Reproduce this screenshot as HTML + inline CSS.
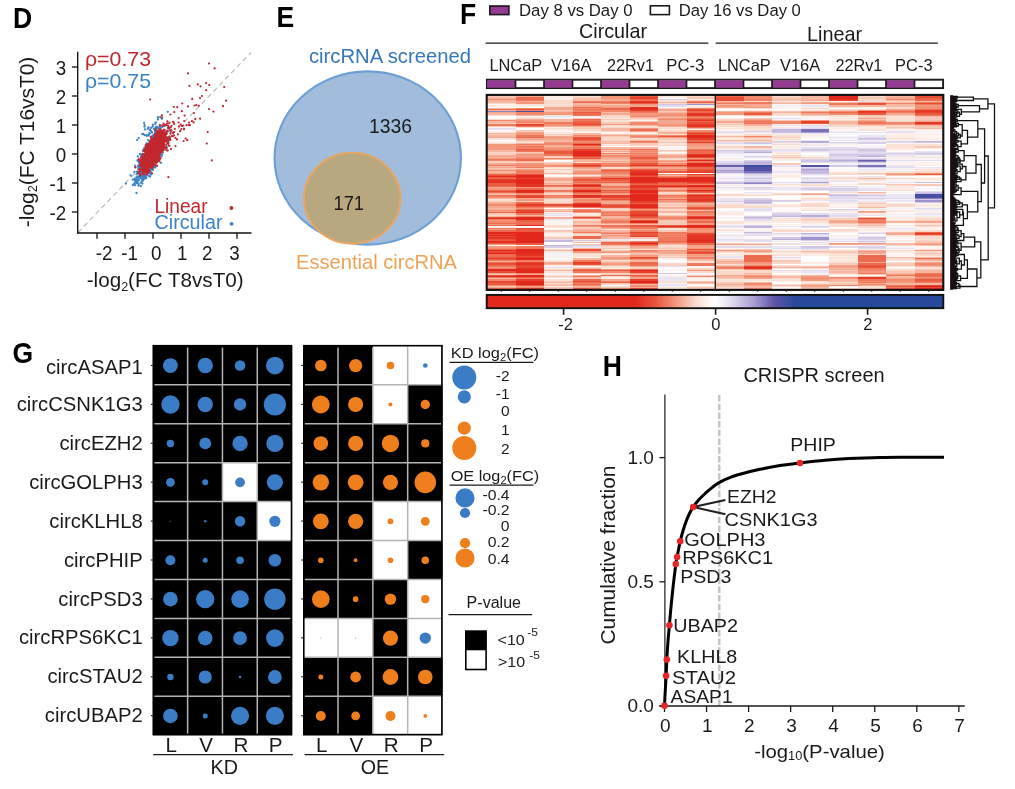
<!DOCTYPE html>
<html lang="en">
<head>
<meta charset="utf-8">
<title>Figure panels D-H</title>
<style>
html,body{margin:0;padding:0;background:#fff;}
body{width:1015px;height:789px;overflow:hidden;}
svg{display:block;font-family:"Liberation Sans",sans-serif;}
</style>
</head>
<body>
<svg width="1015" height="789" viewBox="0 0 1015 789">
<rect width="1015" height="789" fill="#ffffff"/>
<g id="panel-d">
<text x="12.9" y="27.9" font-size="28.7" fill="#000" font-weight="bold" textLength="19.17" lengthAdjust="spacingAndGlyphs">D</text>
<line x1="78" y1="232.5" x2="251" y2="52.5" stroke="#b5b5b5" stroke-width="1.1" stroke-dasharray="5 3.5"/>
<path d="M149.1 154.8h0M151.8 156.0h0M148.3 162.0h0M155.7 142.9h0M155.9 143.9h0M153.1 149.6h0M141.6 166.6h0M152.6 148.1h0M149.6 171.4h0M149.3 162.1h0M153.4 150.8h0M156.3 150.0h0M152.1 150.0h0M143.5 156.2h0M150.7 146.4h0M151.3 160.2h0M150.6 156.6h0M154.0 147.4h0M152.8 159.0h0M145.7 155.9h0M147.4 160.1h0M158.5 152.3h0M148.0 150.7h0M143.6 171.7h0M153.9 155.8h0M154.4 149.2h0M142.6 164.9h0M152.0 145.9h0M157.4 140.1h0M156.5 154.6h0M156.6 149.1h0M153.8 159.6h0M149.1 162.9h0M164.2 145.6h0M144.4 165.8h0M156.7 139.7h0M151.0 174.6h0M155.8 151.6h0M143.7 161.6h0M156.4 143.4h0M151.7 150.5h0M157.3 138.3h0M152.5 147.9h0M140.7 165.0h0M154.6 144.1h0M144.8 171.9h0M161.4 149.2h0M147.8 153.3h0M140.8 162.1h0M154.9 148.8h0M151.3 149.4h0M148.8 150.4h0M150.1 160.0h0M156.6 144.2h0M144.9 159.5h0M160.0 141.3h0M146.0 165.8h0M152.1 155.3h0M161.5 142.9h0M161.6 144.5h0M146.3 159.2h0M154.4 142.0h0M153.0 150.1h0M150.8 151.1h0M150.2 154.5h0M154.5 148.4h0M153.6 145.7h0M160.1 135.2h0M151.1 157.8h0M148.9 151.9h0M149.1 155.7h0M168.3 141.7h0M146.0 162.9h0M153.0 149.5h0M147.9 156.1h0M154.8 151.9h0M161.9 131.4h0M149.6 158.5h0M151.0 155.5h0M140.9 178.3h0M160.2 146.6h0M148.6 152.3h0M151.1 143.3h0M145.2 169.0h0M148.4 155.3h0M165.3 148.5h0M161.4 146.4h0M159.7 150.0h0M149.0 149.8h0M150.6 154.4h0M155.1 146.2h0M146.7 151.5h0M157.6 144.7h0M168.1 131.3h0M156.9 145.8h0M150.3 151.0h0M150.9 150.3h0M149.6 169.5h0M157.7 149.7h0M151.8 165.0h0M155.4 141.0h0M161.6 142.1h0M155.5 155.4h0M150.4 143.9h0M142.9 158.5h0M157.0 145.0h0M138.4 168.3h0M153.3 155.3h0M152.4 149.2h0M162.0 142.0h0M152.4 140.8h0M159.1 141.0h0M145.3 158.2h0M152.0 152.2h0M159.2 141.3h0M142.5 174.3h0M140.8 168.3h0M155.2 151.7h0M149.2 152.0h0M148.1 150.4h0M148.3 152.1h0M153.7 137.5h0M146.0 157.8h0M146.7 171.8h0M139.5 168.8h0M146.3 164.3h0M151.1 155.2h0M148.4 158.2h0M160.0 137.6h0M151.2 147.0h0M154.9 157.4h0M146.0 156.4h0M146.2 169.0h0M154.0 143.2h0M149.4 151.9h0M156.3 154.0h0M146.7 168.3h0M157.9 146.3h0M150.1 162.7h0M145.2 167.1h0M145.3 163.2h0M140.0 173.6h0M155.0 162.5h0M156.1 147.5h0M144.4 174.6h0M154.7 151.7h0M153.1 145.2h0M153.9 147.0h0M155.9 140.5h0M160.5 153.1h0M151.9 143.2h0M152.0 156.9h0M166.3 139.4h0M146.5 145.0h0M145.5 160.4h0M160.9 137.0h0M151.6 146.9h0M148.0 161.5h0M150.6 149.4h0M152.3 154.1h0M148.3 163.0h0M155.7 145.4h0M150.6 162.4h0M160.6 128.0h0M162.9 152.4h0M153.2 147.1h0M158.3 137.8h0M149.9 153.1h0M139.7 168.7h0M155.6 151.8h0M152.3 138.6h0M147.5 166.9h0M152.6 150.5h0M153.1 158.6h0M158.4 132.9h0M150.6 166.3h0M156.6 136.7h0M157.7 136.0h0M147.1 160.6h0M144.3 173.7h0M150.0 153.0h0M148.9 160.0h0M152.8 148.7h0M154.2 147.4h0M147.9 154.9h0M154.7 154.4h0M149.0 158.9h0M150.9 154.1h0M151.3 153.1h0M155.2 156.8h0M150.5 147.9h0M154.5 149.9h0M157.0 151.2h0M143.0 170.0h0M145.3 160.3h0M155.1 167.6h0M142.2 159.8h0M154.4 159.2h0M146.7 159.2h0M153.6 148.7h0M156.5 139.1h0M149.9 152.6h0M156.4 137.2h0M160.0 146.3h0M148.9 153.4h0M147.2 154.2h0M151.8 146.6h0M142.9 150.8h0M158.2 142.9h0M144.2 148.1h0M147.6 154.9h0M156.4 144.8h0M145.9 163.4h0M150.0 148.3h0M155.4 146.5h0M154.1 145.0h0M152.7 151.5h0M148.6 154.4h0M149.0 163.8h0M156.5 155.9h0M156.2 160.8h0M147.0 158.4h0M154.7 148.5h0M155.2 157.9h0M158.7 136.4h0M159.7 145.3h0M156.7 158.2h0M152.5 144.9h0M143.3 170.2h0M160.3 151.0h0M146.8 171.4h0M153.4 161.4h0M151.2 152.7h0M152.6 146.6h0M155.1 138.2h0M147.4 165.9h0M150.4 164.6h0M151.5 154.1h0M159.1 151.9h0M146.3 164.4h0M151.9 155.7h0M154.0 155.3h0M154.0 146.6h0M153.6 155.4h0M159.6 159.7h0M147.3 162.0h0M144.3 166.3h0M156.9 154.5h0M151.7 156.2h0M152.1 148.3h0M154.4 155.2h0M151.4 154.8h0M154.3 146.4h0M152.8 162.2h0M152.5 158.0h0M147.1 163.4h0M149.3 157.6h0M155.6 149.5h0M163.6 133.5h0M156.6 143.5h0M164.4 147.8h0M147.7 159.6h0M147.3 144.0h0M149.4 148.3h0M152.4 145.0h0M154.7 149.2h0M157.6 150.8h0M160.5 144.8h0M146.4 147.5h0M150.8 155.4h0M157.1 143.1h0M147.4 160.1h0M152.3 147.1h0M142.8 157.2h0M159.5 138.7h0M154.5 151.8h0M160.6 142.2h0M156.5 148.3h0M146.4 158.3h0M158.0 141.7h0M146.2 158.0h0M150.7 153.3h0M155.3 138.0h0M142.3 154.0h0M149.4 152.0h0M149.0 159.2h0M138.3 165.7h0M162.0 143.5h0M150.0 169.5h0M158.7 143.9h0M152.6 154.5h0M154.7 156.4h0M156.5 155.7h0M150.6 153.5h0M154.8 149.7h0M147.2 161.1h0M144.8 154.9h0M155.8 146.9h0M151.9 158.8h0M148.7 162.3h0M151.6 149.9h0M147.9 144.7h0M148.6 159.6h0M170.6 132.1h0M149.0 157.7h0M151.3 151.3h0M149.6 154.9h0M149.7 151.6h0M146.0 171.6h0M155.1 155.2h0M145.1 161.5h0M146.9 158.0h0M154.3 146.3h0M154.5 149.1h0M145.5 165.9h0M155.6 150.3h0M149.1 153.0h0M145.8 160.0h0M162.2 138.0h0M153.0 152.4h0M158.0 139.3h0M158.2 146.7h0M151.8 153.6h0M139.2 166.5h0M161.5 148.6h0M155.7 147.1h0M152.8 148.8h0M145.7 167.0h0M160.5 141.3h0M151.4 164.8h0M145.2 163.6h0M158.3 137.8h0M146.0 147.3h0M151.6 159.2h0M152.6 147.8h0M150.9 164.4h0M152.4 150.4h0M146.5 165.3h0M147.9 157.4h0M151.6 154.6h0M147.0 154.7h0M159.4 141.8h0M158.1 147.3h0M149.9 151.5h0M160.0 140.8h0M150.9 153.7h0M144.9 166.6h0M147.6 158.7h0M152.9 166.8h0M151.2 152.6h0M146.6 156.7h0M152.5 156.9h0M159.0 152.0h0M148.8 159.4h0M156.3 146.2h0M155.3 151.9h0M148.1 147.9h0M141.3 155.3h0M148.9 159.1h0M149.5 150.1h0M152.8 168.0h0M152.2 146.7h0M146.5 143.3h0M152.0 151.2h0M155.0 144.6h0M163.4 140.9h0M160.9 162.8h0M156.8 146.9h0M149.4 141.5h0M152.6 153.9h0M152.2 159.3h0M147.0 157.8h0M151.8 153.0h0M148.2 153.3h0M154.6 149.3h0M155.4 147.8h0M142.0 161.0h0M157.0 151.0h0M155.8 143.3h0M139.7 164.4h0M150.6 148.9h0M153.3 151.9h0M141.7 165.3h0M152.9 153.7h0M153.2 150.2h0M156.1 148.1h0M158.4 157.5h0M147.8 156.0h0M159.2 142.3h0M146.4 151.7h0M148.1 155.0h0M159.5 138.6h0M159.7 143.9h0M153.1 151.7h0M148.9 150.4h0M164.9 133.6h0M147.7 157.6h0M145.5 161.8h0M155.4 148.9h0M159.2 151.5h0M160.2 149.4h0M150.4 160.5h0M147.4 155.4h0M153.5 153.4h0M149.4 145.9h0M150.8 152.7h0M156.7 142.0h0M138.2 160.4h0M168.2 137.5h0M150.4 153.0h0M154.2 143.7h0M153.9 157.7h0M149.1 150.7h0M150.1 164.8h0M157.8 157.0h0M152.0 156.5h0M156.1 150.7h0M149.1 161.9h0M153.7 155.0h0M149.6 152.0h0M152.0 140.0h0M149.6 161.1h0M134.5 171.9h0M148.7 159.9h0M158.5 151.2h0M154.1 149.4h0M142.6 169.0h0M163.2 146.2h0M154.9 145.9h0M152.7 148.5h0M158.6 142.3h0M157.2 146.4h0M157.8 148.4h0M146.0 151.3h0M154.4 149.8h0M149.1 164.9h0M149.8 150.1h0M152.2 148.8h0M147.5 151.4h0M151.8 157.8h0M155.8 145.5h0M152.4 156.9h0M148.7 154.6h0M157.3 152.4h0M153.3 149.4h0M144.9 160.9h0M151.6 156.5h0M151.4 144.1h0M147.3 158.7h0M140.6 157.1h0M145.9 155.7h0M146.4 157.7h0M170.0 138.3h0M148.3 156.4h0M153.5 155.4h0M161.5 134.3h0M141.7 166.4h0M140.4 166.6h0M148.8 158.3h0M157.3 142.1h0M150.8 168.6h0M155.0 141.7h0M145.4 159.1h0M152.1 147.9h0M142.4 173.8h0M153.7 144.2h0M163.6 150.0h0M151.1 151.1h0M166.6 132.6h0M150.3 156.3h0M157.3 146.4h0M159.6 144.7h0M154.8 152.0h0M154.8 153.2h0M141.1 165.6h0M155.0 151.7h0M149.7 149.9h0M147.7 162.2h0M152.7 147.8h0M156.9 160.1h0M156.6 141.9h0M152.8 153.8h0M154.4 151.8h0M149.5 163.7h0M151.1 159.7h0M144.6 162.5h0M143.8 163.8h0M146.1 161.7h0M157.6 141.0h0M148.4 159.8h0M158.0 155.2h0M148.6 158.5h0M149.5 157.4h0M152.9 145.6h0M154.2 144.4h0M150.6 156.0h0M151.6 156.4h0M156.4 158.0h0M150.4 156.4h0M147.5 162.0h0M154.8 149.2h0M169.6 139.7h0M156.6 158.4h0M148.1 140.1h0M140.0 175.2h0M155.2 149.4h0M161.4 152.5h0M154.6 145.3h0M153.8 154.2h0M156.3 148.7h0M154.5 152.3h0M141.7 173.3h0M150.4 150.3h0M148.0 161.2h0M154.3 147.7h0M151.4 139.0h0M153.7 164.8h0M151.0 143.2h0M153.6 143.9h0M151.3 160.1h0M158.8 147.2h0M146.7 171.1h0M157.3 128.1h0M151.0 160.7h0M155.3 152.7h0M158.1 142.0h0M142.8 160.7h0M148.5 158.2h0M152.8 154.1h0M155.5 151.8h0M150.3 173.5h0M148.4 165.9h0M151.6 153.5h0M154.1 148.3h0M150.5 161.6h0M142.7 172.4h0M152.5 148.2h0M151.9 154.8h0M156.1 145.2h0M153.4 145.9h0M148.8 149.3h0M150.4 159.1h0M150.7 161.9h0M153.5 136.6h0M150.2 152.2h0M154.8 141.7h0M161.4 145.0h0M147.5 158.3h0M158.1 140.6h0M149.0 161.6h0M151.5 160.7h0M160.7 141.3h0M145.2 149.5h0M156.3 142.4h0M147.8 158.1h0M157.4 138.1h0M157.4 142.1h0M154.9 149.2h0M149.8 147.4h0M145.5 166.1h0M154.8 152.3h0M148.0 154.8h0M159.1 134.7h0M158.2 153.3h0M160.5 136.3h0M155.2 155.7h0M155.0 155.8h0M150.7 152.0h0M151.1 152.7h0M143.5 158.4h0M154.6 162.4h0M153.4 156.4h0M148.4 162.9h0M156.9 152.9h0M146.8 152.1h0M155.5 147.7h0M152.8 152.5h0M149.4 152.6h0M159.0 158.4h0M154.6 155.2h0M156.8 148.8h0M145.8 148.3h0M150.6 164.6h0M152.9 170.0h0M142.1 169.3h0M154.8 162.3h0M143.1 165.4h0M149.5 160.9h0M149.2 148.1h0M157.6 134.5h0M152.0 151.8h0M155.7 135.1h0M149.0 155.4h0M153.0 150.8h0M153.7 160.1h0M154.3 160.8h0M155.8 141.7h0M142.0 161.6h0M161.9 148.9h0M157.8 135.8h0M165.2 137.4h0M153.0 148.0h0M152.3 151.3h0M161.4 146.8h0M150.5 166.8h0M151.2 159.4h0M152.7 149.7h0M154.1 154.3h0M146.9 155.6h0M155.1 146.5h0M145.5 153.5h0M147.1 157.5h0M158.0 143.7h0M159.2 148.1h0M155.9 144.2h0M142.5 166.2h0M143.8 159.0h0M149.3 159.7h0M154.2 151.5h0M154.8 152.1h0M154.9 147.5h0M161.5 156.4h0M157.1 143.1h0M143.4 168.9h0M150.7 147.4h0M142.1 160.2h0M143.7 150.6h0M149.1 153.5h0M153.7 158.6h0M154.1 142.2h0M156.3 138.4h0M154.4 161.4h0M151.0 160.3h0M146.3 159.6h0M154.2 151.0h0M153.1 152.2h0M150.5 150.2h0M158.4 146.2h0M140.5 164.2h0M148.9 150.5h0M145.4 168.5h0M156.5 155.7h0M147.2 156.7h0M151.8 141.1h0M152.3 163.5h0M151.3 147.2h0M156.8 154.0h0M153.0 145.1h0M155.9 149.4h0M150.8 149.4h0M155.1 161.6h0M151.9 149.7h0M149.2 151.7h0M149.4 158.7h0M148.7 155.1h0M160.0 139.8h0M156.5 132.7h0M153.7 145.4h0M160.6 138.2h0M154.7 156.3h0M149.8 146.9h0M153.0 148.0h0M150.4 154.9h0M142.1 164.1h0M153.5 159.0h0M151.0 161.5h0M152.5 144.0h0M142.7 163.7h0M157.8 146.6h0M147.4 167.8h0M147.9 158.4h0M156.6 160.1h0M157.8 154.1h0M159.8 147.6h0M151.4 161.0h0M145.3 155.9h0M153.9 144.9h0M158.2 153.3h0M151.2 159.0h0M145.8 161.1h0M150.7 161.2h0M153.5 166.2h0M150.5 145.9h0M155.7 153.6h0M138.9 176.9h0M156.5 142.2h0M151.5 142.7h0M158.4 144.3h0M154.3 142.8h0M146.1 167.7h0M145.7 166.1h0M157.9 150.2h0M138.4 169.2h0M149.0 147.5h0M142.5 163.2h0M155.1 131.7h0M150.1 154.8h0M148.0 153.0h0M156.4 144.1h0M143.3 164.1h0M147.8 156.5h0M148.0 148.3h0M158.5 144.2h0M148.0 147.3h0M148.1 157.4h0M153.4 140.7h0M158.4 151.2h0M145.3 164.1h0M145.7 145.5h0M144.4 159.0h0M160.6 149.6h0M147.6 160.3h0M150.1 158.0h0M156.6 150.7h0M156.0 150.4h0M147.7 157.3h0M148.3 158.0h0M159.1 139.3h0M148.9 153.4h0M146.8 154.7h0M144.1 163.6h0M152.0 159.3h0M162.7 139.3h0M157.9 136.8h0M161.6 142.3h0M152.8 140.3h0M151.7 154.7h0M162.6 131.5h0M151.9 158.2h0M152.9 148.9h0M147.3 148.8h0M148.9 155.5h0M161.7 142.3h0M150.9 141.1h0M149.1 167.3h0M152.9 165.8h0M159.8 152.7h0M149.6 146.5h0M145.5 168.2h0M140.6 168.9h0M149.3 160.4h0M150.4 152.0h0M150.2 156.4h0M149.0 158.0h0M146.3 163.6h0M144.5 171.3h0M160.4 136.4h0M145.3 164.1h0M152.6 164.9h0M146.2 158.6h0M153.9 150.2h0M151.0 163.5h0M157.3 141.1h0M154.1 165.5h0M137.8 161.1h0M146.8 163.7h0M153.3 151.8h0M154.9 158.3h0M141.8 159.7h0M145.8 158.6h0M145.0 168.8h0M149.8 149.3h0M144.9 162.3h0M156.0 151.3h0M156.9 150.8h0M148.3 160.5h0M139.8 177.5h0M151.9 164.8h0M147.5 155.8h0M146.1 154.8h0M150.7 165.9h0M157.8 139.1h0M158.8 146.6h0M154.8 145.9h0M154.8 147.7h0M159.5 143.9h0M152.1 164.5h0M159.5 144.5h0M150.0 164.2h0M153.8 159.6h0M152.5 157.1h0M152.3 160.0h0M153.5 153.9h0M151.6 152.0h0M160.3 154.3h0M151.9 159.5h0M160.4 149.4h0M149.5 160.2h0M147.2 154.6h0M146.8 155.6h0M150.8 169.5h0M156.1 141.9h0M153.7 148.9h0M157.9 151.3h0M157.9 146.0h0M156.1 144.6h0M146.8 173.0h0M157.5 143.7h0M149.3 156.5h0M151.6 158.1h0M151.9 152.3h0M158.7 140.0h0M154.9 133.7h0M156.4 136.5h0M152.1 152.0h0M153.5 156.0h0M153.6 155.1h0M157.7 138.1h0M155.8 160.7h0M152.9 154.6h0M150.4 165.0h0M139.8 172.2h0M143.5 149.5h0M152.2 154.0h0M158.1 140.5h0M153.8 152.6h0M144.4 156.1h0M151.1 141.6h0M150.2 156.4h0M144.8 159.5h0M143.7 164.7h0M152.5 141.3h0M144.2 159.8h0M151.0 161.0h0M142.2 163.0h0M161.3 140.0h0M149.5 160.7h0M160.3 129.6h0M155.0 161.3h0M145.1 157.3h0M161.3 137.4h0M150.3 160.4h0M140.4 168.4h0M143.6 161.1h0M148.0 170.7h0M155.6 152.2h0M155.4 146.5h0M144.5 162.7h0M161.7 149.4h0M158.7 136.5h0M161.2 150.0h0M149.7 160.4h0M161.4 146.5h0M154.2 164.8h0M149.7 154.9h0M146.0 169.3h0M149.3 146.2h0M155.9 148.1h0M149.4 165.4h0M148.4 159.0h0M146.4 150.9h0M156.6 152.8h0M156.0 138.2h0M154.6 153.8h0M146.5 171.7h0M158.6 146.8h0M145.2 164.7h0M151.1 150.2h0M150.5 145.2h0M145.0 159.1h0M145.2 160.9h0M151.9 151.4h0M156.4 144.9h0M154.3 142.1h0M154.3 153.2h0M150.1 161.0h0M151.0 155.2h0M163.6 126.1h0M158.1 148.2h0M149.6 160.2h0M156.0 153.5h0M161.0 140.2h0M164.1 148.0h0M151.0 153.0h0M150.9 150.7h0M152.7 150.7h0M145.4 171.3h0M139.2 172.9h0M153.9 151.1h0M149.9 161.7h0M154.9 134.1h0M147.6 151.7h0M150.6 170.8h0M152.4 159.2h0M148.7 158.0h0M167.8 128.0h0M151.2 152.5h0M148.8 152.1h0M163.9 140.0h0M153.5 152.5h0M158.3 153.0h0M151.1 172.9h0M153.7 148.5h0M159.6 156.9h0M152.5 158.0h0M148.3 167.5h0M153.4 146.3h0M150.2 152.7h0M148.9 158.6h0M150.3 152.1h0M152.0 154.3h0M153.3 155.7h0M160.5 132.9h0M146.7 145.6h0M163.2 143.8h0M152.5 145.8h0M156.4 134.5h0M159.1 148.7h0M147.0 160.6h0M157.4 150.8h0M151.4 157.5h0M151.1 152.3h0M154.4 158.1h0M152.6 139.7h0M148.2 152.6h0M151.9 148.4h0M156.5 150.5h0M151.4 146.6h0M141.6 157.9h0M155.8 131.8h0M158.7 134.6h0M152.2 157.4h0M147.8 160.4h0M149.6 152.5h0M135.4 167.1h0M162.4 133.4h0M153.5 146.6h0M153.8 151.4h0M153.9 155.9h0M152.8 151.9h0M156.0 152.1h0M151.9 153.0h0M158.0 150.0h0M150.7 148.0h0M155.8 148.8h0M150.4 158.2h0M150.4 144.3h0M153.2 155.9h0M153.0 149.8h0M150.0 162.7h0M149.3 153.1h0M149.6 165.7h0M158.0 151.2h0M151.3 151.8h0M154.6 156.2h0M152.6 154.5h0M156.0 151.9h0M162.1 146.7h0M151.0 155.0h0M158.2 146.0h0M156.2 149.6h0M149.8 143.9h0M148.7 156.2h0M144.6 159.9h0M157.3 142.7h0M145.4 162.7h0M153.7 141.4h0M161.3 149.5h0M144.3 156.9h0M142.7 162.2h0M158.1 135.5h0M158.1 144.1h0M146.6 164.4h0M151.1 155.3h0M155.5 147.5h0M151.4 151.0h0M146.1 150.2h0M153.6 149.4h0M152.9 156.3h0M157.6 141.3h0M148.7 163.9h0M152.6 155.4h0M160.5 145.9h0M153.7 148.8h0M146.3 163.7h0M149.9 153.4h0M148.9 156.9h0M147.6 170.0h0M152.2 144.7h0M153.7 154.6h0M163.4 147.6h0M146.1 159.3h0M158.1 149.5h0M138.7 167.5h0M155.4 153.6h0M149.3 151.4h0M136.5 174.3h0M161.8 150.6h0M161.0 149.8h0M155.9 142.7h0M164.1 134.7h0M148.6 151.5h0M151.1 160.3h0M150.4 156.8h0M145.4 162.1h0M154.2 148.5h0M160.7 139.0h0M159.6 142.9h0M161.4 150.2h0M153.3 152.0h0M151.5 158.8h0M152.5 157.7h0M143.7 173.8h0M151.0 159.2h0M147.4 163.0h0M156.3 147.0h0M145.4 155.4h0M153.5 143.2h0M158.2 143.8h0M147.8 152.6h0M149.7 158.5h0M152.4 149.4h0M147.5 154.1h0M148.8 153.7h0M154.7 142.8h0M158.9 149.0h0M147.8 166.0h0M149.4 146.6h0M145.3 163.6h0M150.2 162.2h0M148.4 154.6h0M149.2 149.5h0M144.6 160.5h0M155.9 145.1h0M155.8 150.2h0M148.1 163.7h0M139.9 154.0h0M144.5 154.8h0M151.8 151.1h0M157.7 148.2h0M154.9 144.7h0M143.0 165.7h0M153.0 147.8h0M160.5 140.2h0M151.9 147.6h0M144.0 159.2h0M149.3 168.5h0M157.7 150.7h0M156.5 157.3h0M155.7 154.8h0M158.2 153.1h0M154.8 149.9h0M152.4 153.0h0M156.6 154.6h0M140.0 175.9h0M149.0 162.5h0M160.1 153.1h0M150.3 161.2h0M146.0 162.2h0M153.8 156.1h0M144.8 160.7h0M147.0 158.2h0M159.9 152.8h0M146.9 163.0h0M151.0 149.0h0M152.3 144.5h0M150.8 157.1h0M156.8 147.3h0M161.7 146.9h0M155.4 148.0h0M139.8 169.0h0M153.2 150.6h0M148.4 163.7h0M161.4 141.6h0M138.6 185.5h0M146.8 164.2h0M152.9 158.5h0M144.7 159.0h0M139.1 162.7h0M152.8 160.1h0M153.7 145.5h0M144.7 161.3h0M146.3 171.2h0M157.9 144.0h0M144.3 164.0h0M156.2 145.4h0M144.7 169.9h0M151.4 148.4h0M161.2 137.6h0M149.8 157.7h0M160.4 144.5h0M166.5 146.7h0M157.7 147.6h0M151.8 148.2h0M146.7 164.0h0M151.1 150.3h0M150.7 163.3h0M135.1 165.9h0M151.7 155.5h0M142.1 164.9h0M144.9 155.6h0M155.7 145.9h0M158.7 149.0h0M152.2 157.3h0M146.0 164.6h0M146.7 152.2h0M138.6 184.1h0M149.1 162.3h0M152.6 149.0h0M153.5 154.0h0M153.0 148.4h0M144.2 170.1h0M149.3 167.6h0M152.4 152.0h0M155.1 154.0h0M153.8 156.8h0M151.5 148.9h0M156.0 135.8h0M149.6 161.3h0M146.6 161.1h0M158.8 134.7h0M145.7 175.0h0M144.3 163.9h0M150.9 152.9h0M162.7 139.2h0M141.8 157.4h0M155.9 151.8h0M147.3 173.9h0M140.4 174.8h0M149.0 151.3h0M153.4 155.9h0M142.5 156.6h0M143.2 168.7h0M150.1 152.1h0M148.5 156.1h0M156.1 146.5h0M150.4 157.8h0M148.1 162.3h0M149.8 155.7h0M153.9 139.4h0M147.9 156.3h0M150.9 149.5h0M151.1 152.8h0M152.2 158.9h0M151.8 143.5h0M153.6 146.8h0M154.5 151.9h0M141.6 168.0h0M154.5 152.6h0M143.5 159.7h0M138.1 166.2h0M147.4 143.6h0M148.7 159.8h0M149.1 157.6h0M153.3 156.6h0M159.3 145.3h0M147.8 156.9h0M150.8 158.9h0M154.7 150.9h0M146.5 164.6h0M145.5 152.4h0M143.8 161.4h0M149.4 161.0h0M149.5 155.8h0M150.4 142.8h0M144.8 156.7h0M153.9 143.2h0M145.6 158.5h0M150.3 153.7h0M148.6 154.6h0M153.5 141.6h0M147.8 153.5h0M161.5 142.3h0M162.8 142.8h0M152.5 147.6h0M157.8 139.9h0M152.2 159.0h0M143.7 163.1h0M153.0 156.8h0M156.7 150.1h0M151.3 158.1h0M154.9 136.3h0M156.1 157.6h0M152.9 150.9h0M151.7 149.4h0M147.5 154.6h0M155.1 145.7h0M151.5 157.8h0M158.5 149.2h0M153.5 156.1h0M143.6 164.6h0M151.6 153.6h0M160.6 148.3h0M150.7 153.5h0M159.1 148.0h0M154.5 146.7h0M154.5 139.5h0M147.7 144.8h0M153.2 154.2h0M153.3 158.1h0M157.6 157.0h0M150.2 153.4h0M157.5 145.3h0M160.3 142.3h0M157.1 157.9h0M150.9 161.5h0M157.0 139.7h0M145.3 162.0h0M154.8 149.7h0M152.9 153.7h0M154.9 161.1h0M147.6 152.0h0M159.2 141.6h0M149.2 160.2h0M154.8 145.1h0M148.2 157.8h0M149.4 154.3h0M154.5 159.4h0M149.8 151.6h0M147.2 163.1h0M157.0 146.5h0M142.8 155.5h0M152.5 144.5h0M142.7 158.7h0M146.0 168.5h0M151.1 144.8h0M149.7 162.5h0M158.6 155.0h0M153.0 147.0h0M148.2 156.3h0M154.4 146.3h0M149.6 146.4h0M149.3 157.2h0M146.4 156.1h0M148.6 156.1h0M152.3 152.1h0M159.8 138.9h0M155.7 139.9h0M158.2 142.5h0M153.7 144.2h0M148.3 158.2h0M151.4 154.6h0M159.8 143.6h0M149.7 170.7h0M151.8 158.4h0M150.2 152.3h0M158.8 137.9h0M156.2 150.7h0M150.4 146.2h0M163.7 145.3h0M151.0 143.2h0M160.0 148.9h0M148.7 155.0h0M156.2 151.3h0M145.0 159.3h0M141.7 162.3h0M151.1 152.7h0M147.8 165.7h0M159.4 150.1h0M165.3 138.2h0M146.3 163.7h0M151.8 148.1h0M150.9 156.9h0M152.6 156.4h0M137.6 173.6h0M152.5 151.0h0M148.3 158.3h0M152.1 153.7h0M161.9 147.0h0M156.2 153.1h0M146.0 153.6h0M147.4 162.8h0M146.4 156.8h0M152.6 164.5h0M155.2 149.7h0M147.2 154.3h0M149.1 161.6h0M151.3 151.5h0M146.5 156.0h0M163.0 135.2h0M166.5 141.2h0M159.1 142.1h0M153.5 152.8h0M152.9 160.9h0M146.2 154.6h0M158.0 144.4h0M151.7 159.1h0M141.2 160.5h0M154.5 147.6h0M152.8 159.3h0M155.3 141.0h0M144.7 159.8h0M145.1 161.7h0M148.9 162.2h0M152.8 148.5h0M158.9 146.3h0M154.8 137.8h0M150.4 152.7h0M148.9 160.3h0M145.8 164.4h0M148.7 149.5h0M153.6 144.0h0M151.0 156.9h0M149.7 155.9h0M141.1 168.4h0M146.5 167.5h0M153.5 154.1h0M159.5 139.5h0M155.3 138.2h0M148.5 156.9h0M158.6 143.0h0M153.9 153.6h0M153.2 153.5h0M149.2 151.0h0M157.6 141.4h0M150.2 150.3h0M153.8 157.7h0M159.6 145.6h0M158.9 147.2h0M163.1 139.7h0M151.1 143.7h0M143.2 159.0h0M153.5 163.3h0M153.0 146.1h0M158.6 159.4h0M152.6 154.4h0M151.1 157.1h0M145.7 169.5h0M155.2 135.6h0M152.4 157.7h0M150.4 148.3h0M158.6 149.3h0M152.2 151.8h0M154.6 139.3h0M150.5 146.9h0M145.5 154.2h0M148.8 156.4h0M158.7 147.2h0M154.1 162.3h0M152.8 152.1h0M148.9 155.3h0M142.6 171.3h0M153.1 153.1h0M150.1 143.8h0M152.7 158.8h0M148.9 158.4h0M157.1 149.9h0M159.4 146.7h0M154.2 145.7h0M147.4 145.9h0M151.2 155.9h0M151.4 147.9h0M145.2 164.3h0M146.7 158.6h0M157.8 141.8h0M150.9 154.0h0M136.5 177.1h0M153.9 148.4h0M152.3 158.0h0M147.4 152.9h0M147.4 152.0h0M141.9 175.9h0M153.1 151.1h0M146.6 168.6h0M161.3 145.0h0M150.8 163.6h0M147.5 157.0h0M160.6 151.8h0M160.1 142.1h0M144.3 155.6h0M155.2 156.2h0M151.2 160.0h0M148.4 162.5h0M154.7 145.4h0M137.4 160.4h0M147.2 161.6h0M149.7 151.9h0M149.1 155.4h0M160.9 135.5h0M146.1 162.0h0M149.5 160.8h0M151.7 151.3h0M148.1 154.4h0M154.9 157.2h0M156.8 146.6h0M159.2 144.3h0M153.5 148.1h0M144.5 178.7h0M142.7 160.5h0M140.8 167.8h0M155.2 143.4h0M156.3 148.6h0M151.2 153.1h0M151.6 148.7h0M153.1 156.3h0M148.2 157.5h0M148.3 169.6h0M151.7 157.8h0M158.7 160.2h0M151.1 156.7h0M161.2 150.2h0M149.1 155.2h0M150.4 147.3h0M159.7 146.3h0M155.7 148.6h0M143.7 157.6h0M151.7 160.2h0M152.6 158.3h0M155.2 144.3h0M156.8 140.9h0M146.0 156.9h0M150.4 159.7h0M151.0 154.8h0M159.0 144.3h0M153.5 150.5h0M149.6 165.9h0M149.7 154.6h0M151.9 149.9h0M153.4 153.8h0M156.8 151.5h0M146.9 165.4h0M147.1 166.4h0M150.2 160.7h0M154.1 155.2h0M155.2 159.9h0M155.2 153.7h0M162.2 154.8h0M147.6 159.8h0M142.2 174.7h0M152.0 152.4h0M144.6 165.7h0M155.5 153.8h0M155.3 147.2h0M153.3 154.0h0M154.0 148.6h0M155.6 143.0h0M149.8 159.0h0M157.1 146.2h0M152.0 149.3h0M158.1 158.9h0M151.8 151.9h0M154.8 153.6h0M157.7 143.4h0M151.3 159.9h0M156.8 152.2h0M141.4 158.5h0M154.5 140.5h0M156.1 140.8h0M140.8 165.7h0M155.9 142.0h0M139.4 168.0h0M159.4 142.6h0M150.1 151.0h0M148.2 152.3h0M150.1 151.6h0M156.7 155.2h0M137.9 156.5h0M149.1 148.8h0M151.7 140.8h0M156.2 149.7h0M157.8 156.5h0M148.3 153.5h0M141.7 171.5h0M151.5 144.1h0M149.7 162.4h0M146.6 171.2h0M148.0 145.3h0M142.6 160.9h0M155.3 150.6h0M169.3 139.0h0M150.9 153.6h0M155.9 132.2h0M161.6 133.8h0M152.1 142.7h0M153.1 148.4h0M152.3 155.7h0M140.5 160.6h0M156.2 160.8h0M153.2 151.2h0M147.1 148.8h0M152.2 154.8h0M148.6 159.8h0M149.3 156.8h0M164.6 126.0h0M142.2 157.5h0M153.3 144.6h0M152.6 145.9h0M150.6 145.2h0M152.3 142.5h0M149.6 157.7h0M145.7 158.0h0M157.0 147.1h0M146.5 143.9h0M160.8 144.7h0M149.5 153.1h0M150.5 153.1h0M156.2 142.8h0M144.8 161.6h0M151.1 154.1h0M153.6 160.6h0M147.4 164.7h0M155.4 167.2h0M160.6 145.6h0M147.0 158.7h0M137.0 171.8h0M146.4 158.9h0M148.8 157.0h0M152.4 152.5h0M148.2 171.6h0M147.4 151.4h0M137.9 177.7h0M140.5 174.8h0M148.8 175.8h0M142.7 175.8h0M142.5 180.0h0M141.3 182.5h0M130.6 175.5h0M147.1 169.2h0M146.5 175.7h0M136.5 193.0h0M137.8 172.6h0M143.8 179.2h0M143.1 180.0h0M137.0 183.2h0M142.1 180.3h0M140.7 182.7h0M138.3 172.3h0M134.4 172.3h0M134.8 183.0h0M137.6 182.0h0M140.1 174.9h0M146.7 173.0h0M137.4 182.5h0M144.2 177.0h0M139.8 168.8h0M135.3 181.9h0M150.0 176.7h0M142.6 176.3h0M132.7 179.7h0M143.3 176.8h0M141.0 173.2h0M142.3 171.9h0M145.9 177.6h0M139.4 178.1h0M125.8 183.6h0M142.8 180.7h0M134.2 183.9h0M142.9 177.9h0M142.2 180.5h0M138.9 180.1h0M137.1 177.8h0M140.4 176.9h0M139.2 171.9h0M142.7 173.5h0M142.9 179.2h0M138.2 176.5h0M143.1 176.5h0M140.8 186.0h0M139.6 172.8h0M146.3 178.2h0M139.9 177.0h0M137.1 179.8h0M142.8 179.5h0M134.7 180.1h0M144.9 177.2h0M135.3 178.9h0M144.2 174.7h0M147.6 170.4h0M134.6 178.6h0M139.6 176.6h0M144.1 178.8h0M137.6 182.2h0M148.9 172.9h0M145.4 170.2h0M136.6 180.8h0M145.7 176.3h0M132.8 185.0h0M136.2 180.4h0M135.0 185.2h0M142.4 183.6h0M149.8 130.2h0M152.2 136.2h0M158.1 133.7h0M153.0 124.8h0M157.9 117.2h0M152.7 126.5h0M155.8 133.4h0M157.9 119.5h0M153.6 134.6h0M158.0 119.4h0M143.1 133.8h0M161.9 118.8h0M155.0 128.4h0M144.9 129.4h0M167.8 111.8h0M148.5 127.5h0M147.7 128.7h0M159.2 128.0h0M146.1 135.6h0M155.2 123.8h0M162.5 126.8h0M156.2 128.6h0M151.1 127.8h0M147.1 135.5h0M144.5 135.0h0M148.5 135.7h0M154.8 130.2h0M159.7 125.0h0M155.3 123.7h0M146.7 135.8h0M148.2 135.2h0M144.6 125.1h0M144.5 126.7h0M158.0 131.0h0M137.1 140.1h0M138.7 138.1h0M155.9 122.4h0M151.2 131.3h0M153.9 128.9h0M149.9 133.5h0M159.8 124.8h0M157.2 130.9h0M152.0 137.7h0M148.4 128.3h0M154.8 129.2h0M155.9 127.1h0M152.8 126.4h0M162.1 134.2h0M142.2 134.1h0M144.1 122.8h0M152.0 132.4h0M157.9 119.3h0M160.2 117.2h0M148.3 128.2h0M148.7 135.1h0M149.3 133.1h0M157.3 126.6h0M154.9 129.1h0M164.8 133.2h0M150.0 130.0h0" stroke="#3b83c8" stroke-width="2.3" stroke-linecap="round" fill="none"/>
<path d="M146.4 158.0h0M150.8 147.7h0M155.6 143.0h0M156.0 154.2h0M154.0 153.8h0M155.9 150.2h0M170.2 130.5h0M159.6 143.2h0M150.0 151.8h0M157.0 153.3h0M155.8 148.5h0M144.8 166.8h0M151.4 160.6h0M154.6 147.2h0M146.3 150.2h0M157.0 149.2h0M154.8 149.8h0M149.2 170.7h0M142.2 158.8h0M153.6 153.2h0M148.6 154.2h0M148.9 148.5h0M152.1 142.8h0M152.0 151.7h0M152.3 155.0h0M148.3 165.5h0M151.6 159.7h0M157.7 141.7h0M156.0 140.7h0M154.4 142.8h0M148.9 154.7h0M153.8 154.7h0M152.3 138.9h0M144.8 156.1h0M159.2 146.4h0M153.6 148.7h0M156.1 149.1h0M148.4 161.1h0M154.8 143.6h0M153.1 144.6h0M149.7 159.0h0M152.1 147.2h0M152.7 149.4h0M148.2 147.1h0M144.9 168.1h0M162.7 132.2h0M145.9 165.1h0M149.8 163.4h0M149.7 147.0h0M153.5 146.8h0M157.0 143.3h0M150.4 158.1h0M155.7 149.3h0M151.9 157.0h0M150.5 164.4h0M154.2 152.6h0M149.8 148.9h0M154.8 149.2h0M151.9 162.0h0M157.5 149.9h0M158.3 149.8h0M154.3 150.5h0M158.6 144.4h0M151.4 153.8h0M149.1 148.3h0M154.0 154.2h0M151.0 153.1h0M152.5 148.5h0M141.1 158.0h0M161.0 137.4h0M148.3 160.3h0M161.5 151.7h0M157.7 153.6h0M151.5 145.7h0M161.9 145.9h0M156.5 139.5h0M150.7 153.4h0M160.5 140.4h0M155.1 152.4h0M164.2 146.0h0M161.9 142.1h0M161.8 146.9h0M151.5 159.5h0M161.4 147.6h0M157.7 147.8h0M159.4 142.4h0M156.0 148.0h0M161.7 138.3h0M147.9 148.5h0M151.9 149.7h0M150.1 156.7h0M144.3 168.5h0M155.2 158.7h0M144.7 160.4h0M159.5 150.5h0M162.7 138.7h0M151.4 153.8h0M153.6 162.6h0M147.3 155.2h0M161.8 146.6h0M158.2 142.2h0M155.4 147.5h0M158.0 149.8h0M151.9 159.4h0M150.4 153.2h0M144.3 158.1h0M152.7 157.1h0M155.1 145.4h0M155.2 155.6h0M154.1 161.5h0M155.1 141.0h0M159.6 136.4h0M152.8 147.7h0M158.1 144.6h0M148.9 145.3h0M150.8 166.5h0M147.6 157.5h0M159.2 142.9h0M156.4 146.4h0M156.3 150.0h0M153.5 151.6h0M151.8 139.3h0M144.9 164.4h0M150.8 149.9h0M155.6 142.1h0M159.4 146.7h0M142.1 161.8h0M161.0 143.7h0M156.8 140.5h0M141.3 168.7h0M146.4 157.1h0M152.9 157.7h0M148.0 163.5h0M159.5 144.7h0M140.2 162.2h0M159.0 136.3h0M154.8 157.4h0M145.5 163.0h0M161.7 143.2h0M154.3 151.8h0M151.1 152.6h0M163.7 136.4h0M153.9 143.2h0M152.8 153.8h0M145.2 159.9h0M153.3 156.5h0M156.2 152.2h0M150.2 159.8h0M160.1 140.4h0M159.8 149.7h0M140.7 163.4h0M156.3 156.8h0M151.4 151.2h0M149.2 165.9h0M157.2 150.9h0M154.0 143.8h0M156.5 148.7h0M155.1 152.7h0M152.1 151.9h0M149.6 152.2h0M165.4 132.4h0M152.6 147.5h0M156.8 146.8h0M148.8 153.5h0M154.6 145.8h0M148.6 156.5h0M157.2 145.6h0M150.0 143.0h0M144.4 164.8h0M152.7 162.5h0M151.1 152.3h0M157.0 152.8h0M149.4 163.3h0M155.9 152.6h0M142.6 160.1h0M150.7 158.0h0M153.0 156.5h0M154.6 151.6h0M159.4 148.5h0M142.1 159.7h0M151.1 150.8h0M156.7 141.5h0M158.1 153.6h0M144.4 162.1h0M154.7 145.3h0M152.9 167.4h0M152.7 161.3h0M157.1 151.8h0M161.6 140.2h0M148.9 154.3h0M157.4 150.3h0M151.4 142.1h0M149.4 161.2h0M154.7 162.7h0M154.1 145.5h0M156.3 143.2h0M145.6 166.9h0M154.2 158.4h0M147.0 158.7h0M146.8 150.6h0M160.8 150.8h0M153.6 142.5h0M157.1 153.1h0M164.4 139.9h0M158.6 155.0h0M153.3 163.7h0M154.6 141.1h0M155.8 156.7h0M152.2 151.3h0M150.7 165.0h0M151.2 151.1h0M152.6 150.1h0M155.6 165.0h0M157.4 150.4h0M154.1 152.9h0M157.7 148.9h0M159.3 140.2h0M153.9 146.3h0M156.6 142.7h0M148.3 165.9h0M159.7 136.3h0M154.5 146.3h0M152.9 157.4h0M147.7 154.5h0M150.0 145.7h0M150.2 144.5h0M158.8 149.7h0M159.6 137.4h0M157.8 141.8h0M151.8 153.7h0M152.4 162.0h0M151.5 159.1h0M148.4 162.1h0M149.0 145.8h0M161.2 137.2h0M157.8 144.9h0M155.2 148.4h0M151.2 155.5h0M146.3 162.2h0M155.5 155.4h0M150.5 153.3h0M149.4 155.9h0M151.4 144.5h0M149.5 160.0h0M151.3 145.0h0M152.5 148.1h0M149.3 163.7h0M161.1 138.9h0M164.4 135.7h0M157.0 156.1h0M155.4 146.0h0M161.3 135.4h0M156.6 155.6h0M150.5 150.5h0M153.1 143.6h0M157.2 144.7h0M155.5 146.4h0M143.2 159.0h0M158.1 150.2h0M154.3 147.9h0M153.5 141.3h0M139.6 174.3h0M162.5 141.0h0M145.2 165.5h0M153.9 148.2h0M150.4 160.8h0M152.2 148.7h0M161.7 133.8h0M157.9 159.9h0M158.3 143.2h0M156.0 153.8h0M161.7 148.5h0M153.7 150.3h0M151.0 146.9h0M152.9 152.0h0M161.5 147.2h0M152.2 153.6h0M159.8 145.2h0M155.7 144.5h0M151.7 165.4h0M147.3 162.4h0M152.3 148.6h0M158.5 145.8h0M155.6 141.7h0M154.1 146.9h0M147.2 160.9h0M152.8 161.4h0M151.7 153.9h0M154.3 152.3h0M148.9 158.9h0M154.6 159.5h0M149.7 148.3h0M155.0 156.3h0M154.3 137.7h0M153.0 154.0h0M145.9 144.9h0M151.2 148.7h0M160.6 150.8h0M152.6 162.1h0M155.0 147.8h0M161.7 137.7h0M154.6 148.8h0M147.4 146.5h0M150.5 146.8h0M160.7 142.2h0M157.5 146.6h0M153.6 150.3h0M155.0 152.0h0M160.7 139.6h0M151.6 143.1h0M153.2 144.8h0M156.1 138.7h0M164.8 140.2h0M161.5 135.9h0M148.2 166.2h0M147.9 162.4h0M150.3 164.8h0M154.3 148.8h0M151.0 158.1h0M152.9 152.0h0M154.2 151.8h0M161.8 147.1h0M151.1 155.1h0M153.5 155.5h0M151.2 154.5h0M159.2 141.9h0M151.4 152.9h0M158.2 156.4h0M155.8 149.9h0M149.4 154.9h0M155.4 152.0h0M149.6 171.4h0M154.0 151.5h0M154.7 147.6h0M155.3 157.2h0M149.4 160.3h0M146.6 159.2h0M153.3 164.8h0M157.9 155.8h0M163.2 140.1h0M154.1 152.2h0M155.3 160.7h0M143.4 164.7h0M151.5 139.8h0M145.9 162.0h0M151.0 150.1h0M149.3 154.3h0M155.5 143.3h0M160.0 140.2h0M162.0 140.3h0M168.4 142.7h0M155.9 152.6h0M150.6 149.7h0M156.2 145.6h0M164.9 140.3h0M145.8 155.4h0M160.9 152.2h0M158.4 150.6h0M156.3 137.8h0M147.5 153.6h0M147.4 156.5h0M156.3 147.0h0M148.5 163.1h0M145.7 170.4h0M142.4 164.0h0M156.6 163.0h0M154.9 146.2h0M145.3 152.0h0M156.6 145.2h0M159.5 161.3h0M152.7 146.0h0M155.2 158.4h0M158.2 154.4h0M151.3 150.1h0M159.0 139.0h0M152.2 148.6h0M160.3 140.8h0M150.8 162.4h0M150.9 162.8h0M152.1 151.8h0M154.0 150.0h0M150.9 153.5h0M155.0 143.2h0M160.6 140.0h0M147.6 150.6h0M153.2 149.1h0M149.4 152.5h0M154.8 156.2h0M154.6 152.6h0M158.1 145.4h0M154.7 150.8h0M156.8 149.7h0M162.3 145.0h0M154.0 155.6h0M156.1 146.2h0M156.5 148.1h0M153.9 158.9h0M153.7 154.9h0M153.7 148.6h0M157.9 143.8h0M153.6 159.0h0M152.8 150.3h0M161.1 135.7h0M155.4 134.4h0M145.7 157.7h0M154.3 140.2h0M150.7 149.9h0M151.8 155.3h0M148.5 148.3h0M149.9 151.5h0M155.9 152.0h0M152.6 148.4h0M148.8 156.0h0M153.2 158.5h0M155.2 150.0h0M154.2 161.8h0M152.9 150.8h0M151.1 154.7h0M146.1 162.8h0M154.5 147.6h0M150.8 156.1h0M151.0 148.6h0M154.0 148.8h0M148.1 155.7h0M159.8 142.9h0M155.3 145.8h0M157.1 153.9h0M166.2 140.5h0M155.9 149.6h0M159.5 143.0h0M151.9 150.1h0M157.0 148.6h0M155.2 145.4h0M159.1 144.4h0M154.5 152.4h0M149.4 157.6h0M151.1 145.9h0M151.1 153.3h0M158.6 142.6h0M153.4 150.7h0M153.6 158.4h0M157.7 142.3h0M156.9 154.0h0M150.6 148.6h0M151.4 161.9h0M154.0 140.3h0M161.5 140.1h0M158.2 147.9h0M156.8 147.9h0M150.5 147.7h0M155.6 149.1h0M153.0 150.5h0M150.9 155.1h0M151.5 144.1h0M148.5 169.5h0M145.9 159.7h0M163.0 131.9h0M150.8 148.6h0M144.1 170.9h0M140.3 175.6h0M152.9 156.2h0M156.6 149.7h0M158.1 142.7h0M147.8 144.3h0M149.0 153.4h0M146.6 155.9h0M157.1 143.6h0M153.0 141.0h0M159.2 140.6h0M150.1 150.0h0M149.3 163.9h0M153.9 146.7h0M156.1 134.0h0M153.6 148.1h0M148.7 162.0h0M155.3 149.7h0M152.1 149.9h0M151.3 159.8h0M143.0 163.5h0M154.1 162.4h0M157.3 145.7h0M158.6 144.4h0M160.2 133.6h0M153.8 150.0h0M150.4 151.7h0M162.9 136.4h0M147.4 158.9h0M162.2 145.4h0M153.6 158.4h0M154.4 146.2h0M153.8 158.9h0M162.2 149.4h0M156.6 146.6h0M158.5 134.8h0M152.0 156.4h0M154.5 154.7h0M151.1 149.2h0M148.1 163.5h0M157.5 138.6h0M152.6 159.0h0M154.7 160.6h0M158.0 142.3h0M154.8 159.1h0M153.5 155.2h0M161.9 138.7h0M151.0 148.8h0M156.8 146.5h0M140.7 166.1h0M157.2 147.4h0M155.9 153.6h0M154.2 160.8h0M154.1 146.7h0M152.0 148.8h0M155.4 147.0h0M148.3 157.3h0M156.6 141.2h0M160.0 142.4h0M146.0 157.0h0M150.5 155.5h0M152.7 152.8h0M154.0 154.4h0M140.9 162.2h0M159.9 152.9h0M153.1 160.2h0M157.8 161.2h0M151.2 144.3h0M150.4 152.1h0M159.5 148.7h0M163.3 144.6h0M152.3 156.4h0M158.3 141.5h0M155.3 153.6h0M153.8 150.6h0M152.5 143.5h0M156.5 145.6h0M148.4 150.0h0M154.4 149.9h0M156.4 135.0h0M156.2 147.2h0M148.0 154.6h0M149.0 153.4h0M150.1 157.3h0M154.8 148.0h0M153.4 149.0h0M152.2 161.8h0M147.8 149.7h0M155.7 153.8h0M150.8 156.4h0M159.9 143.1h0M155.3 146.8h0M154.8 155.6h0M155.0 153.7h0M160.7 150.0h0M156.0 141.5h0M151.6 144.5h0M160.8 149.4h0M152.5 150.3h0M154.0 158.5h0M153.9 147.2h0M152.5 155.1h0M153.1 156.2h0M150.3 150.1h0M148.0 164.4h0M159.2 138.4h0M151.8 148.9h0M152.9 161.1h0M151.0 166.5h0M152.2 148.1h0M153.8 155.7h0M153.4 147.3h0M160.0 152.4h0M158.5 159.6h0M156.9 150.9h0M146.7 154.1h0M157.5 140.4h0M154.2 149.0h0M151.3 156.0h0M163.7 138.0h0M150.4 156.2h0M154.8 143.2h0M150.0 159.0h0M156.0 155.4h0M155.2 151.6h0M156.0 143.6h0M150.2 157.3h0M153.9 155.1h0M148.6 153.4h0M156.7 157.3h0M148.2 156.1h0M165.2 136.5h0M153.1 154.6h0M146.8 161.6h0M152.6 151.3h0M163.3 134.6h0M154.4 144.0h0M152.7 157.2h0M157.8 138.3h0M157.2 152.0h0M155.6 143.8h0M158.2 132.2h0M156.0 144.8h0M155.4 151.8h0M154.1 148.6h0M153.1 144.7h0M156.3 149.8h0M152.4 142.7h0M149.0 157.1h0M154.2 146.3h0M155.8 147.7h0M148.4 149.5h0M164.5 140.3h0M142.1 170.2h0M152.3 157.4h0M146.2 163.1h0M154.9 152.7h0M150.3 140.6h0M156.2 138.2h0M150.0 153.5h0M150.1 149.8h0M156.0 147.0h0M157.8 148.3h0M152.5 142.9h0M150.5 153.3h0M144.2 162.7h0M160.0 146.3h0M160.2 137.8h0M150.5 166.8h0M157.8 145.1h0M162.4 145.4h0M150.4 150.6h0M148.9 155.5h0M151.1 153.6h0M148.5 145.4h0M146.4 159.7h0M162.0 143.1h0M147.4 147.1h0M166.1 148.0h0M157.4 155.9h0M156.8 150.2h0M153.7 157.0h0M156.1 149.9h0M150.6 158.7h0M157.6 149.6h0M162.7 145.5h0M156.3 148.9h0M161.7 140.3h0M154.7 158.6h0M159.8 135.2h0M150.2 160.3h0M145.4 156.3h0M161.0 151.4h0M151.8 148.3h0M152.2 150.6h0M152.5 151.9h0M156.4 150.9h0M154.5 148.5h0M155.3 152.8h0M148.8 158.8h0M163.7 148.9h0M147.6 153.4h0M159.2 145.5h0M161.8 142.6h0M144.9 154.4h0M152.4 155.1h0M149.8 165.7h0M149.2 160.6h0M143.2 163.8h0M153.8 155.1h0M148.9 155.1h0M160.9 140.2h0M155.5 136.4h0M158.1 140.6h0M145.7 161.8h0M151.4 154.2h0M146.8 166.3h0M157.1 151.1h0M150.0 146.5h0M156.4 150.7h0M169.2 136.5h0M148.7 157.8h0M157.7 159.6h0M152.3 148.1h0M146.2 155.2h0M152.2 145.7h0M147.4 163.1h0M154.3 135.9h0M158.9 141.2h0M156.1 151.0h0M159.9 144.0h0M159.9 153.7h0M142.5 160.2h0M153.2 150.6h0M144.8 168.4h0M166.1 137.8h0M144.5 170.0h0M152.0 155.8h0M152.3 163.2h0M146.8 159.9h0M151.0 150.4h0M147.5 158.8h0M151.5 154.7h0M157.2 144.1h0M156.9 156.7h0M151.6 149.7h0M151.2 156.4h0M150.2 167.2h0M151.5 146.2h0M157.1 156.5h0M156.5 156.8h0M147.0 150.4h0M155.2 149.3h0M158.8 144.0h0M154.3 148.5h0M159.5 150.3h0M153.9 144.5h0M152.1 173.4h0M145.7 156.0h0M151.7 150.1h0M153.3 145.7h0M152.6 157.3h0M153.3 147.5h0M154.9 146.4h0M148.4 153.4h0M152.4 146.0h0M140.4 169.5h0M143.1 170.0h0M150.5 156.4h0M152.5 155.6h0M153.4 149.3h0M157.6 161.7h0M148.8 156.6h0M148.9 157.3h0M154.8 155.8h0M153.6 139.6h0M153.3 152.3h0M161.3 146.0h0M146.8 156.4h0M158.6 145.2h0M149.4 156.9h0M149.3 163.2h0M159.7 157.2h0M153.8 145.5h0M162.0 145.4h0M150.7 162.7h0M142.3 158.3h0M150.5 159.5h0M153.1 149.0h0M162.6 141.8h0M156.7 144.3h0M148.3 160.3h0M143.2 159.8h0M147.7 155.5h0M160.7 142.2h0M149.5 158.2h0M146.7 158.2h0M156.5 151.2h0M148.7 155.6h0M142.7 160.0h0M150.9 157.9h0M145.1 156.0h0M153.2 142.8h0M156.0 146.1h0M158.6 137.0h0M153.7 147.0h0M155.8 145.2h0M157.5 155.3h0M165.8 137.3h0M146.8 169.5h0M158.0 134.2h0M150.3 155.7h0M159.2 154.8h0M151.3 153.6h0M161.9 144.1h0M148.8 171.7h0M154.7 148.7h0M153.7 150.0h0M156.0 156.5h0M154.3 147.2h0M152.3 144.8h0M155.2 165.0h0M140.0 162.0h0M148.6 158.0h0M151.4 150.3h0M168.3 126.9h0M154.6 153.7h0M153.1 148.6h0M145.7 156.9h0M157.0 141.6h0M153.8 152.6h0M144.9 163.3h0M151.0 159.9h0M160.3 145.0h0M148.9 154.1h0M163.2 137.8h0M160.0 143.7h0M153.8 147.5h0M145.9 158.7h0M160.8 137.1h0M158.1 151.2h0M160.8 137.1h0M146.1 160.2h0M149.5 164.1h0M140.8 166.0h0M164.5 134.9h0M152.5 157.5h0M149.6 155.0h0M162.5 141.5h0M160.6 150.8h0M160.1 139.5h0M146.2 154.4h0M149.1 150.0h0M153.2 140.2h0M150.1 157.6h0M155.6 148.8h0M161.9 140.5h0M153.7 141.2h0M148.3 168.4h0M151.4 159.4h0M155.7 148.6h0M155.2 151.5h0M151.8 151.2h0M158.9 146.8h0M155.3 153.5h0M157.0 155.1h0M155.5 142.7h0M155.0 153.5h0M153.6 156.1h0M142.4 160.9h0M170.7 127.4h0M147.1 159.7h0M160.6 149.2h0M144.1 165.7h0M141.2 164.8h0M151.3 155.2h0M155.2 152.3h0M153.8 153.0h0M159.0 141.7h0M155.0 152.5h0M153.1 157.6h0M148.3 148.3h0M157.5 142.2h0M157.5 136.5h0M154.9 150.0h0M148.3 159.7h0M156.9 156.5h0M142.6 158.4h0M153.0 148.9h0M155.7 150.6h0M152.3 146.0h0M150.8 153.0h0M159.2 144.1h0M156.4 151.3h0M157.1 147.2h0M160.5 143.6h0M161.4 138.5h0M152.7 159.5h0M158.8 147.5h0M157.3 135.0h0M159.8 149.6h0M155.6 152.8h0M144.8 165.0h0M164.2 134.9h0M153.2 142.9h0M150.6 159.5h0M153.3 148.5h0M148.2 160.1h0M150.4 150.7h0M148.6 164.9h0M152.4 155.9h0M158.4 146.7h0M166.9 130.9h0M154.1 143.1h0M158.1 144.1h0M150.9 158.4h0M156.0 145.9h0M154.3 145.9h0M152.6 159.9h0M160.9 140.8h0M141.6 160.9h0M152.8 159.5h0M160.8 145.6h0M146.9 156.6h0M142.9 153.8h0M146.2 146.3h0M153.9 150.3h0M151.6 156.8h0M151.6 155.4h0M160.4 147.4h0M155.9 162.1h0M160.0 139.6h0M153.7 151.6h0M156.8 142.9h0M157.6 144.9h0M153.2 152.4h0M142.7 164.3h0M149.9 165.5h0M156.2 146.0h0M152.0 142.2h0M157.2 134.4h0M146.7 149.8h0M150.2 158.5h0M158.3 143.9h0M154.1 152.9h0M166.4 144.6h0M155.7 139.6h0M151.6 151.0h0M146.3 157.2h0M168.9 128.7h0M159.5 140.4h0M153.6 154.9h0M156.4 154.9h0M143.1 159.4h0M151.9 150.6h0M153.5 148.2h0M150.0 165.0h0M153.3 144.8h0M150.5 161.4h0M147.3 158.8h0M154.9 148.6h0M149.9 156.0h0M155.9 152.3h0M156.9 149.8h0M155.7 142.8h0M149.0 155.9h0M155.9 152.0h0M154.6 161.3h0M147.9 159.8h0M160.4 142.9h0M153.2 149.6h0M155.5 144.5h0M156.4 140.4h0M149.3 156.8h0M144.4 170.2h0M152.0 150.3h0M149.9 152.4h0M161.5 142.3h0M150.6 155.3h0M155.2 147.3h0M160.4 146.7h0M153.4 143.4h0M156.9 141.9h0M151.4 152.6h0M157.9 154.6h0M151.2 156.2h0M154.1 157.0h0M153.7 153.8h0M154.0 150.9h0M151.4 148.4h0M152.9 149.6h0M157.1 165.9h0M149.9 153.5h0M154.0 155.1h0M145.9 159.7h0M150.7 155.2h0M156.7 141.6h0M163.2 133.9h0M155.5 142.7h0M150.7 156.5h0M154.2 157.5h0M157.1 150.3h0M162.6 139.3h0M151.0 155.5h0M151.3 155.4h0M155.2 158.5h0M147.4 172.6h0M158.5 138.6h0M155.5 150.9h0M152.1 152.1h0M150.1 163.7h0M146.2 156.4h0M145.8 157.8h0M143.7 150.6h0M153.1 152.0h0M156.6 139.3h0M160.5 145.7h0M153.4 139.7h0M154.5 153.0h0M146.1 158.4h0M154.8 149.1h0M143.8 158.5h0M157.2 144.5h0M162.4 141.3h0M160.1 146.0h0M160.2 140.7h0M159.8 142.4h0M151.9 146.4h0M149.6 158.4h0M147.6 156.6h0M152.2 156.8h0M149.3 151.1h0M149.3 159.7h0M153.8 154.9h0M150.8 157.9h0M158.9 152.4h0M158.0 151.5h0M147.0 147.6h0M149.8 159.1h0M149.7 151.8h0M156.8 158.0h0M146.4 163.8h0M151.5 147.7h0M149.4 154.6h0M145.4 157.7h0M155.2 153.1h0M149.2 147.1h0M153.7 160.1h0M152.7 161.3h0M152.3 151.2h0M152.3 152.4h0M159.3 142.5h0M155.0 165.0h0M156.5 150.6h0M151.3 152.7h0M160.0 150.3h0M149.4 158.8h0M149.6 150.7h0M157.5 158.7h0M163.1 144.8h0M148.4 158.4h0M142.0 155.7h0M153.0 148.6h0M145.3 151.2h0M157.9 148.3h0M163.6 144.2h0M150.3 155.6h0M156.9 151.9h0M155.8 136.5h0M148.6 158.2h0M152.2 157.1h0M157.3 143.4h0M152.8 152.1h0M145.2 158.7h0M146.7 155.2h0M153.0 155.8h0M159.1 139.3h0M152.5 157.3h0M150.6 143.6h0M157.2 147.2h0M150.9 161.4h0M152.4 151.9h0M147.1 154.5h0M151.7 160.1h0M154.2 146.7h0M149.2 152.9h0M143.0 159.9h0M156.9 130.9h0M148.3 147.2h0M149.9 148.8h0M152.2 152.7h0M160.8 150.1h0M147.7 150.2h0M140.4 173.9h0M156.4 143.6h0M150.3 147.6h0M160.4 151.8h0M150.5 159.3h0M155.5 151.0h0M148.3 149.5h0M138.1 172.7h0M155.7 143.0h0M153.4 151.2h0M154.4 148.1h0M148.3 155.8h0M150.3 158.0h0M155.4 156.1h0M156.3 146.7h0M149.0 160.7h0M143.7 159.9h0M149.9 144.1h0M149.2 154.7h0M152.0 160.4h0M152.0 151.4h0M158.1 144.5h0M155.3 141.1h0M150.5 158.6h0M144.8 155.8h0M148.7 154.3h0M158.1 144.6h0M150.6 154.7h0M154.0 159.6h0M148.6 158.5h0M149.2 147.0h0M144.6 165.0h0M145.5 158.6h0M156.1 145.7h0M160.7 140.4h0M154.4 157.3h0M150.5 156.4h0M152.6 144.0h0M154.6 154.7h0M153.4 154.7h0M152.8 155.7h0M150.1 158.3h0M151.9 155.7h0M147.5 162.0h0M154.0 145.8h0M154.6 157.5h0M151.6 163.5h0M151.8 156.9h0M144.4 164.2h0M149.2 164.6h0M148.2 155.7h0M162.1 137.5h0M153.6 154.2h0M153.2 153.2h0M166.8 133.8h0M155.4 153.5h0M156.5 149.4h0M159.0 148.6h0M161.6 134.5h0M144.3 164.1h0M155.0 156.9h0M156.9 148.8h0M158.2 146.5h0M156.8 144.1h0M154.6 148.3h0M153.1 154.8h0M153.4 146.7h0M145.5 151.0h0M163.8 140.0h0M158.2 143.0h0M156.8 150.8h0M162.7 139.8h0M155.3 153.2h0M157.8 134.3h0M149.5 162.4h0M156.3 149.2h0M155.2 155.9h0M157.7 151.2h0M150.1 141.0h0M147.5 151.3h0M157.0 149.5h0M154.9 155.6h0M152.0 149.4h0M158.1 144.6h0M148.9 160.8h0M159.6 137.9h0M159.2 155.2h0M150.2 153.9h0M145.8 156.6h0M153.7 157.2h0M151.5 156.1h0M159.2 144.5h0M146.5 165.4h0M151.3 144.8h0M144.8 157.8h0M155.0 145.4h0M153.0 158.8h0M147.0 157.3h0M151.4 148.0h0M160.9 137.2h0M147.9 148.7h0M149.5 162.3h0M153.1 154.9h0M156.5 151.6h0M162.2 144.5h0M155.1 160.4h0M146.2 161.4h0M156.7 146.8h0M155.2 143.8h0M151.3 155.9h0M149.3 145.3h0M150.7 154.2h0M152.3 145.2h0M152.2 146.4h0M150.0 160.1h0M145.8 166.5h0M162.3 132.9h0M153.2 150.3h0M157.9 152.4h0M151.2 157.0h0M156.7 151.4h0M155.2 153.4h0M150.1 162.7h0M147.9 156.3h0M157.3 140.0h0M154.3 153.9h0M148.7 164.4h0M156.6 137.4h0M155.2 150.0h0M152.4 150.7h0M152.3 150.8h0M150.3 157.3h0M149.1 152.4h0M144.8 159.0h0M154.6 152.8h0M153.3 151.0h0M151.4 152.5h0M156.0 158.6h0M156.4 146.0h0M159.2 137.8h0M141.9 165.0h0M149.2 155.9h0M159.4 132.4h0M149.4 160.0h0M145.1 162.8h0M158.7 148.6h0M152.7 146.4h0M158.7 146.2h0M153.9 158.5h0M147.4 160.9h0M150.0 149.0h0M155.6 149.8h0M143.4 160.0h0M154.3 150.1h0M152.4 160.8h0M158.9 148.0h0M154.1 145.8h0M156.6 156.9h0M151.2 146.0h0M153.8 159.8h0M157.5 142.7h0M147.5 154.3h0M151.1 152.8h0M154.0 155.7h0M156.9 151.0h0M147.9 166.0h0M155.4 140.1h0M159.5 132.9h0M159.4 138.4h0M150.5 154.0h0M147.6 157.6h0M151.0 154.4h0M150.5 158.2h0M158.1 144.1h0M150.0 156.2h0M157.6 144.8h0M153.2 162.9h0M145.1 160.1h0M151.8 151.3h0M157.1 142.6h0M156.9 148.4h0M145.2 162.9h0M151.5 151.2h0M149.6 159.9h0M164.1 137.1h0M150.2 148.5h0M152.2 153.0h0M142.7 166.7h0M148.1 152.8h0M154.2 152.7h0M156.0 148.4h0M147.1 152.9h0M157.2 143.6h0M154.5 143.8h0M155.7 146.8h0M152.7 150.2h0M154.8 146.4h0M151.5 155.8h0M158.1 149.4h0M151.4 150.3h0M155.0 150.5h0M154.8 152.3h0M158.6 144.3h0M150.2 166.2h0M154.1 148.7h0M155.3 157.1h0M155.3 153.8h0M150.9 156.5h0M149.6 156.8h0M151.8 157.8h0M148.5 150.8h0M157.3 137.7h0M150.5 157.1h0M155.0 143.0h0M147.1 164.1h0M148.4 155.9h0M157.6 147.3h0M162.9 135.2h0M163.9 132.7h0M147.9 149.1h0M152.7 156.2h0M159.6 140.0h0M158.9 149.6h0M158.0 136.0h0M153.0 147.5h0M152.8 156.0h0M146.1 163.0h0M156.1 140.5h0M155.3 143.1h0M153.4 160.5h0M155.6 146.1h0M158.3 144.2h0M148.7 157.5h0M155.8 158.2h0M153.5 157.4h0M150.5 160.8h0M150.8 140.4h0M161.6 138.6h0M158.3 142.6h0M157.0 149.3h0M157.9 154.5h0M162.9 138.7h0M157.5 147.7h0M157.9 151.1h0M149.5 152.8h0M161.3 149.8h0M160.6 146.8h0M153.2 148.4h0M151.8 156.8h0M151.4 152.6h0M153.4 142.2h0M149.3 145.7h0M144.8 155.9h0M150.3 152.2h0M152.8 152.2h0M148.7 157.9h0M161.3 135.5h0M153.4 151.5h0M157.0 146.2h0M152.9 151.1h0M156.1 139.8h0M151.0 160.5h0M151.3 149.9h0M158.0 144.2h0M162.6 135.1h0M155.3 138.3h0M159.4 138.7h0M160.1 149.3h0M148.0 166.1h0M153.5 144.1h0M150.2 150.5h0M151.6 144.5h0M149.4 165.0h0M152.5 160.4h0M162.7 140.0h0M151.3 158.4h0M158.4 145.2h0M155.0 144.8h0M157.5 160.0h0M153.2 160.4h0M162.1 139.8h0M148.1 159.1h0M156.3 152.4h0M155.4 141.5h0M156.7 150.4h0M155.6 161.3h0M154.0 147.8h0M149.7 158.5h0M169.9 127.7h0M144.9 163.6h0M153.2 155.4h0M156.4 146.7h0M156.1 142.9h0M157.9 142.2h0M141.0 166.0h0M143.8 162.9h0M158.4 151.6h0M151.4 149.5h0M149.3 159.2h0M153.3 158.6h0M147.5 154.2h0M156.4 146.1h0M152.8 151.8h0M154.2 148.9h0M144.0 163.3h0M157.3 162.0h0M159.7 147.8h0M153.2 152.6h0M149.7 155.1h0M153.2 153.9h0M150.4 159.2h0M149.2 159.3h0M156.1 139.5h0M159.0 150.2h0M155.1 141.9h0M168.1 138.8h0M154.5 151.8h0M160.9 144.6h0M145.6 150.7h0M163.1 146.7h0M149.8 149.1h0M149.4 155.2h0M158.0 152.9h0M147.9 154.5h0M160.0 143.1h0M160.1 143.7h0M154.6 149.5h0M147.6 160.6h0M159.6 158.7h0M152.5 159.1h0M152.9 159.4h0M157.5 160.5h0M157.0 144.3h0M155.3 149.8h0M154.5 151.3h0M153.3 162.2h0M151.0 149.2h0M150.0 147.1h0M148.7 162.4h0M147.6 154.3h0M161.9 139.0h0M157.2 146.1h0M149.8 159.3h0M145.0 157.1h0M152.6 144.9h0M161.7 152.4h0M156.5 145.0h0M143.6 169.8h0M152.9 140.9h0M147.2 158.1h0M155.4 149.1h0M150.9 152.8h0M154.1 145.9h0M155.6 156.6h0M155.3 139.1h0M151.3 155.8h0M161.7 147.8h0M148.9 143.7h0M156.6 150.4h0M161.8 135.5h0M155.6 150.4h0M159.3 152.8h0M152.4 163.7h0M157.5 144.5h0M163.9 145.6h0M147.1 153.8h0M155.5 160.4h0M151.5 157.7h0M149.9 149.5h0M154.6 138.6h0M157.3 147.6h0M155.7 157.5h0M155.2 139.5h0M156.4 152.1h0M154.9 145.4h0M157.4 152.0h0M156.1 150.4h0M154.9 144.7h0M156.5 148.6h0M157.6 138.3h0M156.4 140.2h0M155.2 145.6h0M154.3 162.5h0M148.0 157.7h0M156.7 144.0h0M148.8 147.8h0M156.9 157.3h0M148.2 163.9h0M154.3 144.8h0M150.4 151.8h0M155.4 152.9h0M149.9 153.1h0M160.6 145.7h0M149.2 158.9h0M165.4 136.7h0M147.3 160.5h0M157.3 148.4h0M152.1 150.8h0M146.6 165.0h0M153.4 145.3h0M158.5 142.5h0M144.0 160.5h0M158.5 146.4h0M154.9 141.7h0M159.6 156.1h0M153.8 156.2h0M150.4 158.0h0M148.1 159.2h0M164.5 138.6h0M159.3 144.1h0M156.1 147.4h0M160.7 142.5h0M158.7 146.9h0M154.5 149.6h0M162.4 145.4h0M144.2 159.7h0M150.4 145.7h0M148.8 159.0h0M151.1 144.0h0M154.6 152.5h0M156.7 146.0h0M148.4 156.0h0M148.7 167.7h0M160.5 141.6h0M151.2 153.3h0M156.6 141.9h0M151.2 159.7h0M158.1 143.5h0M148.6 154.9h0M152.1 139.2h0M151.2 160.8h0M149.8 156.2h0M148.5 153.3h0M140.0 170.7h0M151.7 156.8h0M155.3 146.7h0M145.3 156.9h0M157.3 147.7h0M157.5 151.5h0M149.4 161.3h0M154.7 148.4h0M154.3 159.5h0M142.3 161.9h0M157.3 149.8h0M156.8 141.4h0M153.6 155.5h0M157.2 142.1h0M159.1 138.2h0M152.9 156.8h0M150.0 156.4h0M152.9 148.5h0M158.3 149.5h0M155.4 154.4h0M159.2 149.7h0M153.6 157.2h0M151.8 156.6h0M160.4 140.1h0M148.6 162.9h0M155.0 144.8h0M149.0 146.4h0M157.8 142.7h0M162.2 144.1h0M155.3 154.0h0M149.8 147.5h0M147.1 152.7h0M145.5 157.0h0M149.1 165.7h0M157.8 143.8h0M154.2 150.3h0M154.8 150.3h0M150.4 159.4h0M156.5 151.9h0M150.5 145.0h0M148.5 164.9h0M152.4 153.5h0M156.0 151.8h0M153.4 151.6h0M148.9 149.6h0M158.2 152.7h0M145.6 162.5h0M153.9 155.0h0M149.0 162.3h0M155.1 153.2h0M149.7 152.7h0M155.2 144.5h0M156.7 154.8h0M152.5 143.1h0M155.4 139.8h0M153.6 148.7h0M150.0 149.5h0M146.5 150.1h0M157.6 145.9h0M158.0 153.9h0M151.5 157.5h0M165.6 133.8h0M157.0 144.2h0M150.6 152.7h0M142.9 165.2h0M160.5 136.1h0M152.9 151.6h0M157.6 147.1h0M152.6 149.7h0M151.1 153.5h0M152.9 147.7h0M151.1 159.8h0M148.5 152.8h0M159.2 152.1h0M143.0 158.2h0M158.5 150.8h0M149.5 158.2h0M154.8 137.9h0M152.9 154.7h0M164.0 138.2h0M158.9 138.9h0M150.3 148.7h0M157.8 149.0h0M147.4 163.1h0M151.8 145.3h0M139.3 169.4h0M151.8 144.3h0M156.2 144.9h0M154.2 147.4h0M151.4 156.4h0M155.3 151.1h0M151.7 164.9h0M154.1 146.7h0M157.3 152.4h0M158.1 145.5h0M140.9 164.9h0M141.3 159.3h0M156.9 148.0h0M146.1 170.5h0M155.7 137.9h0M159.4 152.1h0M152.8 154.8h0M155.8 148.0h0M159.5 151.3h0M147.0 154.1h0M145.2 161.1h0M161.0 132.6h0M144.5 160.1h0M145.2 165.1h0M148.5 152.6h0M157.8 142.0h0M158.0 136.1h0M154.4 156.6h0M164.6 133.1h0M155.5 148.4h0M156.2 157.5h0M153.3 152.7h0M158.9 144.7h0M150.3 165.1h0M152.7 151.3h0M157.5 146.4h0M155.3 147.0h0M160.5 138.5h0M152.6 149.4h0M161.0 143.5h0M152.4 155.5h0M141.4 165.7h0M157.8 143.1h0M163.5 123.5h0M157.3 133.4h0M161.2 146.7h0M158.5 139.0h0M148.6 160.5h0M153.8 144.0h0M155.7 150.9h0M158.8 146.7h0M151.1 150.8h0M146.7 161.9h0M148.3 167.9h0M148.9 161.0h0M156.6 146.0h0M157.0 144.2h0M151.4 152.2h0M152.2 153.0h0M159.3 144.3h0M161.3 144.3h0M157.5 155.8h0M147.0 153.0h0M151.4 146.7h0M150.5 164.3h0M153.1 146.5h0M161.6 147.6h0M155.8 147.6h0M152.7 149.7h0M157.2 156.2h0M153.3 161.9h0M148.7 161.7h0M160.8 142.5h0M153.7 159.1h0M146.4 164.6h0M152.3 155.5h0M148.3 158.0h0M147.2 159.8h0M148.7 155.2h0M148.8 157.5h0M155.6 148.1h0M159.6 138.5h0M148.1 157.1h0M151.8 158.6h0M153.1 151.0h0M165.3 141.0h0M149.4 151.6h0M152.0 152.1h0M163.1 141.6h0M151.5 149.8h0M156.1 158.7h0M149.0 158.8h0M149.2 147.0h0M163.2 143.6h0M155.2 142.0h0M160.5 139.1h0M150.9 155.4h0M158.0 138.5h0M158.2 137.1h0M154.0 157.5h0M165.3 139.5h0M153.0 154.6h0M151.5 159.3h0M146.9 147.6h0M154.8 152.7h0M151.4 149.0h0M151.4 158.3h0M144.6 163.7h0M152.1 143.8h0M142.6 157.2h0M157.8 145.1h0M152.9 154.9h0M146.5 159.5h0M153.1 157.2h0M155.3 147.2h0M151.9 156.3h0M147.8 153.1h0M159.6 144.8h0M149.5 149.5h0M147.4 150.8h0M153.5 146.9h0M142.8 166.1h0M153.3 147.9h0M154.0 146.8h0M149.0 153.9h0M156.8 152.6h0M149.0 159.0h0M161.1 152.3h0M142.3 165.6h0M145.5 147.0h0M148.1 163.6h0M149.6 155.1h0M154.7 138.0h0M146.0 157.2h0M147.8 160.3h0M152.5 149.1h0M146.6 155.5h0M153.3 151.9h0M155.5 155.1h0M155.5 145.3h0M150.1 144.9h0M150.9 158.5h0M151.2 150.0h0M150.2 151.3h0M160.4 150.6h0M156.5 159.9h0M153.6 154.3h0M155.5 146.6h0M149.7 149.9h0M159.4 148.7h0M149.9 156.2h0M161.0 138.6h0M152.1 152.3h0M157.0 145.5h0M155.9 149.8h0M153.6 156.9h0M157.8 147.2h0M154.6 146.5h0M165.1 148.1h0M153.1 160.8h0M150.6 151.4h0M159.4 129.4h0M158.0 140.3h0M150.5 153.5h0M142.2 166.7h0M151.9 150.3h0M152.5 161.1h0M151.1 156.4h0M156.0 149.3h0M153.0 147.6h0M149.2 160.5h0M148.8 164.3h0M159.2 145.5h0M159.6 136.2h0M156.9 144.4h0M154.0 143.0h0M155.5 151.4h0M145.9 152.6h0M154.1 153.5h0M155.5 159.5h0M150.6 154.7h0M153.7 156.3h0M153.9 147.5h0M150.9 154.3h0M147.2 157.5h0M150.5 159.5h0M155.3 151.0h0M143.0 156.9h0M164.6 142.4h0M157.6 152.5h0M158.5 151.0h0M154.4 146.1h0M157.0 136.3h0M149.0 153.4h0M152.0 155.1h0M156.5 158.0h0M161.7 149.9h0M151.1 152.4h0M158.5 153.0h0M149.0 155.3h0M153.5 140.4h0M144.9 164.7h0M149.5 153.9h0M147.2 164.7h0M158.2 146.9h0M154.9 155.7h0M161.8 144.9h0M150.8 159.0h0M146.3 150.5h0M157.0 150.6h0M154.9 146.4h0M154.9 149.3h0M158.7 149.7h0M149.9 161.4h0M147.1 158.8h0M157.9 134.4h0M154.4 147.4h0M154.5 158.7h0M160.0 149.5h0M155.2 149.3h0M156.4 145.5h0M155.6 151.5h0M147.6 165.2h0M153.4 144.4h0M161.9 142.3h0M147.8 157.5h0M144.5 150.8h0M159.1 151.4h0M146.9 153.2h0M145.8 165.2h0M143.4 159.6h0M154.7 156.5h0M148.7 165.7h0M144.6 171.9h0M162.1 134.4h0M155.8 155.3h0M156.3 149.5h0M146.2 155.7h0M157.8 149.4h0M159.7 140.0h0M155.2 147.3h0M156.6 141.3h0M150.1 152.9h0M151.6 154.2h0M163.2 140.4h0M150.5 160.0h0M147.9 153.2h0M140.6 160.1h0M161.2 139.8h0M155.3 150.5h0M154.4 145.1h0M154.4 144.4h0M161.8 136.7h0M156.9 146.3h0M153.1 150.7h0M152.4 151.2h0M150.6 158.2h0M154.4 157.9h0M152.1 157.6h0M157.4 155.0h0M155.7 155.2h0M149.7 157.4h0M157.2 142.4h0M152.8 155.9h0M163.6 143.6h0M162.4 145.0h0M150.9 156.2h0M148.0 150.5h0M155.7 147.6h0M157.3 144.0h0M147.1 155.8h0M156.0 137.8h0M143.4 157.5h0M149.7 153.4h0M151.6 138.4h0M149.9 165.5h0M156.9 141.5h0M160.6 158.5h0M155.9 148.3h0M135.4 167.4h0M145.0 171.6h0M152.9 151.1h0M157.4 146.0h0M151.0 158.9h0M148.2 169.5h0M163.5 137.2h0M147.8 149.0h0M157.5 143.0h0M157.3 146.1h0M147.1 156.8h0M149.6 147.8h0M153.6 154.0h0M155.5 149.0h0M154.8 155.2h0M153.7 148.9h0M161.0 137.3h0M145.1 164.3h0M164.1 134.3h0M150.8 157.9h0M142.9 174.1h0M157.1 155.3h0M158.4 148.3h0M148.1 166.9h0M150.7 143.4h0M158.1 141.4h0M152.2 155.8h0M158.9 144.7h0M152.5 146.6h0M151.6 159.4h0M155.4 147.9h0M154.6 153.2h0M148.0 148.9h0M163.6 143.4h0M153.5 150.9h0M157.6 153.3h0M152.6 152.2h0M149.9 156.2h0M148.0 172.7h0M152.9 150.0h0M154.2 153.4h0M151.2 148.2h0M157.4 144.5h0M148.7 153.3h0M153.2 145.8h0M154.9 154.9h0M156.1 150.9h0M155.8 141.1h0M142.8 167.3h0M156.0 139.4h0M154.1 156.4h0M154.6 142.2h0M157.1 152.8h0M146.6 162.8h0M152.1 158.9h0M152.4 146.3h0M147.1 168.5h0M158.9 141.4h0M150.4 153.0h0M152.4 162.2h0M149.2 148.7h0M157.7 143.5h0M158.8 144.2h0M153.5 163.2h0M152.1 147.9h0M155.2 148.6h0M148.8 152.8h0M157.5 154.0h0M161.0 141.8h0M155.1 148.3h0M157.1 142.8h0M157.9 141.5h0M153.1 155.8h0M158.6 147.7h0M158.0 144.6h0M152.3 160.0h0M147.9 149.7h0M156.6 145.4h0M144.5 155.4h0M152.4 153.5h0M148.0 152.6h0M155.6 150.7h0M157.2 151.5h0M149.8 159.8h0M138.5 171.9h0M164.8 137.7h0M157.5 155.0h0M153.7 149.7h0M160.4 147.8h0M153.0 157.1h0M146.1 149.7h0M152.9 153.0h0M149.2 154.1h0M160.6 129.6h0M162.8 141.2h0M157.8 143.1h0M155.6 140.0h0M161.0 149.0h0M155.5 151.1h0M155.3 147.9h0M162.4 145.8h0M150.8 157.3h0M156.0 149.5h0M153.3 151.5h0M158.1 143.4h0M159.7 152.4h0M147.1 174.1h0M161.6 152.3h0M155.5 148.4h0M155.7 152.5h0M149.5 153.3h0M155.1 148.6h0M151.0 154.9h0M158.4 142.2h0M155.4 156.1h0M156.6 152.1h0M145.2 161.2h0M156.8 159.5h0M145.4 154.0h0M156.9 154.3h0M147.0 158.8h0M154.6 147.9h0M151.4 152.1h0M158.4 138.6h0M156.9 154.9h0M150.9 145.4h0M159.8 148.4h0M150.6 147.9h0M149.6 155.5h0M153.8 139.4h0M152.1 166.6h0M153.1 147.4h0M152.2 154.2h0M148.5 152.6h0M143.8 168.2h0M150.3 162.4h0M149.9 164.8h0M153.4 151.5h0M161.5 137.8h0M154.0 148.1h0M150.4 147.0h0M153.7 150.1h0M153.1 152.3h0M150.5 150.2h0M153.4 151.1h0M151.2 150.5h0M149.0 153.6h0M149.3 154.7h0M160.7 136.1h0M156.6 154.0h0M156.5 145.6h0M159.1 145.4h0M150.5 144.4h0M156.1 148.8h0M148.3 161.6h0M154.5 145.3h0M152.0 161.8h0M152.5 160.6h0M151.7 153.1h0M160.8 136.1h0M164.2 142.7h0M157.6 138.1h0M153.0 146.6h0M150.6 143.5h0M161.8 147.9h0M141.8 162.4h0M149.4 149.9h0M154.0 155.1h0M151.3 153.6h0M156.1 150.9h0M154.0 146.2h0M153.0 160.3h0M146.4 167.2h0M155.6 152.4h0M151.5 156.3h0M152.0 150.2h0M155.7 144.2h0M160.9 144.2h0M155.0 146.1h0M151.2 160.6h0M155.2 147.8h0M150.0 162.1h0M157.4 138.1h0M150.0 148.6h0M150.4 158.8h0M158.4 144.4h0M147.3 159.2h0M167.4 143.0h0M157.8 152.2h0M156.4 156.0h0M166.1 132.2h0M155.8 152.2h0M150.8 159.9h0M149.4 146.9h0M150.2 146.6h0M149.0 159.6h0M156.3 157.3h0M169.5 122.6h0M156.7 150.7h0M154.2 157.6h0M158.9 144.0h0M152.4 152.2h0M147.9 160.6h0M151.6 152.0h0M151.9 154.3h0M152.9 145.8h0M148.0 155.2h0M150.1 159.4h0M153.7 150.1h0M146.2 172.5h0M150.2 151.3h0M146.3 154.5h0M146.0 165.4h0M155.7 147.1h0M152.0 147.8h0M148.6 156.7h0M158.6 143.5h0M147.5 171.4h0M153.1 159.8h0M157.6 149.3h0M162.0 131.1h0M149.1 162.1h0M157.8 138.4h0M146.4 157.7h0M145.3 151.5h0M149.6 154.7h0M157.1 147.7h0M149.6 150.7h0M155.8 147.6h0M150.4 145.1h0M156.0 143.3h0M159.4 151.3h0M155.5 151.1h0M158.3 146.6h0M158.4 149.6h0M159.3 145.6h0M151.8 150.7h0M152.2 153.9h0M152.8 140.3h0M148.8 166.9h0M153.6 144.6h0M151.4 154.9h0M146.2 149.2h0M156.2 154.9h0M150.9 165.6h0M160.0 141.8h0M159.7 135.1h0M153.3 147.4h0M154.1 143.7h0M151.2 159.9h0M151.0 155.5h0M156.1 155.3h0M145.6 153.9h0M164.7 136.2h0M155.2 148.5h0M148.1 156.9h0M148.5 149.2h0M156.3 148.3h0M143.1 172.2h0M159.1 145.9h0M155.2 143.4h0M146.9 165.5h0M152.7 147.7h0M154.2 150.2h0M153.0 154.6h0M156.6 153.1h0M157.1 146.9h0M157.1 148.1h0M154.9 148.0h0M155.9 143.7h0M157.8 144.4h0M154.1 152.2h0M148.8 161.4h0M155.8 141.6h0M149.2 157.6h0M160.5 147.7h0M154.0 148.1h0M155.9 145.1h0M152.2 168.2h0M162.8 136.5h0M155.1 139.4h0M157.2 152.5h0M159.2 140.8h0M154.3 146.6h0M154.5 142.3h0M151.8 164.8h0M154.1 150.3h0M157.1 145.5h0M147.0 149.6h0M155.8 138.8h0M160.0 144.6h0M153.4 152.2h0M151.6 161.3h0M157.7 152.1h0M154.4 146.4h0M153.6 153.8h0M154.6 145.9h0M158.6 150.5h0M141.1 160.8h0M151.9 157.1h0M148.4 166.9h0M148.3 155.8h0M146.8 174.3h0M153.3 155.4h0M151.7 158.2h0M146.4 163.3h0M158.0 141.8h0M147.8 153.6h0M158.5 149.2h0M153.0 156.8h0M149.9 149.8h0M151.1 157.1h0M157.4 152.4h0M149.9 154.1h0M163.5 145.5h0M157.3 146.3h0M157.0 140.3h0M160.7 135.5h0M154.3 155.8h0M146.1 161.7h0M153.3 146.0h0M159.3 151.0h0M152.6 155.0h0M152.0 148.9h0M158.5 139.8h0M148.1 169.1h0M147.0 169.3h0M148.0 160.4h0M149.5 151.3h0M159.3 143.7h0M157.4 144.0h0M151.6 145.7h0M149.1 160.5h0M162.0 140.6h0M154.1 149.5h0M155.6 156.7h0M153.6 158.3h0M157.3 142.5h0M159.8 147.8h0M155.2 147.2h0M159.9 144.3h0M153.0 142.9h0M163.6 138.8h0M153.2 162.5h0M155.8 142.9h0M157.4 150.1h0M154.1 139.0h0M153.8 151.9h0M157.0 141.3h0M160.2 141.5h0M155.9 149.3h0M152.1 156.3h0M151.0 152.8h0M152.1 153.6h0M153.8 159.7h0M162.2 141.8h0M158.3 135.7h0M146.0 170.3h0M151.8 154.6h0M154.6 153.7h0M159.0 141.8h0M159.4 145.0h0M147.0 154.6h0M155.5 155.3h0M149.9 151.0h0M154.9 153.8h0M153.4 144.8h0M153.6 153.5h0M144.4 149.9h0M147.8 150.1h0M151.8 151.9h0M144.8 167.0h0M154.7 151.5h0M155.8 156.7h0M147.0 162.7h0M151.2 156.5h0M154.3 153.6h0M145.3 154.1h0M150.5 160.8h0M155.6 155.5h0M147.2 157.5h0M157.0 143.9h0M164.4 124.7h0M160.9 143.0h0M153.2 140.2h0M146.9 151.5h0M153.5 159.5h0M155.7 153.0h0M159.3 148.2h0M159.5 153.8h0M150.5 149.9h0M151.6 152.9h0M161.1 144.6h0M148.2 161.2h0M155.5 149.6h0M146.2 157.0h0M149.6 160.9h0M151.3 150.5h0M154.1 156.2h0M164.2 137.0h0M157.3 145.4h0M151.8 155.2h0M151.6 152.9h0M143.3 171.3h0M156.6 152.3h0M145.4 150.7h0M159.3 135.9h0M155.4 150.0h0M160.5 141.2h0M148.3 156.7h0M151.9 160.2h0M164.0 142.6h0M153.0 151.7h0M158.8 151.7h0M153.6 153.7h0M158.6 134.8h0M148.0 155.9h0M156.6 146.4h0M153.4 153.7h0M149.1 164.4h0M153.3 141.8h0M162.2 137.5h0M162.9 150.4h0M156.1 155.5h0M161.6 147.6h0M152.5 161.2h0M152.8 146.9h0M144.7 155.7h0M156.6 151.4h0M155.0 148.7h0M156.0 144.3h0M159.2 132.4h0M148.7 155.1h0M159.5 147.0h0M152.8 158.5h0M141.7 169.6h0M149.2 151.1h0M151.1 155.6h0M153.8 144.2h0M157.8 150.5h0M160.1 132.8h0M154.5 138.2h0M158.1 139.7h0M153.7 146.7h0M145.1 161.8h0M148.4 158.3h0M147.4 158.1h0M144.5 151.2h0M152.9 149.0h0M150.7 158.9h0M154.2 152.2h0M154.3 156.1h0M157.8 146.0h0M149.2 157.1h0M150.8 157.9h0M154.1 156.8h0M155.0 154.4h0M147.5 160.5h0M156.5 156.0h0M151.5 154.1h0M154.3 147.4h0M152.9 148.4h0M153.8 156.4h0M157.2 147.2h0M151.8 150.2h0M153.9 142.1h0M151.8 157.3h0M159.9 149.3h0M146.7 160.2h0M153.7 157.6h0M155.3 144.2h0M158.3 144.7h0M153.4 154.1h0M160.5 152.2h0M148.8 155.6h0M150.6 157.5h0M152.6 149.5h0M154.9 156.8h0M165.8 133.0h0M165.5 140.8h0M154.6 150.8h0M155.5 133.3h0M160.4 145.3h0M152.5 158.8h0M150.8 154.9h0M151.1 157.8h0M155.5 137.6h0M148.7 167.3h0M148.4 152.2h0M146.9 150.9h0M151.0 146.2h0M151.0 158.5h0M156.1 142.5h0M146.8 166.3h0M152.5 148.9h0M146.1 153.5h0M150.1 147.8h0M155.0 148.0h0M155.6 155.6h0M155.0 143.4h0M158.4 144.6h0M150.6 159.7h0M152.4 153.8h0M160.2 145.1h0M149.7 154.0h0M151.0 140.8h0M158.1 148.6h0M151.6 160.6h0M153.2 150.4h0M155.1 152.8h0M153.1 152.9h0M155.8 146.6h0M153.6 159.4h0M159.9 139.9h0M153.0 152.7h0M159.1 143.0h0M155.0 150.3h0M158.8 148.4h0M151.5 148.1h0M156.7 141.1h0M150.4 146.5h0M152.5 143.6h0M151.8 162.3h0M157.6 145.5h0M154.5 156.1h0M163.0 141.7h0M158.0 152.7h0M146.6 149.1h0M164.9 133.2h0M144.9 156.6h0M155.2 160.7h0M158.1 150.3h0M144.6 160.8h0M153.6 158.6h0M154.8 150.3h0M157.9 142.4h0M156.8 137.2h0M157.7 135.7h0M152.4 149.9h0M158.1 153.6h0M146.8 159.2h0M146.4 170.9h0M148.6 161.3h0M148.7 158.9h0M154.1 153.5h0M156.4 161.3h0M157.5 152.7h0M151.4 153.0h0M155.9 142.0h0M163.6 142.1h0M151.9 143.6h0M158.3 150.0h0M156.7 149.0h0M148.0 154.6h0M156.0 154.4h0M145.4 153.4h0M148.3 156.7h0M151.0 148.0h0M155.1 154.9h0M153.9 157.8h0M163.5 130.9h0M148.8 151.8h0M156.8 146.5h0M155.4 146.0h0M153.5 139.9h0M152.5 153.7h0M149.4 150.7h0M153.0 147.1h0M159.0 145.3h0M150.2 148.1h0M155.1 142.8h0M153.5 154.0h0M150.9 158.3h0M157.4 154.0h0M160.5 143.5h0M152.9 148.4h0M156.5 158.4h0M156.4 143.2h0M149.4 151.4h0M159.9 145.8h0M158.2 154.6h0M148.6 151.1h0M147.9 156.4h0M148.4 163.4h0M152.6 141.3h0M153.3 146.6h0M167.4 141.8h0M141.4 161.5h0M161.9 131.3h0M153.2 150.3h0M155.5 152.0h0M153.9 151.6h0M154.4 145.0h0M155.9 142.8h0M145.8 156.5h0M142.5 171.7h0M156.4 149.5h0M164.2 138.5h0M150.3 161.1h0M153.1 146.8h0M152.2 149.4h0M152.5 157.6h0M157.9 152.4h0M155.5 150.4h0M159.2 147.6h0M153.1 156.2h0M155.0 155.6h0M156.4 155.4h0M153.9 146.1h0M154.1 151.7h0M152.7 159.6h0M155.3 154.4h0M148.4 160.0h0M154.7 152.0h0M150.5 157.6h0M152.0 157.3h0M152.3 148.7h0M158.4 146.4h0M161.7 143.8h0M149.3 150.5h0M162.8 132.8h0M153.2 154.6h0M149.2 160.8h0M154.0 155.7h0M160.6 143.3h0M158.0 136.9h0M157.8 147.3h0M157.2 158.3h0M155.5 149.6h0M157.1 149.3h0M159.8 149.9h0M143.5 167.3h0M166.8 148.0h0M159.7 142.0h0M157.3 154.9h0M147.6 157.8h0M150.8 157.0h0M147.4 149.3h0M160.9 146.5h0M154.9 156.7h0M150.0 163.0h0M157.9 142.8h0M156.7 146.3h0M151.7 154.4h0M147.9 148.8h0M159.7 136.9h0M161.6 149.8h0M146.4 148.4h0M148.1 156.1h0M159.6 142.6h0M154.0 153.7h0M156.7 145.2h0M156.3 137.9h0M146.3 147.3h0M154.1 154.6h0M155.1 154.5h0M152.1 154.6h0M161.6 147.0h0M150.2 163.2h0M151.1 152.9h0M146.2 154.9h0M152.1 155.7h0M150.5 149.0h0M154.7 149.0h0M151.0 155.2h0M156.2 148.8h0M158.7 154.3h0M148.2 153.5h0M159.5 140.6h0M139.8 164.9h0M145.7 148.5h0M149.1 152.9h0M147.3 153.8h0M161.2 144.1h0M150.7 136.9h0M156.1 154.9h0M155.8 149.8h0M150.6 164.4h0M158.9 151.8h0M156.6 142.3h0M148.9 150.5h0M148.0 157.3h0M149.1 162.1h0M157.7 147.3h0M151.3 151.1h0M156.0 137.6h0M156.2 148.2h0M143.0 159.6h0M167.1 140.4h0M157.2 144.7h0M155.5 145.4h0M152.8 152.8h0M150.2 149.8h0M154.1 154.2h0M154.4 145.3h0M154.5 147.5h0M156.3 138.3h0M155.0 150.0h0M161.5 149.2h0M153.5 156.4h0M155.4 150.6h0M161.3 131.4h0M148.9 144.7h0M154.5 151.8h0M156.2 140.6h0M153.9 142.4h0M154.0 155.1h0M150.4 156.6h0M160.5 145.3h0M155.3 157.5h0M159.3 134.8h0M157.9 151.6h0M151.3 160.2h0M157.3 153.1h0M149.2 151.1h0M153.4 151.1h0M146.1 167.7h0M155.0 153.5h0M148.3 162.0h0M151.1 160.0h0M147.5 163.6h0M159.6 145.7h0M159.2 151.2h0M154.4 146.1h0M149.6 152.9h0M150.0 157.9h0M160.3 138.6h0M145.9 158.0h0M156.5 147.7h0M151.7 168.1h0M143.4 160.5h0M157.2 150.4h0M154.0 140.2h0M148.9 157.0h0M146.0 163.2h0M164.8 139.8h0M155.6 151.9h0M153.0 151.9h0M152.2 147.8h0M152.7 145.8h0M154.5 141.9h0M149.8 155.8h0M154.5 155.5h0M160.5 136.0h0M159.7 154.3h0M150.5 151.8h0M154.3 153.7h0M160.3 140.6h0M152.6 154.0h0M149.7 151.4h0M156.0 147.1h0M152.8 154.4h0M161.2 139.0h0M160.7 148.9h0M152.9 147.8h0M157.7 141.2h0M155.0 146.4h0M152.0 140.0h0M156.7 151.1h0M156.3 147.0h0M153.9 145.2h0M155.4 150.9h0M158.3 151.0h0M157.2 150.6h0M155.0 147.7h0M156.1 154.9h0M155.7 152.0h0M151.1 151.3h0M161.0 146.1h0M153.4 142.1h0M157.3 142.3h0M148.3 149.2h0M156.7 156.2h0M153.1 150.2h0M153.0 161.1h0M161.1 136.1h0M158.3 146.3h0M148.1 163.1h0M160.8 142.2h0M147.0 165.1h0M152.4 153.4h0M150.4 159.7h0M148.9 154.0h0M151.7 148.8h0M159.5 155.1h0M144.4 165.3h0M154.6 143.3h0M158.4 154.7h0M150.5 154.4h0M160.0 141.4h0M153.6 156.8h0M155.2 142.2h0M143.0 163.2h0M154.1 160.6h0M149.4 164.5h0M155.5 129.7h0M150.6 161.8h0M153.0 149.5h0M156.2 157.4h0M153.9 155.5h0M146.1 164.6h0M152.7 165.2h0M156.9 138.3h0M159.0 140.2h0M152.2 154.6h0M146.1 160.5h0M155.5 149.7h0M146.5 165.6h0M155.9 136.7h0M158.1 145.2h0M152.6 149.4h0M151.4 148.2h0M157.6 160.0h0M146.6 171.1h0M146.3 160.7h0M157.9 143.2h0M155.5 147.1h0M155.6 150.7h0M148.6 152.5h0M152.7 153.4h0M155.5 140.7h0M151.3 153.9h0M149.2 158.7h0M154.9 148.9h0M153.2 149.5h0M145.9 171.8h0M155.3 151.5h0M150.5 159.0h0M160.6 139.5h0M152.4 157.0h0M147.5 159.5h0M147.1 157.3h0M155.6 143.5h0M158.0 143.6h0M146.8 164.7h0M160.5 148.9h0M145.7 158.8h0M151.5 145.8h0M156.1 146.1h0M152.9 146.7h0M154.1 151.8h0M155.7 149.4h0M165.3 134.2h0M151.3 164.8h0M158.9 144.0h0M154.8 150.4h0M158.8 151.5h0M155.6 151.6h0M156.1 142.1h0M151.4 162.4h0M152.5 145.1h0M157.1 145.7h0M164.7 146.6h0M154.3 156.9h0M147.9 158.2h0M153.9 148.7h0M151.3 151.3h0M158.3 146.2h0M160.0 145.6h0M164.3 140.0h0M155.6 155.2h0M150.0 148.9h0M145.6 154.2h0M158.1 139.9h0M148.7 154.3h0M144.4 174.3h0M157.5 144.0h0M165.4 133.4h0M148.9 161.8h0M151.1 144.2h0M146.1 164.5h0M160.6 142.7h0M155.2 156.7h0M154.3 144.1h0M155.3 146.4h0M157.9 143.9h0M154.1 144.5h0M157.3 140.5h0M151.9 149.5h0M152.4 166.0h0M159.7 138.7h0M151.1 160.3h0M152.8 152.3h0M147.7 155.5h0M138.8 159.9h0M144.5 156.9h0M161.1 148.9h0M148.5 160.6h0M155.9 149.9h0M153.2 150.9h0M148.9 160.0h0M164.6 134.8h0M147.7 158.0h0M156.0 139.3h0M151.3 156.3h0M155.0 150.1h0M152.1 146.5h0M155.8 147.1h0M147.7 150.0h0M142.9 157.6h0M156.3 145.5h0M145.4 154.1h0M155.9 140.4h0M167.2 138.1h0M154.9 151.0h0M150.5 156.8h0M154.3 146.3h0M156.8 154.5h0M154.1 146.0h0M159.5 133.4h0M157.0 153.0h0M166.6 131.3h0M152.3 148.6h0M151.8 145.2h0M151.4 160.4h0M157.9 151.9h0M147.2 153.8h0M155.1 149.2h0M151.2 155.6h0M156.6 153.3h0M160.5 147.2h0M159.8 141.9h0M148.8 171.5h0M157.3 150.4h0M157.0 135.0h0M159.6 133.4h0M160.9 141.7h0M160.2 141.8h0M157.3 153.9h0M152.7 150.2h0M156.5 153.5h0M154.7 142.8h0M151.0 150.7h0M160.5 145.2h0M158.8 154.6h0M148.2 158.7h0M148.9 157.5h0M161.0 151.8h0M147.3 152.6h0M153.3 151.0h0M155.3 159.4h0M138.8 159.1h0M155.4 154.1h0M159.7 153.5h0M154.4 137.5h0M149.6 156.7h0M147.4 157.0h0M150.6 158.1h0M157.5 140.2h0M156.7 156.3h0M143.6 161.9h0M155.6 147.2h0M154.8 145.6h0M163.3 139.4h0M169.5 145.8h0M157.7 147.9h0M177.0 139.4h0M193.6 122.4h0M163.5 146.0h0M207.7 132.1h0M174.3 112.1h0M194.0 113.0h0M171.8 136.1h0M173.9 135.4h0M183.9 128.6h0M159.2 129.4h0M163.5 132.5h0M188.0 106.4h0M170.0 139.1h0M155.6 138.9h0M167.4 143.1h0M174.0 132.2h0M164.2 139.9h0M169.2 123.2h0M165.6 125.2h0M184.2 121.0h0M171.0 149.1h0M169.0 140.1h0M190.0 125.0h0M162.2 131.3h0M168.2 125.8h0M180.7 124.5h0M200.5 86.3h0M161.9 115.3h0M162.3 138.1h0M167.1 123.5h0M196.4 105.0h0M160.6 139.1h0M162.3 125.7h0M166.4 137.2h0M185.6 138.5h0M167.4 130.9h0M178.9 126.3h0M186.5 125.2h0M184.6 115.6h0M191.9 121.0h0M162.0 125.5h0M170.4 114.5h0M163.7 132.1h0M189.1 122.5h0M182.3 103.5h0M200.1 118.7h0M187.2 140.2h0M171.2 130.1h0M171.5 130.7h0M166.4 137.9h0M168.6 145.5h0M174.2 124.1h0M188.8 124.9h0M175.4 137.9h0M159.9 131.5h0M173.8 107.0h0M164.6 141.3h0M213.4 111.6h0M163.7 129.9h0M183.0 125.6h0M224.2 87.1h0M184.0 129.3h0M180.1 131.2h0M167.7 150.6h0M181.9 111.2h0M166.3 124.9h0M177.9 134.4h0M206.0 83.1h0M161.2 140.4h0M177.3 107.2h0M168.4 143.3h0M182.0 126.1h0M164.1 147.6h0M183.6 141.0h0M173.2 135.9h0M184.1 128.8h0M164.7 129.8h0M169.3 136.6h0M173.0 121.8h0M166.4 150.2h0M163.3 135.5h0M168.8 145.7h0M166.6 137.0h0M156.0 138.6h0M158.6 141.6h0M164.2 144.3h0M181.3 129.2h0M163.3 148.8h0M170.1 137.7h0M226.1 100.7h0M162.1 117.5h0M194.5 105.5h0M167.3 121.3h0M200.0 98.0h0M165.6 135.7h0M160.8 135.2h0M209.2 85.0h0M163.7 140.4h0M178.6 122.5h0M172.9 132.9h0M159.6 144.7h0M198.7 105.8h0M170.4 133.7h0M175.5 146.1h0M174.9 129.0h0M166.9 138.5h0M170.3 139.8h0M161.4 150.4h0M161.2 133.9h0M157.9 131.6h0M158.9 139.6h0M173.9 132.6h0M173.7 122.7h0M178.7 118.0h0M160.0 126.0h0M195.3 118.9h0M171.5 125.8h0M211.8 160.4h0M206.8 143.6h0M223.0 106.2h0M209.0 63.5h0M214.6 68.4h0M188.0 73.4h0M189.4 85.8h0M150.2 99.5h0M168.4 177.2h0M197.8 84.4h0M206.2 90.2h0M202.0 96.0h0M209.0 109.0h0M192.2 98.9h0" stroke="#c1272d" stroke-width="2.2" stroke-linecap="round" fill="none"/>
<line x1="77.7" y1="51.8" x2="77.7" y2="233.6" stroke="#111" stroke-width="1.35"/>
<line x1="77.1" y1="233" x2="251.5" y2="233" stroke="#111" stroke-width="1.35"/>
<line x1="71.9" y1="212" x2="77.7" y2="212" stroke="#111" stroke-width="1.3"/>
<text x="66.3" y="220.2" font-size="20.2" fill="#1a1a1a" text-anchor="end" textLength="16.7" lengthAdjust="spacingAndGlyphs">-2</text>
<line x1="71.9" y1="183" x2="77.7" y2="183" stroke="#111" stroke-width="1.3"/>
<text x="66.3" y="191.2" font-size="20.2" fill="#1a1a1a" text-anchor="end" textLength="16.7" lengthAdjust="spacingAndGlyphs">-1</text>
<line x1="71.9" y1="154" x2="77.7" y2="154" stroke="#111" stroke-width="1.3"/>
<text x="66.3" y="162.2" font-size="20.2" fill="#1a1a1a" text-anchor="end" textLength="10.45" lengthAdjust="spacingAndGlyphs">0</text>
<line x1="71.9" y1="125" x2="77.7" y2="125" stroke="#111" stroke-width="1.3"/>
<text x="66.3" y="133.2" font-size="20.2" fill="#1a1a1a" text-anchor="end" textLength="10.45" lengthAdjust="spacingAndGlyphs">1</text>
<line x1="71.9" y1="96" x2="77.7" y2="96" stroke="#111" stroke-width="1.3"/>
<text x="66.3" y="104.2" font-size="20.2" fill="#1a1a1a" text-anchor="end" textLength="10.45" lengthAdjust="spacingAndGlyphs">2</text>
<line x1="71.9" y1="67" x2="77.7" y2="67" stroke="#111" stroke-width="1.3"/>
<text x="66.3" y="75.2" font-size="20.2" fill="#1a1a1a" text-anchor="end" textLength="10.45" lengthAdjust="spacingAndGlyphs">3</text>
<line x1="97" y1="233" x2="97" y2="238.8" stroke="#111" stroke-width="1.3"/>
<text x="104" y="260.1" font-size="20.2" fill="#1a1a1a" text-anchor="middle" textLength="16.7" lengthAdjust="spacingAndGlyphs">-2</text>
<line x1="125" y1="233" x2="125" y2="238.8" stroke="#111" stroke-width="1.3"/>
<text x="129.5" y="260.1" font-size="20.2" fill="#1a1a1a" text-anchor="middle" textLength="16.7" lengthAdjust="spacingAndGlyphs">-1</text>
<line x1="153" y1="233" x2="153" y2="238.8" stroke="#111" stroke-width="1.3"/>
<text x="156.3" y="260.1" font-size="20.2" fill="#1a1a1a" text-anchor="middle" textLength="10.45" lengthAdjust="spacingAndGlyphs">0</text>
<line x1="181" y1="233" x2="181" y2="238.8" stroke="#111" stroke-width="1.3"/>
<text x="182.3" y="260.1" font-size="20.2" fill="#1a1a1a" text-anchor="middle" textLength="10.45" lengthAdjust="spacingAndGlyphs">1</text>
<line x1="209" y1="233" x2="209" y2="238.8" stroke="#111" stroke-width="1.3"/>
<text x="207.3" y="260.1" font-size="20.2" fill="#1a1a1a" text-anchor="middle" textLength="10.45" lengthAdjust="spacingAndGlyphs">2</text>
<line x1="237" y1="233" x2="237" y2="238.8" stroke="#111" stroke-width="1.3"/>
<text x="234.5" y="260.1" font-size="20.2" fill="#1a1a1a" text-anchor="middle" textLength="10.45" lengthAdjust="spacingAndGlyphs">3</text>
<text x="86.7" y="287" font-size="20.6" fill="#1a1a1a" textLength="157" lengthAdjust="spacingAndGlyphs">-log<tspan font-size="12.5" dy="3.5">2</tspan><tspan dy="-3.5">(FC T8vsT0)</tspan></text>
<text transform="translate(33.8 227.2) rotate(-90)" font-size="20.6" fill="#1a1a1a" textLength="170.5" lengthAdjust="spacingAndGlyphs">-log<tspan font-size="12.5" dy="3.5">2</tspan><tspan dy="-3.5">(FC T16vsT0)</tspan></text>
<text x="85" y="65.8" font-size="20.2" fill="#c1272d" textLength="66" lengthAdjust="spacingAndGlyphs">ρ=0.73</text>
<text x="85" y="87.6" font-size="20.2" fill="#3b83c8" textLength="66" lengthAdjust="spacingAndGlyphs">ρ=0.75</text>
<text x="154.5" y="212.6" font-size="20" fill="#c1272d" textLength="53" lengthAdjust="spacingAndGlyphs">Linear</text>
<text x="154.5" y="228.8" font-size="20" fill="#3b83c8" textLength="68" lengthAdjust="spacingAndGlyphs">Circular</text>
<circle cx="231.4" cy="208" r="1.9" fill="#c1272d"/>
<circle cx="231.6" cy="223.8" r="1.9" fill="#3b83c8"/>
</g>
<g id="panel-e">
<text x="276.6" y="26.7" font-size="28.7" fill="#000" font-weight="bold" textLength="17.71" lengthAdjust="spacingAndGlyphs">E</text>
<ellipse cx="367.75" cy="158" rx="93.2" ry="86.6" fill="#a2bddc" stroke="#6b9fd5" stroke-width="2.1"/>
<ellipse cx="352.25" cy="198.25" rx="48.2" ry="45.4" fill="#b8a880" stroke="#e8a660" stroke-width="2.0"/>
<text x="309" y="62.6" font-size="20.2" fill="#3578ba" textLength="162" lengthAdjust="spacingAndGlyphs">circRNA screened</text>
<text x="296" y="268.5" font-size="20.2" fill="#efa256" textLength="161" lengthAdjust="spacingAndGlyphs">Essential circRNA</text>
<text x="369" y="132.5" font-size="20" fill="#1a1a1a" textLength="43" lengthAdjust="spacingAndGlyphs">1336</text>
<text x="333.5" y="210" font-size="20" fill="#1a1a1a" textLength="30.5" lengthAdjust="spacingAndGlyphs">171</text>
</g>
<g id="panel-f">
<text x="459.9" y="23.9" font-size="28.7" fill="#000" font-weight="bold" textLength="16.21" lengthAdjust="spacingAndGlyphs">F</text>
<rect x="489.8" y="6" width="19.1" height="8.6" fill="#953a92" stroke="#1a1a1a" stroke-width="1.6"/>
<text x="519" y="15.5" font-size="16.7" fill="#1a1a1a" textLength="113.5" lengthAdjust="spacingAndGlyphs">Day 8 vs Day 0</text>
<rect x="650.4" y="5.8" width="19" height="8.8" fill="#fff" stroke="#1a1a1a" stroke-width="1.6"/>
<text x="678.7" y="15.5" font-size="16.7" fill="#1a1a1a" textLength="122.2" lengthAdjust="spacingAndGlyphs">Day 16 vs Day 0</text>
<text x="613" y="37.6" font-size="20.2" fill="#1a1a1a" text-anchor="middle" textLength="68" lengthAdjust="spacingAndGlyphs">Circular</text>
<text x="834.6" y="40.7" font-size="20.2" fill="#1a1a1a" text-anchor="middle" textLength="55.2" lengthAdjust="spacingAndGlyphs">Linear</text>
<line x1="485.6" y1="43.1" x2="708.4" y2="43.1" stroke="#1a1a1a" stroke-width="1.3"/>
<line x1="715.6" y1="43.1" x2="937.9" y2="43.1" stroke="#1a1a1a" stroke-width="1.3"/>
<text x="489.4" y="70.7" font-size="17" fill="#1a1a1a" textLength="52.8" lengthAdjust="spacingAndGlyphs">LNCaP</text>
<text x="551" y="70.7" font-size="17" fill="#1a1a1a" textLength="40.4" lengthAdjust="spacingAndGlyphs">V16A</text>
<text x="607" y="70.7" font-size="17" fill="#1a1a1a" textLength="47" lengthAdjust="spacingAndGlyphs">22Rv1</text>
<text x="666.3" y="70.7" font-size="17" fill="#1a1a1a" textLength="38" lengthAdjust="spacingAndGlyphs">PC-3</text>
<text x="717.9" y="70.7" font-size="17" fill="#1a1a1a" textLength="52.8" lengthAdjust="spacingAndGlyphs">LNCaP</text>
<text x="779.9" y="70.7" font-size="17" fill="#1a1a1a" textLength="40.3" lengthAdjust="spacingAndGlyphs">V16A</text>
<text x="835.4" y="70.7" font-size="17" fill="#1a1a1a" textLength="46.9" lengthAdjust="spacingAndGlyphs">22Rv1</text>
<text x="895.1" y="70.7" font-size="17" fill="#1a1a1a" textLength="37.5" lengthAdjust="spacingAndGlyphs">PC-3</text>
<rect x="486.9" y="79.7" width="456.2" height="8.4" fill="#fff" stroke="#1a1a1a" stroke-width="1.9"/>
<rect x="487" y="80.4" width="28.5" height="7.2" fill="#953a92"/>
<rect x="544" y="80.4" width="28.5" height="7.2" fill="#953a92"/>
<rect x="601" y="80.4" width="28.5" height="7.2" fill="#953a92"/>
<rect x="658" y="80.4" width="28.5" height="7.2" fill="#953a92"/>
<rect x="715" y="80.4" width="28.5" height="7.2" fill="#953a92"/>
<rect x="772" y="80.4" width="28.5" height="7.2" fill="#953a92"/>
<rect x="829" y="80.4" width="28.5" height="7.2" fill="#953a92"/>
<rect x="886" y="80.4" width="28.5" height="7.2" fill="#953a92"/>
<line x1="515.5" y1="79.6" x2="515.5" y2="88.2" stroke="#1a1a1a" stroke-width="1.7"/>
<line x1="544" y1="79.6" x2="544" y2="88.2" stroke="#1a1a1a" stroke-width="1.7"/>
<line x1="572.5" y1="79.6" x2="572.5" y2="88.2" stroke="#1a1a1a" stroke-width="1.7"/>
<line x1="601" y1="79.6" x2="601" y2="88.2" stroke="#1a1a1a" stroke-width="1.7"/>
<line x1="629.5" y1="79.6" x2="629.5" y2="88.2" stroke="#1a1a1a" stroke-width="1.7"/>
<line x1="658" y1="79.6" x2="658" y2="88.2" stroke="#1a1a1a" stroke-width="1.7"/>
<line x1="686.5" y1="79.6" x2="686.5" y2="88.2" stroke="#1a1a1a" stroke-width="1.7"/>
<line x1="715" y1="79.6" x2="715" y2="88.2" stroke="#1a1a1a" stroke-width="1.7"/>
<line x1="743.5" y1="79.6" x2="743.5" y2="88.2" stroke="#1a1a1a" stroke-width="1.7"/>
<line x1="772" y1="79.6" x2="772" y2="88.2" stroke="#1a1a1a" stroke-width="1.7"/>
<line x1="800.5" y1="79.6" x2="800.5" y2="88.2" stroke="#1a1a1a" stroke-width="1.7"/>
<line x1="829" y1="79.6" x2="829" y2="88.2" stroke="#1a1a1a" stroke-width="1.7"/>
<line x1="857.5" y1="79.6" x2="857.5" y2="88.2" stroke="#1a1a1a" stroke-width="1.7"/>
<line x1="886" y1="79.6" x2="886" y2="88.2" stroke="#1a1a1a" stroke-width="1.7"/>
<line x1="914.5" y1="79.6" x2="914.5" y2="88.2" stroke="#1a1a1a" stroke-width="1.7"/>
<rect x="487" y="95.2" width="456" height="194.4" fill="#fff"/>
<g shape-rendering="crispEdges">
<path d="M743.5 164.55h28.5v1.19h-28.5zM743.5 165.68h28.5v1.19h-28.5z" fill="#364c9e"/>
<path d="M515.5 111.12h28.5v1.19h-28.5zM743.5 170.23h28.5v1.19h-28.5zM914.5 194.11h28.5v1.19h-28.5zM914.5 195.24h28.5v1.19h-28.5zM914.5 196.38h28.5v1.19h-28.5z" fill="#464fa3"/>
<path d="M800.5 164.55h28.5v1.19h-28.5zM800.5 165.68h28.5v1.19h-28.5zM743.5 166.82h28.5v1.19h-28.5zM743.5 167.96h28.5v1.19h-28.5zM743.5 169.09h28.5v1.19h-28.5z" fill="#5551a7"/>
<path d="M857.5 160.00h28.5v1.19h-28.5zM715.0 164.55h28.5v1.19h-28.5zM715.0 165.68h28.5v1.19h-28.5z" fill="#6760b0"/>
<path d="M800.5 129.31h28.5v1.19h-28.5zM800.5 130.44h28.5v1.19h-28.5zM857.5 164.55h28.5v1.19h-28.5zM857.5 165.68h28.5v1.19h-28.5zM743.5 171.37h28.5v1.19h-28.5z" fill="#7971b9"/>
<path d="M487.0 111.12h28.5v1.19h-28.5zM857.5 161.14h28.5v1.19h-28.5zM743.5 182.74h28.5v1.19h-28.5zM914.5 197.52h28.5v1.19h-28.5z" fill="#8c82c3"/>
<path d="M686.5 104.29h28.5v1.19h-28.5zM914.5 199.79h28.5v1.19h-28.5zM914.5 200.93h28.5v1.19h-28.5zM800.5 237.31h28.5v1.19h-28.5zM800.5 238.44h28.5v1.19h-28.5z" fill="#9e93cc"/>
<path d="M800.5 131.58h28.5v1.19h-28.5zM800.5 169.09h28.5v1.19h-28.5zM715.0 170.23h28.5v1.19h-28.5zM743.5 181.60h28.5v1.19h-28.5zM800.5 181.60h28.5v1.19h-28.5z" fill="#aca0d2"/>
<path d="M800.5 140.67h28.5v1.19h-28.5zM800.5 141.81h28.5v1.19h-28.5zM743.5 152.04h28.5v1.19h-28.5zM857.5 155.45h28.5v1.19h-28.5zM829.0 160.00h28.5v1.19h-28.5zM743.5 162.27h28.5v1.19h-28.5zM715.0 171.37h28.5v1.19h-28.5zM743.5 172.51h28.5v1.19h-28.5zM743.5 202.06h28.5v1.19h-28.5zM800.5 214.57h28.5v1.19h-28.5zM800.5 215.71h28.5v1.19h-28.5zM743.5 225.94h28.5v1.19h-28.5zM800.5 232.76h28.5v1.19h-28.5zM772.0 238.44h28.5v1.19h-28.5z" fill="#b8acd8"/>
<path d="M772.0 129.31h28.5v1.19h-28.5zM772.0 130.44h28.5v1.19h-28.5zM914.5 140.67h28.5v1.19h-28.5zM857.5 158.86h28.5v1.19h-28.5zM743.5 163.41h28.5v1.19h-28.5zM800.5 170.23h28.5v1.19h-28.5zM800.5 171.37h28.5v1.19h-28.5zM914.5 181.60h28.5v1.19h-28.5zM715.0 182.74h28.5v1.19h-28.5zM914.5 192.97h28.5v1.19h-28.5zM829.0 195.24h28.5v1.19h-28.5zM743.5 199.79h28.5v1.19h-28.5zM772.0 215.71h28.5v1.19h-28.5zM743.5 216.84h28.5v1.19h-28.5zM743.5 227.07h28.5v1.19h-28.5zM743.5 231.62h28.5v1.19h-28.5zM544.0 239.58h28.5v1.19h-28.5zM544.0 240.72h28.5v1.19h-28.5zM544.0 245.26h28.5v1.19h-28.5z" fill="#c4b9dd"/>
<path d="M658.0 98.61h28.5v1.19h-28.5zM658.0 104.29h28.5v1.19h-28.5zM772.0 131.58h28.5v1.19h-28.5zM857.5 138.40h28.5v1.19h-28.5zM914.5 141.81h28.5v1.19h-28.5zM743.5 142.95h28.5v1.19h-28.5zM800.5 148.63h28.5v1.19h-28.5zM857.5 148.63h28.5v1.19h-28.5zM715.0 149.77h28.5v1.19h-28.5zM743.5 149.77h28.5v1.19h-28.5zM800.5 149.77h28.5v1.19h-28.5zM857.5 149.77h28.5v1.19h-28.5zM743.5 150.91h28.5v1.19h-28.5zM914.5 153.18h28.5v1.19h-28.5zM829.0 154.32h28.5v1.19h-28.5zM857.5 154.32h28.5v1.19h-28.5zM829.0 158.86h28.5v1.19h-28.5zM800.5 160.00h28.5v1.19h-28.5zM743.5 161.14h28.5v1.19h-28.5zM800.5 161.14h28.5v1.19h-28.5zM829.0 161.14h28.5v1.19h-28.5zM715.0 163.41h28.5v1.19h-28.5zM829.0 164.55h28.5v1.19h-28.5zM829.0 165.68h28.5v1.19h-28.5zM715.0 166.82h28.5v1.19h-28.5zM715.0 167.96h28.5v1.19h-28.5zM800.5 167.96h28.5v1.19h-28.5zM715.0 169.09h28.5v1.19h-28.5zM800.5 172.51h28.5v1.19h-28.5zM743.5 178.19h28.5v1.19h-28.5zM715.0 181.60h28.5v1.19h-28.5zM914.5 191.83h28.5v1.19h-28.5zM857.5 195.24h28.5v1.19h-28.5zM914.5 198.65h28.5v1.19h-28.5zM743.5 200.93h28.5v1.19h-28.5zM914.5 202.06h28.5v1.19h-28.5zM743.5 203.20h28.5v1.19h-28.5zM772.0 214.57h28.5v1.19h-28.5zM743.5 217.98h28.5v1.19h-28.5zM772.0 237.31h28.5v1.19h-28.5zM857.5 237.31h28.5v1.19h-28.5zM572.5 239.58h28.5v1.19h-28.5zM857.5 240.72h28.5v1.19h-28.5zM800.5 246.40h28.5v1.19h-28.5zM658.0 272.55h28.5v1.19h-28.5z" fill="#d0c6e3"/>
<path d="M743.5 130.44h28.5v1.19h-28.5zM772.0 140.67h28.5v1.19h-28.5zM886.0 140.67h28.5v1.19h-28.5zM743.5 141.81h28.5v1.19h-28.5zM829.0 141.81h28.5v1.19h-28.5zM857.5 141.81h28.5v1.19h-28.5zM857.5 142.95h28.5v1.19h-28.5zM829.0 148.63h28.5v1.19h-28.5zM857.5 150.91h28.5v1.19h-28.5zM886.0 153.18h28.5v1.19h-28.5zM914.5 154.32h28.5v1.19h-28.5zM743.5 155.45h28.5v1.19h-28.5zM829.0 155.45h28.5v1.19h-28.5zM800.5 158.86h28.5v1.19h-28.5zM743.5 160.00h28.5v1.19h-28.5zM857.5 162.27h28.5v1.19h-28.5zM857.5 166.82h28.5v1.19h-28.5zM800.5 178.19h28.5v1.19h-28.5zM743.5 180.46h28.5v1.19h-28.5zM743.5 187.28h28.5v1.19h-28.5zM800.5 188.42h28.5v1.19h-28.5zM829.0 188.42h28.5v1.19h-28.5zM829.0 189.56h28.5v1.19h-28.5zM829.0 194.11h28.5v1.19h-28.5zM857.5 197.52h28.5v1.19h-28.5zM743.5 198.65h28.5v1.19h-28.5zM772.0 199.79h28.5v1.19h-28.5zM715.0 200.93h28.5v1.19h-28.5zM772.0 200.93h28.5v1.19h-28.5zM829.0 208.88h28.5v1.19h-28.5zM772.0 213.43h28.5v1.19h-28.5zM743.5 215.71h28.5v1.19h-28.5zM743.5 224.80h28.5v1.19h-28.5zM800.5 225.94h28.5v1.19h-28.5zM857.5 232.76h28.5v1.19h-28.5zM857.5 238.44h28.5v1.19h-28.5zM800.5 239.58h28.5v1.19h-28.5zM572.5 245.26h28.5v1.19h-28.5zM544.0 246.40h28.5v1.19h-28.5zM857.5 246.40h28.5v1.19h-28.5zM800.5 247.54h28.5v1.19h-28.5z" fill="#d9d0e8"/>
<path d="M857.5 100.88h28.5v1.19h-28.5zM658.0 105.43h28.5v1.19h-28.5zM800.5 124.76h28.5v1.19h-28.5zM487.0 128.17h28.5v1.19h-28.5zM800.5 128.17h28.5v1.19h-28.5zM886.0 130.44h28.5v1.19h-28.5zM715.0 131.58h28.5v1.19h-28.5zM829.0 131.58h28.5v1.19h-28.5zM857.5 131.58h28.5v1.19h-28.5zM857.5 137.26h28.5v1.19h-28.5zM715.0 141.81h28.5v1.19h-28.5zM772.0 141.81h28.5v1.19h-28.5zM886.0 141.81h28.5v1.19h-28.5zM715.0 142.95h28.5v1.19h-28.5zM800.5 147.49h28.5v1.19h-28.5zM829.0 147.49h28.5v1.19h-28.5zM857.5 147.49h28.5v1.19h-28.5zM772.0 148.63h28.5v1.19h-28.5zM829.0 149.77h28.5v1.19h-28.5zM715.0 150.91h28.5v1.19h-28.5zM715.0 152.04h28.5v1.19h-28.5zM857.5 152.04h28.5v1.19h-28.5zM914.5 152.04h28.5v1.19h-28.5zM829.0 153.18h28.5v1.19h-28.5zM857.5 153.18h28.5v1.19h-28.5zM886.0 154.32h28.5v1.19h-28.5zM829.0 156.59h28.5v1.19h-28.5zM829.0 157.73h28.5v1.19h-28.5zM857.5 157.73h28.5v1.19h-28.5zM886.0 160.00h28.5v1.19h-28.5zM914.5 160.00h28.5v1.19h-28.5zM715.0 161.14h28.5v1.19h-28.5zM715.0 162.27h28.5v1.19h-28.5zM800.5 162.27h28.5v1.19h-28.5zM829.0 162.27h28.5v1.19h-28.5zM800.5 166.82h28.5v1.19h-28.5zM886.0 166.82h28.5v1.19h-28.5zM715.0 172.51h28.5v1.19h-28.5zM743.5 173.64h28.5v1.19h-28.5zM800.5 173.64h28.5v1.19h-28.5zM743.5 174.78h28.5v1.19h-28.5zM743.5 177.05h28.5v1.19h-28.5zM743.5 179.33h28.5v1.19h-28.5zM715.0 180.46h28.5v1.19h-28.5zM800.5 180.46h28.5v1.19h-28.5zM829.0 180.46h28.5v1.19h-28.5zM772.0 181.60h28.5v1.19h-28.5zM800.5 182.74h28.5v1.19h-28.5zM829.0 186.15h28.5v1.19h-28.5zM715.0 187.28h28.5v1.19h-28.5zM800.5 187.28h28.5v1.19h-28.5zM743.5 188.42h28.5v1.19h-28.5zM857.5 189.56h28.5v1.19h-28.5zM914.5 190.69h28.5v1.19h-28.5zM829.0 196.38h28.5v1.19h-28.5zM743.5 197.52h28.5v1.19h-28.5zM829.0 197.52h28.5v1.19h-28.5zM886.0 197.52h28.5v1.19h-28.5zM829.0 199.79h28.5v1.19h-28.5zM914.5 207.75h28.5v1.19h-28.5zM743.5 208.88h28.5v1.19h-28.5zM743.5 210.02h28.5v1.19h-28.5zM800.5 213.43h28.5v1.19h-28.5zM829.0 214.57h28.5v1.19h-28.5zM829.0 215.71h28.5v1.19h-28.5zM800.5 216.84h28.5v1.19h-28.5zM743.5 219.12h28.5v1.19h-28.5zM743.5 220.25h28.5v1.19h-28.5zM715.0 225.94h28.5v1.19h-28.5zM800.5 227.07h28.5v1.19h-28.5zM743.5 232.76h28.5v1.19h-28.5zM772.0 232.76h28.5v1.19h-28.5zM800.5 233.89h28.5v1.19h-28.5zM743.5 235.03h28.5v1.19h-28.5zM800.5 236.17h28.5v1.19h-28.5zM544.0 238.44h28.5v1.19h-28.5zM715.0 238.44h28.5v1.19h-28.5zM743.5 239.58h28.5v1.19h-28.5zM743.5 240.72h28.5v1.19h-28.5zM829.0 240.72h28.5v1.19h-28.5zM800.5 241.85h28.5v1.19h-28.5zM715.0 246.40h28.5v1.19h-28.5zM743.5 246.40h28.5v1.19h-28.5zM829.0 246.40h28.5v1.19h-28.5zM772.0 247.54h28.5v1.19h-28.5zM857.5 247.54h28.5v1.19h-28.5zM772.0 256.63h28.5v1.19h-28.5zM544.0 266.86h28.5v1.19h-28.5zM772.0 270.27h28.5v1.19h-28.5zM800.5 270.27h28.5v1.19h-28.5z" fill="#e2dbed"/>
<path d="M800.5 105.43h28.5v1.19h-28.5zM544.0 115.66h28.5v1.19h-28.5zM772.0 117.94h28.5v1.19h-28.5zM772.0 124.76h28.5v1.19h-28.5zM800.5 125.89h28.5v1.19h-28.5zM800.5 127.03h28.5v1.19h-28.5zM772.0 128.17h28.5v1.19h-28.5zM487.0 129.31h28.5v1.19h-28.5zM715.0 130.44h28.5v1.19h-28.5zM743.5 131.58h28.5v1.19h-28.5zM886.0 131.58h28.5v1.19h-28.5zM772.0 132.72h28.5v1.19h-28.5zM800.5 132.72h28.5v1.19h-28.5zM857.5 134.99h28.5v1.19h-28.5zM857.5 136.13h28.5v1.19h-28.5zM829.0 137.26h28.5v1.19h-28.5zM800.5 139.54h28.5v1.19h-28.5zM829.0 139.54h28.5v1.19h-28.5zM857.5 140.67h28.5v1.19h-28.5zM829.0 142.95h28.5v1.19h-28.5zM800.5 145.22h28.5v1.19h-28.5zM743.5 148.63h28.5v1.19h-28.5zM772.0 149.77h28.5v1.19h-28.5zM772.0 150.91h28.5v1.19h-28.5zM800.5 150.91h28.5v1.19h-28.5zM829.0 150.91h28.5v1.19h-28.5zM914.5 150.91h28.5v1.19h-28.5zM829.0 152.04h28.5v1.19h-28.5zM886.0 152.04h28.5v1.19h-28.5zM715.0 153.18h28.5v1.19h-28.5zM886.0 155.45h28.5v1.19h-28.5zM743.5 156.59h28.5v1.19h-28.5zM857.5 163.41h28.5v1.19h-28.5zM772.0 164.55h28.5v1.19h-28.5zM886.0 164.55h28.5v1.19h-28.5zM772.0 165.68h28.5v1.19h-28.5zM886.0 165.68h28.5v1.19h-28.5zM914.5 166.82h28.5v1.19h-28.5zM857.5 169.09h28.5v1.19h-28.5zM772.0 171.37h28.5v1.19h-28.5zM743.5 175.92h28.5v1.19h-28.5zM857.5 175.92h28.5v1.19h-28.5zM800.5 177.05h28.5v1.19h-28.5zM715.0 178.19h28.5v1.19h-28.5zM800.5 179.33h28.5v1.19h-28.5zM886.0 181.60h28.5v1.19h-28.5zM743.5 183.87h28.5v1.19h-28.5zM772.0 187.28h28.5v1.19h-28.5zM829.0 187.28h28.5v1.19h-28.5zM772.0 188.42h28.5v1.19h-28.5zM857.5 188.42h28.5v1.19h-28.5zM800.5 189.56h28.5v1.19h-28.5zM829.0 190.69h28.5v1.19h-28.5zM743.5 191.83h28.5v1.19h-28.5zM857.5 194.11h28.5v1.19h-28.5zM886.0 194.11h28.5v1.19h-28.5zM886.0 195.24h28.5v1.19h-28.5zM857.5 196.38h28.5v1.19h-28.5zM886.0 196.38h28.5v1.19h-28.5zM715.0 197.52h28.5v1.19h-28.5zM715.0 198.65h28.5v1.19h-28.5zM829.0 198.65h28.5v1.19h-28.5zM857.5 198.65h28.5v1.19h-28.5zM715.0 199.79h28.5v1.19h-28.5zM800.5 199.79h28.5v1.19h-28.5zM886.0 199.79h28.5v1.19h-28.5zM829.0 200.93h28.5v1.19h-28.5zM857.5 200.93h28.5v1.19h-28.5zM886.0 200.93h28.5v1.19h-28.5zM829.0 202.06h28.5v1.19h-28.5zM715.0 203.20h28.5v1.19h-28.5zM743.5 207.75h28.5v1.19h-28.5zM857.5 208.88h28.5v1.19h-28.5zM914.5 208.88h28.5v1.19h-28.5zM829.0 210.02h28.5v1.19h-28.5zM772.0 212.29h28.5v1.19h-28.5zM544.0 213.43h28.5v1.19h-28.5zM829.0 213.43h28.5v1.19h-28.5zM914.5 213.43h28.5v1.19h-28.5zM544.0 214.57h28.5v1.19h-28.5zM857.5 214.57h28.5v1.19h-28.5zM544.0 219.12h28.5v1.19h-28.5zM715.0 224.80h28.5v1.19h-28.5zM772.0 225.94h28.5v1.19h-28.5zM715.0 227.07h28.5v1.19h-28.5zM886.0 228.21h28.5v1.19h-28.5zM857.5 231.62h28.5v1.19h-28.5zM743.5 233.89h28.5v1.19h-28.5zM772.0 233.89h28.5v1.19h-28.5zM715.0 235.03h28.5v1.19h-28.5zM800.5 235.03h28.5v1.19h-28.5zM857.5 236.17h28.5v1.19h-28.5zM601.0 238.44h28.5v1.19h-28.5zM743.5 238.44h28.5v1.19h-28.5zM829.0 238.44h28.5v1.19h-28.5zM601.0 239.58h28.5v1.19h-28.5zM715.0 239.58h28.5v1.19h-28.5zM857.5 239.58h28.5v1.19h-28.5zM857.5 241.85h28.5v1.19h-28.5zM772.0 242.99h28.5v1.19h-28.5zM572.5 246.40h28.5v1.19h-28.5zM772.0 246.40h28.5v1.19h-28.5zM886.0 247.54h28.5v1.19h-28.5zM800.5 248.67h28.5v1.19h-28.5zM715.0 255.49h28.5v1.19h-28.5zM715.0 256.63h28.5v1.19h-28.5zM658.0 265.73h28.5v1.19h-28.5zM800.5 271.41h28.5v1.19h-28.5zM658.0 277.09h28.5v1.19h-28.5zM658.0 278.23h28.5v1.19h-28.5zM658.0 279.37h28.5v1.19h-28.5zM658.0 283.92h28.5v1.19h-28.5zM658.0 285.05h28.5v1.19h-28.5z" fill="#ebe5f3"/>
<path d="M658.0 95.20h28.5v1.19h-28.5zM544.0 97.47h28.5v1.19h-28.5zM772.0 105.43h28.5v1.19h-28.5zM544.0 116.80h28.5v1.19h-28.5zM572.5 116.80h28.5v1.19h-28.5zM772.0 116.80h28.5v1.19h-28.5zM800.5 117.94h28.5v1.19h-28.5zM772.0 119.07h28.5v1.19h-28.5zM829.0 130.44h28.5v1.19h-28.5zM914.5 130.44h28.5v1.19h-28.5zM914.5 131.58h28.5v1.19h-28.5zM800.5 133.85h28.5v1.19h-28.5zM829.0 133.85h28.5v1.19h-28.5zM857.5 133.85h28.5v1.19h-28.5zM829.0 136.13h28.5v1.19h-28.5zM829.0 138.40h28.5v1.19h-28.5zM857.5 139.54h28.5v1.19h-28.5zM886.0 139.54h28.5v1.19h-28.5zM914.5 139.54h28.5v1.19h-28.5zM800.5 142.95h28.5v1.19h-28.5zM743.5 144.08h28.5v1.19h-28.5zM772.0 145.22h28.5v1.19h-28.5zM857.5 146.36h28.5v1.19h-28.5zM658.0 147.49h28.5v1.19h-28.5zM800.5 152.04h28.5v1.19h-28.5zM743.5 153.18h28.5v1.19h-28.5zM715.0 154.32h28.5v1.19h-28.5zM743.5 154.32h28.5v1.19h-28.5zM715.0 155.45h28.5v1.19h-28.5zM914.5 155.45h28.5v1.19h-28.5zM857.5 156.59h28.5v1.19h-28.5zM743.5 157.73h28.5v1.19h-28.5zM886.0 158.86h28.5v1.19h-28.5zM914.5 158.86h28.5v1.19h-28.5zM715.0 160.00h28.5v1.19h-28.5zM772.0 160.00h28.5v1.19h-28.5zM886.0 161.14h28.5v1.19h-28.5zM829.0 163.41h28.5v1.19h-28.5zM857.5 167.96h28.5v1.19h-28.5zM886.0 167.96h28.5v1.19h-28.5zM914.5 167.96h28.5v1.19h-28.5zM772.0 170.23h28.5v1.19h-28.5zM857.5 170.23h28.5v1.19h-28.5zM800.5 174.78h28.5v1.19h-28.5zM715.0 175.92h28.5v1.19h-28.5zM829.0 175.92h28.5v1.19h-28.5zM715.0 177.05h28.5v1.19h-28.5zM886.0 177.05h28.5v1.19h-28.5zM715.0 179.33h28.5v1.19h-28.5zM857.5 180.46h28.5v1.19h-28.5zM886.0 180.46h28.5v1.19h-28.5zM772.0 182.74h28.5v1.19h-28.5zM715.0 183.87h28.5v1.19h-28.5zM857.5 186.15h28.5v1.19h-28.5zM914.5 186.15h28.5v1.19h-28.5zM857.5 187.28h28.5v1.19h-28.5zM715.0 188.42h28.5v1.19h-28.5zM914.5 188.42h28.5v1.19h-28.5zM772.0 189.56h28.5v1.19h-28.5zM743.5 192.97h28.5v1.19h-28.5zM886.0 198.65h28.5v1.19h-28.5zM857.5 199.79h28.5v1.19h-28.5zM715.0 202.06h28.5v1.19h-28.5zM914.5 206.61h28.5v1.19h-28.5zM572.5 207.75h28.5v1.19h-28.5zM886.0 207.75h28.5v1.19h-28.5zM715.0 210.02h28.5v1.19h-28.5zM914.5 210.02h28.5v1.19h-28.5zM743.5 211.16h28.5v1.19h-28.5zM886.0 213.43h28.5v1.19h-28.5zM743.5 214.57h28.5v1.19h-28.5zM914.5 214.57h28.5v1.19h-28.5zM886.0 215.71h28.5v1.19h-28.5zM715.0 216.84h28.5v1.19h-28.5zM772.0 216.84h28.5v1.19h-28.5zM544.0 220.25h28.5v1.19h-28.5zM743.5 223.66h28.5v1.19h-28.5zM800.5 224.80h28.5v1.19h-28.5zM515.5 227.07h28.5v1.19h-28.5zM886.0 227.07h28.5v1.19h-28.5zM886.0 229.35h28.5v1.19h-28.5zM743.5 230.48h28.5v1.19h-28.5zM715.0 231.62h28.5v1.19h-28.5zM715.0 233.89h28.5v1.19h-28.5zM772.0 236.17h28.5v1.19h-28.5zM715.0 237.31h28.5v1.19h-28.5zM829.0 237.31h28.5v1.19h-28.5zM629.5 238.44h28.5v1.19h-28.5zM629.5 239.58h28.5v1.19h-28.5zM772.0 239.58h28.5v1.19h-28.5zM829.0 239.58h28.5v1.19h-28.5zM715.0 240.72h28.5v1.19h-28.5zM800.5 242.99h28.5v1.19h-28.5zM857.5 245.26h28.5v1.19h-28.5zM886.0 246.40h28.5v1.19h-28.5zM743.5 247.54h28.5v1.19h-28.5zM772.0 248.67h28.5v1.19h-28.5zM544.0 253.22h28.5v1.19h-28.5zM544.0 254.36h28.5v1.19h-28.5zM544.0 255.49h28.5v1.19h-28.5zM772.0 257.77h28.5v1.19h-28.5zM544.0 258.91h28.5v1.19h-28.5zM544.0 265.73h28.5v1.19h-28.5zM658.0 266.86h28.5v1.19h-28.5zM800.5 269.14h28.5v1.19h-28.5zM544.0 272.55h28.5v1.19h-28.5zM686.5 272.55h28.5v1.19h-28.5zM800.5 272.55h28.5v1.19h-28.5zM544.0 273.68h28.5v1.19h-28.5zM686.5 273.68h28.5v1.19h-28.5zM658.0 286.19h28.5v1.19h-28.5z" fill="#f5f2f9"/>
<path d="M544.0 95.20h28.5v1.19h-28.5zM829.0 100.88h28.5v1.19h-28.5zM487.0 104.29h28.5v1.19h-28.5zM772.0 104.29h28.5v1.19h-28.5zM487.0 106.57h28.5v1.19h-28.5zM772.0 106.57h28.5v1.19h-28.5zM800.5 106.57h28.5v1.19h-28.5zM772.0 107.71h28.5v1.19h-28.5zM743.5 108.84h28.5v1.19h-28.5zM772.0 109.98h28.5v1.19h-28.5zM515.5 115.66h28.5v1.19h-28.5zM800.5 115.66h28.5v1.19h-28.5zM743.5 116.80h28.5v1.19h-28.5zM800.5 116.80h28.5v1.19h-28.5zM544.0 117.94h28.5v1.19h-28.5zM800.5 119.07h28.5v1.19h-28.5zM629.5 120.21h28.5v1.19h-28.5zM772.0 125.89h28.5v1.19h-28.5zM487.0 127.03h28.5v1.19h-28.5zM829.0 127.03h28.5v1.19h-28.5zM686.5 129.31h28.5v1.19h-28.5zM715.0 129.31h28.5v1.19h-28.5zM829.0 129.31h28.5v1.19h-28.5zM886.0 129.31h28.5v1.19h-28.5zM487.0 130.44h28.5v1.19h-28.5zM572.5 131.58h28.5v1.19h-28.5zM601.0 131.58h28.5v1.19h-28.5zM601.0 132.72h28.5v1.19h-28.5zM629.5 132.72h28.5v1.19h-28.5zM743.5 132.72h28.5v1.19h-28.5zM914.5 132.72h28.5v1.19h-28.5zM715.0 133.85h28.5v1.19h-28.5zM886.0 133.85h28.5v1.19h-28.5zM914.5 134.99h28.5v1.19h-28.5zM800.5 136.13h28.5v1.19h-28.5zM914.5 136.13h28.5v1.19h-28.5zM800.5 137.26h28.5v1.19h-28.5zM914.5 137.26h28.5v1.19h-28.5zM487.0 140.67h28.5v1.19h-28.5zM886.0 142.95h28.5v1.19h-28.5zM914.5 142.95h28.5v1.19h-28.5zM715.0 144.08h28.5v1.19h-28.5zM829.0 144.08h28.5v1.19h-28.5zM829.0 145.22h28.5v1.19h-28.5zM857.5 145.22h28.5v1.19h-28.5zM629.5 146.36h28.5v1.19h-28.5zM658.0 146.36h28.5v1.19h-28.5zM772.0 147.49h28.5v1.19h-28.5zM658.0 148.63h28.5v1.19h-28.5zM715.0 148.63h28.5v1.19h-28.5zM914.5 148.63h28.5v1.19h-28.5zM886.0 149.77h28.5v1.19h-28.5zM658.0 152.04h28.5v1.19h-28.5zM800.5 155.45h28.5v1.19h-28.5zM914.5 157.73h28.5v1.19h-28.5zM715.0 158.86h28.5v1.19h-28.5zM544.0 161.14h28.5v1.19h-28.5zM886.0 162.27h28.5v1.19h-28.5zM886.0 163.41h28.5v1.19h-28.5zM914.5 163.41h28.5v1.19h-28.5zM772.0 166.82h28.5v1.19h-28.5zM772.0 167.96h28.5v1.19h-28.5zM772.0 169.09h28.5v1.19h-28.5zM829.0 169.09h28.5v1.19h-28.5zM772.0 172.51h28.5v1.19h-28.5zM772.0 173.64h28.5v1.19h-28.5zM715.0 174.78h28.5v1.19h-28.5zM544.0 175.92h28.5v1.19h-28.5zM914.5 177.05h28.5v1.19h-28.5zM886.0 179.33h28.5v1.19h-28.5zM857.5 181.60h28.5v1.19h-28.5zM829.0 182.74h28.5v1.19h-28.5zM886.0 182.74h28.5v1.19h-28.5zM743.5 185.01h28.5v1.19h-28.5zM829.0 185.01h28.5v1.19h-28.5zM715.0 186.15h28.5v1.19h-28.5zM743.5 186.15h28.5v1.19h-28.5zM772.0 186.15h28.5v1.19h-28.5zM800.5 186.15h28.5v1.19h-28.5zM715.0 189.56h28.5v1.19h-28.5zM743.5 189.56h28.5v1.19h-28.5zM772.0 191.83h28.5v1.19h-28.5zM886.0 191.83h28.5v1.19h-28.5zM715.0 192.97h28.5v1.19h-28.5zM829.0 192.97h28.5v1.19h-28.5zM772.0 195.24h28.5v1.19h-28.5zM715.0 196.38h28.5v1.19h-28.5zM800.5 196.38h28.5v1.19h-28.5zM772.0 198.65h28.5v1.19h-28.5zM800.5 200.93h28.5v1.19h-28.5zM800.5 202.06h28.5v1.19h-28.5zM772.0 203.20h28.5v1.19h-28.5zM914.5 203.20h28.5v1.19h-28.5zM743.5 204.34h28.5v1.19h-28.5zM829.0 204.34h28.5v1.19h-28.5zM829.0 205.47h28.5v1.19h-28.5zM772.0 206.61h28.5v1.19h-28.5zM800.5 206.61h28.5v1.19h-28.5zM886.0 206.61h28.5v1.19h-28.5zM715.0 207.75h28.5v1.19h-28.5zM772.0 208.88h28.5v1.19h-28.5zM886.0 208.88h28.5v1.19h-28.5zM715.0 211.16h28.5v1.19h-28.5zM772.0 211.16h28.5v1.19h-28.5zM743.5 212.29h28.5v1.19h-28.5zM829.0 212.29h28.5v1.19h-28.5zM914.5 212.29h28.5v1.19h-28.5zM715.0 214.57h28.5v1.19h-28.5zM886.0 214.57h28.5v1.19h-28.5zM544.0 215.71h28.5v1.19h-28.5zM715.0 217.98h28.5v1.19h-28.5zM715.0 220.25h28.5v1.19h-28.5zM544.0 221.39h28.5v1.19h-28.5zM544.0 222.53h28.5v1.19h-28.5zM743.5 222.53h28.5v1.19h-28.5zM886.0 222.53h28.5v1.19h-28.5zM544.0 223.66h28.5v1.19h-28.5zM715.0 223.66h28.5v1.19h-28.5zM800.5 223.66h28.5v1.19h-28.5zM487.0 225.94h28.5v1.19h-28.5zM886.0 225.94h28.5v1.19h-28.5zM914.5 227.07h28.5v1.19h-28.5zM743.5 228.21h28.5v1.19h-28.5zM772.0 228.21h28.5v1.19h-28.5zM829.0 228.21h28.5v1.19h-28.5zM857.5 228.21h28.5v1.19h-28.5zM544.0 229.35h28.5v1.19h-28.5zM743.5 229.35h28.5v1.19h-28.5zM914.5 229.35h28.5v1.19h-28.5zM715.0 230.48h28.5v1.19h-28.5zM857.5 230.48h28.5v1.19h-28.5zM772.0 231.62h28.5v1.19h-28.5zM829.0 231.62h28.5v1.19h-28.5zM544.0 233.89h28.5v1.19h-28.5zM772.0 235.03h28.5v1.19h-28.5zM857.5 235.03h28.5v1.19h-28.5zM829.0 236.17h28.5v1.19h-28.5zM743.5 237.31h28.5v1.19h-28.5zM886.0 237.31h28.5v1.19h-28.5zM800.5 240.72h28.5v1.19h-28.5zM715.0 241.85h28.5v1.19h-28.5zM544.0 244.13h28.5v1.19h-28.5zM487.0 245.26h28.5v1.19h-28.5zM515.5 245.26h28.5v1.19h-28.5zM829.0 245.26h28.5v1.19h-28.5zM914.5 246.40h28.5v1.19h-28.5zM544.0 247.54h28.5v1.19h-28.5zM715.0 247.54h28.5v1.19h-28.5zM914.5 247.54h28.5v1.19h-28.5zM886.0 248.67h28.5v1.19h-28.5zM772.0 253.22h28.5v1.19h-28.5zM886.0 253.22h28.5v1.19h-28.5zM886.0 254.36h28.5v1.19h-28.5zM772.0 255.49h28.5v1.19h-28.5zM886.0 255.49h28.5v1.19h-28.5zM572.5 256.63h28.5v1.19h-28.5zM658.0 257.77h28.5v1.19h-28.5zM658.0 258.91h28.5v1.19h-28.5zM658.0 262.32h28.5v1.19h-28.5zM800.5 264.59h28.5v1.19h-28.5zM572.5 265.73h28.5v1.19h-28.5zM686.5 265.73h28.5v1.19h-28.5zM686.5 266.86h28.5v1.19h-28.5zM658.0 269.14h28.5v1.19h-28.5zM658.0 270.27h28.5v1.19h-28.5zM572.5 273.68h28.5v1.19h-28.5zM772.0 273.68h28.5v1.19h-28.5zM800.5 273.68h28.5v1.19h-28.5zM658.0 274.82h28.5v1.19h-28.5zM829.0 274.82h28.5v1.19h-28.5zM857.5 274.82h28.5v1.19h-28.5zM686.5 278.23h28.5v1.19h-28.5zM686.5 279.37h28.5v1.19h-28.5zM743.5 280.51h28.5v1.19h-28.5zM658.0 282.78h28.5v1.19h-28.5zM686.5 283.92h28.5v1.19h-28.5zM601.0 285.05h28.5v1.19h-28.5zM686.5 285.05h28.5v1.19h-28.5zM772.0 287.33h28.5v1.19h-28.5zM772.0 288.46h28.5v1.19h-28.5z" fill="#fef5f2"/>
<path d="M544.0 96.34h28.5v1.19h-28.5zM658.0 96.34h28.5v1.19h-28.5zM544.0 98.61h28.5v1.19h-28.5zM686.5 98.61h28.5v1.19h-28.5zM658.0 99.75h28.5v1.19h-28.5zM800.5 104.29h28.5v1.19h-28.5zM487.0 105.43h28.5v1.19h-28.5zM515.5 105.43h28.5v1.19h-28.5zM686.5 105.43h28.5v1.19h-28.5zM857.5 106.57h28.5v1.19h-28.5zM715.0 107.71h28.5v1.19h-28.5zM800.5 108.84h28.5v1.19h-28.5zM743.5 109.98h28.5v1.19h-28.5zM715.0 114.53h28.5v1.19h-28.5zM572.5 115.66h28.5v1.19h-28.5zM743.5 115.66h28.5v1.19h-28.5zM829.0 116.80h28.5v1.19h-28.5zM601.0 117.94h28.5v1.19h-28.5zM715.0 117.94h28.5v1.19h-28.5zM829.0 117.94h28.5v1.19h-28.5zM829.0 119.07h28.5v1.19h-28.5zM772.0 123.62h28.5v1.19h-28.5zM800.5 123.62h28.5v1.19h-28.5zM544.0 127.03h28.5v1.19h-28.5zM715.0 127.03h28.5v1.19h-28.5zM772.0 127.03h28.5v1.19h-28.5zM857.5 127.03h28.5v1.19h-28.5zM829.0 128.17h28.5v1.19h-28.5zM857.5 128.17h28.5v1.19h-28.5zM544.0 129.31h28.5v1.19h-28.5zM658.0 129.31h28.5v1.19h-28.5zM914.5 129.31h28.5v1.19h-28.5zM572.5 130.44h28.5v1.19h-28.5zM544.0 132.72h28.5v1.19h-28.5zM715.0 132.72h28.5v1.19h-28.5zM886.0 132.72h28.5v1.19h-28.5zM772.0 133.85h28.5v1.19h-28.5zM914.5 133.85h28.5v1.19h-28.5zM800.5 134.99h28.5v1.19h-28.5zM886.0 134.99h28.5v1.19h-28.5zM886.0 136.13h28.5v1.19h-28.5zM886.0 137.26h28.5v1.19h-28.5zM715.0 138.40h28.5v1.19h-28.5zM914.5 138.40h28.5v1.19h-28.5zM772.0 139.54h28.5v1.19h-28.5zM487.0 141.81h28.5v1.19h-28.5zM772.0 142.95h28.5v1.19h-28.5zM601.0 144.08h28.5v1.19h-28.5zM800.5 144.08h28.5v1.19h-28.5zM715.0 145.22h28.5v1.19h-28.5zM772.0 146.36h28.5v1.19h-28.5zM914.5 147.49h28.5v1.19h-28.5zM886.0 148.63h28.5v1.19h-28.5zM772.0 152.04h28.5v1.19h-28.5zM658.0 153.18h28.5v1.19h-28.5zM772.0 153.18h28.5v1.19h-28.5zM772.0 154.32h28.5v1.19h-28.5zM886.0 156.59h28.5v1.19h-28.5zM715.0 157.73h28.5v1.19h-28.5zM886.0 157.73h28.5v1.19h-28.5zM772.0 158.86h28.5v1.19h-28.5zM914.5 162.27h28.5v1.19h-28.5zM914.5 164.55h28.5v1.19h-28.5zM544.0 167.96h28.5v1.19h-28.5zM886.0 169.09h28.5v1.19h-28.5zM544.0 170.23h28.5v1.19h-28.5zM914.5 170.23h28.5v1.19h-28.5zM829.0 171.37h28.5v1.19h-28.5zM857.5 171.37h28.5v1.19h-28.5zM772.0 174.78h28.5v1.19h-28.5zM772.0 175.92h28.5v1.19h-28.5zM772.0 177.05h28.5v1.19h-28.5zM829.0 179.33h28.5v1.19h-28.5zM914.5 179.33h28.5v1.19h-28.5zM829.0 183.87h28.5v1.19h-28.5zM715.0 185.01h28.5v1.19h-28.5zM772.0 185.01h28.5v1.19h-28.5zM886.0 186.15h28.5v1.19h-28.5zM886.0 187.28h28.5v1.19h-28.5zM886.0 188.42h28.5v1.19h-28.5zM743.5 194.11h28.5v1.19h-28.5zM800.5 195.24h28.5v1.19h-28.5zM829.0 203.20h28.5v1.19h-28.5zM772.0 204.34h28.5v1.19h-28.5zM914.5 204.34h28.5v1.19h-28.5zM914.5 205.47h28.5v1.19h-28.5zM829.0 206.61h28.5v1.19h-28.5zM800.5 207.75h28.5v1.19h-28.5zM857.5 207.75h28.5v1.19h-28.5zM800.5 208.88h28.5v1.19h-28.5zM886.0 210.02h28.5v1.19h-28.5zM829.0 211.16h28.5v1.19h-28.5zM914.5 211.16h28.5v1.19h-28.5zM544.0 212.29h28.5v1.19h-28.5zM715.0 212.29h28.5v1.19h-28.5zM572.5 213.43h28.5v1.19h-28.5zM715.0 213.43h28.5v1.19h-28.5zM857.5 213.43h28.5v1.19h-28.5zM914.5 215.71h28.5v1.19h-28.5zM829.0 216.84h28.5v1.19h-28.5zM886.0 216.84h28.5v1.19h-28.5zM914.5 216.84h28.5v1.19h-28.5zM886.0 217.98h28.5v1.19h-28.5zM772.0 219.12h28.5v1.19h-28.5zM886.0 219.12h28.5v1.19h-28.5zM743.5 221.39h28.5v1.19h-28.5zM772.0 221.39h28.5v1.19h-28.5zM800.5 222.53h28.5v1.19h-28.5zM772.0 223.66h28.5v1.19h-28.5zM886.0 224.80h28.5v1.19h-28.5zM487.0 227.07h28.5v1.19h-28.5zM914.5 228.21h28.5v1.19h-28.5zM800.5 229.35h28.5v1.19h-28.5zM857.5 229.35h28.5v1.19h-28.5zM886.0 230.48h28.5v1.19h-28.5zM544.0 232.76h28.5v1.19h-28.5zM544.0 235.03h28.5v1.19h-28.5zM829.0 235.03h28.5v1.19h-28.5zM544.0 236.17h28.5v1.19h-28.5zM715.0 236.17h28.5v1.19h-28.5zM886.0 236.17h28.5v1.19h-28.5zM886.0 239.58h28.5v1.19h-28.5zM572.5 240.72h28.5v1.19h-28.5zM772.0 240.72h28.5v1.19h-28.5zM886.0 240.72h28.5v1.19h-28.5zM715.0 245.26h28.5v1.19h-28.5zM743.5 245.26h28.5v1.19h-28.5zM601.0 248.67h28.5v1.19h-28.5zM829.0 248.67h28.5v1.19h-28.5zM857.5 248.67h28.5v1.19h-28.5zM772.0 249.81h28.5v1.19h-28.5zM544.0 250.95h28.5v1.19h-28.5zM886.0 250.95h28.5v1.19h-28.5zM544.0 252.08h28.5v1.19h-28.5zM886.0 252.08h28.5v1.19h-28.5zM715.0 253.22h28.5v1.19h-28.5zM601.0 254.36h28.5v1.19h-28.5zM715.0 254.36h28.5v1.19h-28.5zM800.5 254.36h28.5v1.19h-28.5zM829.0 255.49h28.5v1.19h-28.5zM914.5 255.49h28.5v1.19h-28.5zM544.0 256.63h28.5v1.19h-28.5zM715.0 257.77h28.5v1.19h-28.5zM772.0 258.91h28.5v1.19h-28.5zM829.0 258.91h28.5v1.19h-28.5zM544.0 260.04h28.5v1.19h-28.5zM829.0 260.04h28.5v1.19h-28.5zM886.0 260.04h28.5v1.19h-28.5zM800.5 262.32h28.5v1.19h-28.5zM544.0 264.59h28.5v1.19h-28.5zM544.0 268.00h28.5v1.19h-28.5zM601.0 268.00h28.5v1.19h-28.5zM886.0 268.00h28.5v1.19h-28.5zM772.0 271.41h28.5v1.19h-28.5zM829.0 273.68h28.5v1.19h-28.5zM658.0 275.96h28.5v1.19h-28.5zM829.0 275.96h28.5v1.19h-28.5zM601.0 277.09h28.5v1.19h-28.5zM601.0 278.23h28.5v1.19h-28.5zM772.0 280.51h28.5v1.19h-28.5zM544.0 286.19h28.5v1.19h-28.5zM829.0 286.19h28.5v1.19h-28.5zM658.0 288.46h28.5v1.19h-28.5z" fill="#fcece4"/>
<path d="M686.5 95.20h28.5v1.19h-28.5zM572.5 96.34h28.5v1.19h-28.5zM772.0 100.88h28.5v1.19h-28.5zM800.5 100.88h28.5v1.19h-28.5zM515.5 104.29h28.5v1.19h-28.5zM544.0 104.29h28.5v1.19h-28.5zM686.5 106.57h28.5v1.19h-28.5zM829.0 106.57h28.5v1.19h-28.5zM743.5 107.71h28.5v1.19h-28.5zM829.0 108.84h28.5v1.19h-28.5zM857.5 108.84h28.5v1.19h-28.5zM800.5 109.98h28.5v1.19h-28.5zM544.0 114.53h28.5v1.19h-28.5zM772.0 114.53h28.5v1.19h-28.5zM829.0 114.53h28.5v1.19h-28.5zM829.0 115.66h28.5v1.19h-28.5zM886.0 115.66h28.5v1.19h-28.5zM515.5 116.80h28.5v1.19h-28.5zM886.0 116.80h28.5v1.19h-28.5zM886.0 117.94h28.5v1.19h-28.5zM886.0 119.07h28.5v1.19h-28.5zM601.0 120.21h28.5v1.19h-28.5zM886.0 120.21h28.5v1.19h-28.5zM601.0 121.35h28.5v1.19h-28.5zM715.0 124.76h28.5v1.19h-28.5zM601.0 125.89h28.5v1.19h-28.5zM629.5 125.89h28.5v1.19h-28.5zM857.5 125.89h28.5v1.19h-28.5zM658.0 127.03h28.5v1.19h-28.5zM715.0 128.17h28.5v1.19h-28.5zM743.5 128.17h28.5v1.19h-28.5zM743.5 129.31h28.5v1.19h-28.5zM857.5 129.31h28.5v1.19h-28.5zM487.0 131.58h28.5v1.19h-28.5zM544.0 131.58h28.5v1.19h-28.5zM629.5 131.58h28.5v1.19h-28.5zM715.0 134.99h28.5v1.19h-28.5zM772.0 134.99h28.5v1.19h-28.5zM487.0 138.40h28.5v1.19h-28.5zM772.0 138.40h28.5v1.19h-28.5zM886.0 138.40h28.5v1.19h-28.5zM658.0 139.54h28.5v1.19h-28.5zM515.5 141.81h28.5v1.19h-28.5zM658.0 142.95h28.5v1.19h-28.5zM658.0 144.08h28.5v1.19h-28.5zM886.0 144.08h28.5v1.19h-28.5zM914.5 144.08h28.5v1.19h-28.5zM601.0 145.22h28.5v1.19h-28.5zM886.0 145.22h28.5v1.19h-28.5zM914.5 145.22h28.5v1.19h-28.5zM886.0 146.36h28.5v1.19h-28.5zM715.0 147.49h28.5v1.19h-28.5zM886.0 147.49h28.5v1.19h-28.5zM914.5 156.59h28.5v1.19h-28.5zM772.0 157.73h28.5v1.19h-28.5zM800.5 157.73h28.5v1.19h-28.5zM601.0 166.82h28.5v1.19h-28.5zM544.0 171.37h28.5v1.19h-28.5zM886.0 171.37h28.5v1.19h-28.5zM544.0 173.64h28.5v1.19h-28.5zM572.5 174.78h28.5v1.19h-28.5zM829.0 177.05h28.5v1.19h-28.5zM857.5 177.05h28.5v1.19h-28.5zM914.5 178.19h28.5v1.19h-28.5zM857.5 179.33h28.5v1.19h-28.5zM772.0 183.87h28.5v1.19h-28.5zM800.5 183.87h28.5v1.19h-28.5zM829.0 191.83h28.5v1.19h-28.5zM772.0 192.97h28.5v1.19h-28.5zM487.0 198.65h28.5v1.19h-28.5zM544.0 198.65h28.5v1.19h-28.5zM800.5 198.65h28.5v1.19h-28.5zM544.0 199.79h28.5v1.19h-28.5zM857.5 202.06h28.5v1.19h-28.5zM886.0 203.20h28.5v1.19h-28.5zM715.0 204.34h28.5v1.19h-28.5zM857.5 204.34h28.5v1.19h-28.5zM743.5 205.47h28.5v1.19h-28.5zM772.0 205.47h28.5v1.19h-28.5zM800.5 210.02h28.5v1.19h-28.5zM886.0 211.16h28.5v1.19h-28.5zM658.0 213.43h28.5v1.19h-28.5zM572.5 214.57h28.5v1.19h-28.5zM772.0 217.98h28.5v1.19h-28.5zM772.0 220.25h28.5v1.19h-28.5zM886.0 220.25h28.5v1.19h-28.5zM715.0 221.39h28.5v1.19h-28.5zM800.5 221.39h28.5v1.19h-28.5zM715.0 222.53h28.5v1.19h-28.5zM914.5 222.53h28.5v1.19h-28.5zM829.0 223.66h28.5v1.19h-28.5zM914.5 223.66h28.5v1.19h-28.5zM544.0 224.80h28.5v1.19h-28.5zM829.0 224.80h28.5v1.19h-28.5zM857.5 225.94h28.5v1.19h-28.5zM544.0 227.07h28.5v1.19h-28.5zM658.0 228.21h28.5v1.19h-28.5zM601.0 229.35h28.5v1.19h-28.5zM658.0 229.35h28.5v1.19h-28.5zM715.0 229.35h28.5v1.19h-28.5zM772.0 229.35h28.5v1.19h-28.5zM829.0 230.48h28.5v1.19h-28.5zM544.0 231.62h28.5v1.19h-28.5zM572.5 235.03h28.5v1.19h-28.5zM886.0 235.03h28.5v1.19h-28.5zM572.5 238.44h28.5v1.19h-28.5zM914.5 238.44h28.5v1.19h-28.5zM772.0 244.13h28.5v1.19h-28.5zM800.5 244.13h28.5v1.19h-28.5zM658.0 245.26h28.5v1.19h-28.5zM914.5 248.67h28.5v1.19h-28.5zM800.5 249.81h28.5v1.19h-28.5zM829.0 249.81h28.5v1.19h-28.5zM715.0 252.08h28.5v1.19h-28.5zM772.0 252.08h28.5v1.19h-28.5zM601.0 253.22h28.5v1.19h-28.5zM743.5 253.22h28.5v1.19h-28.5zM800.5 253.22h28.5v1.19h-28.5zM572.5 254.36h28.5v1.19h-28.5zM743.5 254.36h28.5v1.19h-28.5zM772.0 254.36h28.5v1.19h-28.5zM829.0 254.36h28.5v1.19h-28.5zM572.5 255.49h28.5v1.19h-28.5zM829.0 256.63h28.5v1.19h-28.5zM829.0 257.77h28.5v1.19h-28.5zM601.0 260.04h28.5v1.19h-28.5zM544.0 261.18h28.5v1.19h-28.5zM686.5 261.18h28.5v1.19h-28.5zM829.0 261.18h28.5v1.19h-28.5zM686.5 262.32h28.5v1.19h-28.5zM829.0 262.32h28.5v1.19h-28.5zM886.0 262.32h28.5v1.19h-28.5zM715.0 263.45h28.5v1.19h-28.5zM772.0 264.59h28.5v1.19h-28.5zM601.0 265.73h28.5v1.19h-28.5zM886.0 265.73h28.5v1.19h-28.5zM601.0 266.86h28.5v1.19h-28.5zM914.5 266.86h28.5v1.19h-28.5zM772.0 268.00h28.5v1.19h-28.5zM914.5 268.00h28.5v1.19h-28.5zM886.0 269.14h28.5v1.19h-28.5zM715.0 270.27h28.5v1.19h-28.5zM544.0 271.41h28.5v1.19h-28.5zM544.0 274.82h28.5v1.19h-28.5zM544.0 277.09h28.5v1.19h-28.5zM686.5 277.09h28.5v1.19h-28.5zM544.0 279.37h28.5v1.19h-28.5zM715.0 279.37h28.5v1.19h-28.5zM743.5 279.37h28.5v1.19h-28.5zM772.0 279.37h28.5v1.19h-28.5zM658.0 280.51h28.5v1.19h-28.5zM715.0 280.51h28.5v1.19h-28.5zM800.5 280.51h28.5v1.19h-28.5zM800.5 281.64h28.5v1.19h-28.5zM800.5 282.78h28.5v1.19h-28.5zM772.0 283.92h28.5v1.19h-28.5zM601.0 286.19h28.5v1.19h-28.5zM686.5 286.19h28.5v1.19h-28.5zM772.0 286.19h28.5v1.19h-28.5zM857.5 286.19h28.5v1.19h-28.5zM658.0 287.33h28.5v1.19h-28.5zM857.5 287.33h28.5v1.19h-28.5z" fill="#fbe2d7"/>
<path d="M572.5 95.20h28.5v1.19h-28.5zM857.5 95.20h28.5v1.19h-28.5zM686.5 96.34h28.5v1.19h-28.5zM772.0 96.34h28.5v1.19h-28.5zM857.5 96.34h28.5v1.19h-28.5zM857.5 98.61h28.5v1.19h-28.5zM544.0 99.75h28.5v1.19h-28.5zM857.5 99.75h28.5v1.19h-28.5zM544.0 100.88h28.5v1.19h-28.5zM658.0 100.88h28.5v1.19h-28.5zM743.5 100.88h28.5v1.19h-28.5zM886.0 100.88h28.5v1.19h-28.5zM544.0 102.02h28.5v1.19h-28.5zM487.0 103.16h28.5v1.19h-28.5zM544.0 103.16h28.5v1.19h-28.5zM658.0 103.16h28.5v1.19h-28.5zM544.0 105.43h28.5v1.19h-28.5zM886.0 106.57h28.5v1.19h-28.5zM658.0 107.71h28.5v1.19h-28.5zM800.5 107.71h28.5v1.19h-28.5zM886.0 107.71h28.5v1.19h-28.5zM772.0 113.39h28.5v1.19h-28.5zM487.0 114.53h28.5v1.19h-28.5zM601.0 114.53h28.5v1.19h-28.5zM601.0 115.66h28.5v1.19h-28.5zM857.5 115.66h28.5v1.19h-28.5zM601.0 116.80h28.5v1.19h-28.5zM515.5 117.94h28.5v1.19h-28.5zM487.0 119.07h28.5v1.19h-28.5zM629.5 119.07h28.5v1.19h-28.5zM715.0 119.07h28.5v1.19h-28.5zM829.0 120.21h28.5v1.19h-28.5zM886.0 121.35h28.5v1.19h-28.5zM715.0 122.48h28.5v1.19h-28.5zM601.0 124.76h28.5v1.19h-28.5zM829.0 124.76h28.5v1.19h-28.5zM886.0 124.76h28.5v1.19h-28.5zM715.0 125.89h28.5v1.19h-28.5zM743.5 125.89h28.5v1.19h-28.5zM829.0 125.89h28.5v1.19h-28.5zM886.0 125.89h28.5v1.19h-28.5zM515.5 127.03h28.5v1.19h-28.5zM601.0 127.03h28.5v1.19h-28.5zM629.5 127.03h28.5v1.19h-28.5zM743.5 127.03h28.5v1.19h-28.5zM544.0 128.17h28.5v1.19h-28.5zM658.0 128.17h28.5v1.19h-28.5zM886.0 128.17h28.5v1.19h-28.5zM572.5 129.31h28.5v1.19h-28.5zM601.0 130.44h28.5v1.19h-28.5zM658.0 130.44h28.5v1.19h-28.5zM658.0 133.85h28.5v1.19h-28.5zM743.5 133.85h28.5v1.19h-28.5zM544.0 134.99h28.5v1.19h-28.5zM743.5 134.99h28.5v1.19h-28.5zM772.0 136.13h28.5v1.19h-28.5zM601.0 137.26h28.5v1.19h-28.5zM715.0 137.26h28.5v1.19h-28.5zM772.0 137.26h28.5v1.19h-28.5zM601.0 138.40h28.5v1.19h-28.5zM629.5 138.40h28.5v1.19h-28.5zM743.5 138.40h28.5v1.19h-28.5zM601.0 139.54h28.5v1.19h-28.5zM515.5 140.67h28.5v1.19h-28.5zM658.0 140.67h28.5v1.19h-28.5zM715.0 140.67h28.5v1.19h-28.5zM743.5 140.67h28.5v1.19h-28.5zM487.0 142.95h28.5v1.19h-28.5zM772.0 144.08h28.5v1.19h-28.5zM629.5 145.22h28.5v1.19h-28.5zM658.0 145.22h28.5v1.19h-28.5zM715.0 146.36h28.5v1.19h-28.5zM743.5 147.49h28.5v1.19h-28.5zM658.0 150.91h28.5v1.19h-28.5zM487.0 152.04h28.5v1.19h-28.5zM601.0 152.04h28.5v1.19h-28.5zM487.0 154.32h28.5v1.19h-28.5zM772.0 155.45h28.5v1.19h-28.5zM544.0 156.59h28.5v1.19h-28.5zM800.5 156.59h28.5v1.19h-28.5zM658.0 157.73h28.5v1.19h-28.5zM658.0 158.86h28.5v1.19h-28.5zM487.0 162.27h28.5v1.19h-28.5zM544.0 162.27h28.5v1.19h-28.5zM572.5 162.27h28.5v1.19h-28.5zM544.0 166.82h28.5v1.19h-28.5zM601.0 167.96h28.5v1.19h-28.5zM914.5 169.09h28.5v1.19h-28.5zM914.5 171.37h28.5v1.19h-28.5zM829.0 172.51h28.5v1.19h-28.5zM829.0 173.64h28.5v1.19h-28.5zM857.5 173.64h28.5v1.19h-28.5zM914.5 174.78h28.5v1.19h-28.5zM829.0 178.19h28.5v1.19h-28.5zM886.0 178.19h28.5v1.19h-28.5zM857.5 182.74h28.5v1.19h-28.5zM857.5 183.87h28.5v1.19h-28.5zM800.5 185.01h28.5v1.19h-28.5zM886.0 185.01h28.5v1.19h-28.5zM886.0 189.56h28.5v1.19h-28.5zM658.0 191.83h28.5v1.19h-28.5zM544.0 192.97h28.5v1.19h-28.5zM658.0 192.97h28.5v1.19h-28.5zM857.5 192.97h28.5v1.19h-28.5zM544.0 194.11h28.5v1.19h-28.5zM715.0 194.11h28.5v1.19h-28.5zM715.0 195.24h28.5v1.19h-28.5zM743.5 195.24h28.5v1.19h-28.5zM800.5 197.52h28.5v1.19h-28.5zM487.0 199.79h28.5v1.19h-28.5zM487.0 200.93h28.5v1.19h-28.5zM544.0 200.93h28.5v1.19h-28.5zM544.0 202.06h28.5v1.19h-28.5zM658.0 203.20h28.5v1.19h-28.5zM800.5 203.20h28.5v1.19h-28.5zM800.5 204.34h28.5v1.19h-28.5zM886.0 204.34h28.5v1.19h-28.5zM658.0 205.47h28.5v1.19h-28.5zM715.0 205.47h28.5v1.19h-28.5zM800.5 205.47h28.5v1.19h-28.5zM857.5 205.47h28.5v1.19h-28.5zM886.0 205.47h28.5v1.19h-28.5zM715.0 206.61h28.5v1.19h-28.5zM743.5 206.61h28.5v1.19h-28.5zM601.0 208.88h28.5v1.19h-28.5zM658.0 208.88h28.5v1.19h-28.5zM658.0 210.02h28.5v1.19h-28.5zM487.0 214.57h28.5v1.19h-28.5zM800.5 217.98h28.5v1.19h-28.5zM914.5 217.98h28.5v1.19h-28.5zM572.5 219.12h28.5v1.19h-28.5zM829.0 219.12h28.5v1.19h-28.5zM914.5 219.12h28.5v1.19h-28.5zM572.5 220.25h28.5v1.19h-28.5zM800.5 220.25h28.5v1.19h-28.5zM544.0 225.94h28.5v1.19h-28.5zM829.0 225.94h28.5v1.19h-28.5zM914.5 225.94h28.5v1.19h-28.5zM857.5 227.07h28.5v1.19h-28.5zM829.0 229.35h28.5v1.19h-28.5zM772.0 230.48h28.5v1.19h-28.5zM800.5 230.48h28.5v1.19h-28.5zM914.5 230.48h28.5v1.19h-28.5zM572.5 233.89h28.5v1.19h-28.5zM914.5 236.17h28.5v1.19h-28.5zM914.5 237.31h28.5v1.19h-28.5zM914.5 239.58h28.5v1.19h-28.5zM743.5 242.99h28.5v1.19h-28.5zM886.0 245.26h28.5v1.19h-28.5zM601.0 246.40h28.5v1.19h-28.5zM658.0 246.40h28.5v1.19h-28.5zM544.0 248.67h28.5v1.19h-28.5zM629.5 248.67h28.5v1.19h-28.5zM658.0 248.67h28.5v1.19h-28.5zM715.0 248.67h28.5v1.19h-28.5zM886.0 249.81h28.5v1.19h-28.5zM772.0 250.95h28.5v1.19h-28.5zM914.5 250.95h28.5v1.19h-28.5zM800.5 252.08h28.5v1.19h-28.5zM914.5 252.08h28.5v1.19h-28.5zM572.5 253.22h28.5v1.19h-28.5zM829.0 253.22h28.5v1.19h-28.5zM857.5 254.36h28.5v1.19h-28.5zM914.5 254.36h28.5v1.19h-28.5zM658.0 255.49h28.5v1.19h-28.5zM886.0 257.77h28.5v1.19h-28.5zM886.0 258.91h28.5v1.19h-28.5zM914.5 261.18h28.5v1.19h-28.5zM772.0 262.32h28.5v1.19h-28.5zM658.0 263.45h28.5v1.19h-28.5zM572.5 266.86h28.5v1.19h-28.5zM629.5 266.86h28.5v1.19h-28.5zM686.5 268.00h28.5v1.19h-28.5zM800.5 268.00h28.5v1.19h-28.5zM544.0 269.14h28.5v1.19h-28.5zM743.5 270.27h28.5v1.19h-28.5zM886.0 270.27h28.5v1.19h-28.5zM686.5 271.41h28.5v1.19h-28.5zM715.0 271.41h28.5v1.19h-28.5zM743.5 271.41h28.5v1.19h-28.5zM572.5 272.55h28.5v1.19h-28.5zM601.0 272.55h28.5v1.19h-28.5zM715.0 272.55h28.5v1.19h-28.5zM715.0 273.68h28.5v1.19h-28.5zM772.0 274.82h28.5v1.19h-28.5zM601.0 275.96h28.5v1.19h-28.5zM772.0 278.23h28.5v1.19h-28.5zM658.0 281.64h28.5v1.19h-28.5zM829.0 281.64h28.5v1.19h-28.5zM544.0 282.78h28.5v1.19h-28.5zM601.0 283.92h28.5v1.19h-28.5zM715.0 287.33h28.5v1.19h-28.5zM715.0 288.46h28.5v1.19h-28.5zM800.5 288.46h28.5v1.19h-28.5zM829.0 288.46h28.5v1.19h-28.5zM857.5 288.46h28.5v1.19h-28.5z" fill="#fad8ca"/>
<path d="M515.5 95.20h28.5v1.19h-28.5zM601.0 95.20h28.5v1.19h-28.5zM487.0 96.34h28.5v1.19h-28.5zM572.5 97.47h28.5v1.19h-28.5zM686.5 97.47h28.5v1.19h-28.5zM772.0 97.47h28.5v1.19h-28.5zM857.5 97.47h28.5v1.19h-28.5zM686.5 99.75h28.5v1.19h-28.5zM772.0 99.75h28.5v1.19h-28.5zM772.0 102.02h28.5v1.19h-28.5zM601.0 104.29h28.5v1.19h-28.5zM544.0 109.98h28.5v1.19h-28.5zM829.0 109.98h28.5v1.19h-28.5zM658.0 111.12h28.5v1.19h-28.5zM772.0 111.12h28.5v1.19h-28.5zM800.5 114.53h28.5v1.19h-28.5zM857.5 114.53h28.5v1.19h-28.5zM886.0 114.53h28.5v1.19h-28.5zM857.5 116.80h28.5v1.19h-28.5zM914.5 116.80h28.5v1.19h-28.5zM572.5 117.94h28.5v1.19h-28.5zM629.5 117.94h28.5v1.19h-28.5zM743.5 117.94h28.5v1.19h-28.5zM914.5 117.94h28.5v1.19h-28.5zM601.0 119.07h28.5v1.19h-28.5zM857.5 119.07h28.5v1.19h-28.5zM914.5 119.07h28.5v1.19h-28.5zM715.0 120.21h28.5v1.19h-28.5zM772.0 120.21h28.5v1.19h-28.5zM629.5 121.35h28.5v1.19h-28.5zM487.0 122.48h28.5v1.19h-28.5zM601.0 122.48h28.5v1.19h-28.5zM715.0 123.62h28.5v1.19h-28.5zM829.0 123.62h28.5v1.19h-28.5zM857.5 124.76h28.5v1.19h-28.5zM487.0 125.89h28.5v1.19h-28.5zM914.5 125.89h28.5v1.19h-28.5zM572.5 127.03h28.5v1.19h-28.5zM886.0 127.03h28.5v1.19h-28.5zM914.5 127.03h28.5v1.19h-28.5zM572.5 128.17h28.5v1.19h-28.5zM515.5 130.44h28.5v1.19h-28.5zM487.0 133.85h28.5v1.19h-28.5zM544.0 133.85h28.5v1.19h-28.5zM601.0 133.85h28.5v1.19h-28.5zM629.5 133.85h28.5v1.19h-28.5zM601.0 136.13h28.5v1.19h-28.5zM658.0 138.40h28.5v1.19h-28.5zM601.0 141.81h28.5v1.19h-28.5zM658.0 141.81h28.5v1.19h-28.5zM629.5 142.95h28.5v1.19h-28.5zM629.5 144.08h28.5v1.19h-28.5zM914.5 146.36h28.5v1.19h-28.5zM601.0 149.77h28.5v1.19h-28.5zM658.0 149.77h28.5v1.19h-28.5zM515.5 152.04h28.5v1.19h-28.5zM487.0 153.18h28.5v1.19h-28.5zM658.0 154.32h28.5v1.19h-28.5zM544.0 155.45h28.5v1.19h-28.5zM772.0 156.59h28.5v1.19h-28.5zM601.0 160.00h28.5v1.19h-28.5zM487.0 161.14h28.5v1.19h-28.5zM515.5 162.27h28.5v1.19h-28.5zM772.0 163.41h28.5v1.19h-28.5zM487.0 167.96h28.5v1.19h-28.5zM515.5 167.96h28.5v1.19h-28.5zM544.0 169.09h28.5v1.19h-28.5zM572.5 169.09h28.5v1.19h-28.5zM857.5 172.51h28.5v1.19h-28.5zM886.0 174.78h28.5v1.19h-28.5zM572.5 175.92h28.5v1.19h-28.5zM544.0 177.05h28.5v1.19h-28.5zM544.0 180.46h28.5v1.19h-28.5zM544.0 181.60h28.5v1.19h-28.5zM886.0 183.87h28.5v1.19h-28.5zM914.5 183.87h28.5v1.19h-28.5zM914.5 185.01h28.5v1.19h-28.5zM544.0 187.28h28.5v1.19h-28.5zM544.0 188.42h28.5v1.19h-28.5zM487.0 194.11h28.5v1.19h-28.5zM772.0 194.11h28.5v1.19h-28.5zM515.5 200.93h28.5v1.19h-28.5zM857.5 203.20h28.5v1.19h-28.5zM658.0 204.34h28.5v1.19h-28.5zM601.0 207.75h28.5v1.19h-28.5zM544.0 210.02h28.5v1.19h-28.5zM601.0 210.02h28.5v1.19h-28.5zM487.0 213.43h28.5v1.19h-28.5zM658.0 214.57h28.5v1.19h-28.5zM829.0 217.98h28.5v1.19h-28.5zM800.5 219.12h28.5v1.19h-28.5zM658.0 220.25h28.5v1.19h-28.5zM914.5 220.25h28.5v1.19h-28.5zM658.0 221.39h28.5v1.19h-28.5zM572.5 222.53h28.5v1.19h-28.5zM658.0 222.53h28.5v1.19h-28.5zM829.0 222.53h28.5v1.19h-28.5zM572.5 223.66h28.5v1.19h-28.5zM601.0 223.66h28.5v1.19h-28.5zM658.0 223.66h28.5v1.19h-28.5zM857.5 223.66h28.5v1.19h-28.5zM914.5 224.80h28.5v1.19h-28.5zM572.5 227.07h28.5v1.19h-28.5zM572.5 228.21h28.5v1.19h-28.5zM544.0 230.48h28.5v1.19h-28.5zM658.0 230.48h28.5v1.19h-28.5zM572.5 232.76h28.5v1.19h-28.5zM544.0 237.31h28.5v1.19h-28.5zM629.5 237.31h28.5v1.19h-28.5zM914.5 240.72h28.5v1.19h-28.5zM914.5 241.85h28.5v1.19h-28.5zM715.0 242.99h28.5v1.19h-28.5zM572.5 244.13h28.5v1.19h-28.5zM914.5 245.26h28.5v1.19h-28.5zM601.0 247.54h28.5v1.19h-28.5zM658.0 247.54h28.5v1.19h-28.5zM743.5 248.67h28.5v1.19h-28.5zM601.0 249.81h28.5v1.19h-28.5zM715.0 250.95h28.5v1.19h-28.5zM829.0 250.95h28.5v1.19h-28.5zM743.5 252.08h28.5v1.19h-28.5zM829.0 252.08h28.5v1.19h-28.5zM629.5 253.22h28.5v1.19h-28.5zM914.5 253.22h28.5v1.19h-28.5zM658.0 254.36h28.5v1.19h-28.5zM658.0 256.63h28.5v1.19h-28.5zM715.0 258.91h28.5v1.19h-28.5zM715.0 260.04h28.5v1.19h-28.5zM772.0 260.04h28.5v1.19h-28.5zM601.0 261.18h28.5v1.19h-28.5zM772.0 261.18h28.5v1.19h-28.5zM829.0 263.45h28.5v1.19h-28.5zM886.0 263.45h28.5v1.19h-28.5zM658.0 264.59h28.5v1.19h-28.5zM715.0 264.59h28.5v1.19h-28.5zM886.0 264.59h28.5v1.19h-28.5zM772.0 265.73h28.5v1.19h-28.5zM800.5 265.73h28.5v1.19h-28.5zM629.5 268.00h28.5v1.19h-28.5zM686.5 269.14h28.5v1.19h-28.5zM715.0 269.14h28.5v1.19h-28.5zM914.5 269.14h28.5v1.19h-28.5zM829.0 270.27h28.5v1.19h-28.5zM886.0 271.41h28.5v1.19h-28.5zM829.0 272.55h28.5v1.19h-28.5zM487.0 273.68h28.5v1.19h-28.5zM601.0 273.68h28.5v1.19h-28.5zM743.5 273.68h28.5v1.19h-28.5zM857.5 273.68h28.5v1.19h-28.5zM686.5 274.82h28.5v1.19h-28.5zM544.0 275.96h28.5v1.19h-28.5zM857.5 275.96h28.5v1.19h-28.5zM572.5 278.23h28.5v1.19h-28.5zM715.0 278.23h28.5v1.19h-28.5zM544.0 280.51h28.5v1.19h-28.5zM686.5 280.51h28.5v1.19h-28.5zM715.0 281.64h28.5v1.19h-28.5zM601.0 282.78h28.5v1.19h-28.5zM686.5 282.78h28.5v1.19h-28.5zM715.0 282.78h28.5v1.19h-28.5zM829.0 282.78h28.5v1.19h-28.5zM544.0 283.92h28.5v1.19h-28.5zM829.0 283.92h28.5v1.19h-28.5zM715.0 285.05h28.5v1.19h-28.5zM487.0 286.19h28.5v1.19h-28.5zM715.0 286.19h28.5v1.19h-28.5zM544.0 287.33h28.5v1.19h-28.5zM601.0 287.33h28.5v1.19h-28.5zM686.5 287.33h28.5v1.19h-28.5zM544.0 288.46h28.5v1.19h-28.5z" fill="#f8c8b6"/>
<path d="M487.0 95.20h28.5v1.19h-28.5zM772.0 95.20h28.5v1.19h-28.5zM886.0 95.20h28.5v1.19h-28.5zM800.5 96.34h28.5v1.19h-28.5zM886.0 96.34h28.5v1.19h-28.5zM487.0 97.47h28.5v1.19h-28.5zM800.5 97.47h28.5v1.19h-28.5zM572.5 98.61h28.5v1.19h-28.5zM772.0 98.61h28.5v1.19h-28.5zM800.5 98.61h28.5v1.19h-28.5zM487.0 99.75h28.5v1.19h-28.5zM572.5 99.75h28.5v1.19h-28.5zM886.0 99.75h28.5v1.19h-28.5zM487.0 100.88h28.5v1.19h-28.5zM715.0 100.88h28.5v1.19h-28.5zM914.5 100.88h28.5v1.19h-28.5zM487.0 102.02h28.5v1.19h-28.5zM658.0 102.02h28.5v1.19h-28.5zM829.0 102.02h28.5v1.19h-28.5zM886.0 102.02h28.5v1.19h-28.5zM572.5 103.16h28.5v1.19h-28.5zM686.5 103.16h28.5v1.19h-28.5zM772.0 103.16h28.5v1.19h-28.5zM572.5 104.29h28.5v1.19h-28.5zM715.0 104.29h28.5v1.19h-28.5zM886.0 104.29h28.5v1.19h-28.5zM829.0 105.43h28.5v1.19h-28.5zM857.5 105.43h28.5v1.19h-28.5zM886.0 105.43h28.5v1.19h-28.5zM487.0 107.71h28.5v1.19h-28.5zM487.0 109.98h28.5v1.19h-28.5zM544.0 111.12h28.5v1.19h-28.5zM715.0 111.12h28.5v1.19h-28.5zM601.0 112.25h28.5v1.19h-28.5zM658.0 112.25h28.5v1.19h-28.5zM772.0 112.25h28.5v1.19h-28.5zM487.0 113.39h28.5v1.19h-28.5zM515.5 114.53h28.5v1.19h-28.5zM743.5 114.53h28.5v1.19h-28.5zM914.5 115.66h28.5v1.19h-28.5zM629.5 116.80h28.5v1.19h-28.5zM658.0 116.80h28.5v1.19h-28.5zM544.0 119.07h28.5v1.19h-28.5zM544.0 120.21h28.5v1.19h-28.5zM914.5 120.21h28.5v1.19h-28.5zM487.0 121.35h28.5v1.19h-28.5zM544.0 121.35h28.5v1.19h-28.5zM829.0 121.35h28.5v1.19h-28.5zM829.0 122.48h28.5v1.19h-28.5zM629.5 124.76h28.5v1.19h-28.5zM743.5 124.76h28.5v1.19h-28.5zM914.5 124.76h28.5v1.19h-28.5zM544.0 125.89h28.5v1.19h-28.5zM601.0 128.17h28.5v1.19h-28.5zM686.5 128.17h28.5v1.19h-28.5zM914.5 128.17h28.5v1.19h-28.5zM601.0 129.31h28.5v1.19h-28.5zM487.0 132.72h28.5v1.19h-28.5zM572.5 132.72h28.5v1.19h-28.5zM658.0 132.72h28.5v1.19h-28.5zM572.5 133.85h28.5v1.19h-28.5zM487.0 134.99h28.5v1.19h-28.5zM487.0 136.13h28.5v1.19h-28.5zM715.0 136.13h28.5v1.19h-28.5zM743.5 137.26h28.5v1.19h-28.5zM515.5 139.54h28.5v1.19h-28.5zM544.0 139.54h28.5v1.19h-28.5zM629.5 139.54h28.5v1.19h-28.5zM715.0 139.54h28.5v1.19h-28.5zM743.5 139.54h28.5v1.19h-28.5zM544.0 140.67h28.5v1.19h-28.5zM601.0 140.67h28.5v1.19h-28.5zM515.5 142.95h28.5v1.19h-28.5zM601.0 142.95h28.5v1.19h-28.5zM544.0 146.36h28.5v1.19h-28.5zM743.5 146.36h28.5v1.19h-28.5zM601.0 147.49h28.5v1.19h-28.5zM629.5 147.49h28.5v1.19h-28.5zM487.0 149.77h28.5v1.19h-28.5zM487.0 150.91h28.5v1.19h-28.5zM515.5 153.18h28.5v1.19h-28.5zM601.0 154.32h28.5v1.19h-28.5zM487.0 156.59h28.5v1.19h-28.5zM544.0 158.86h28.5v1.19h-28.5zM601.0 158.86h28.5v1.19h-28.5zM572.5 160.00h28.5v1.19h-28.5zM515.5 161.14h28.5v1.19h-28.5zM601.0 162.27h28.5v1.19h-28.5zM658.0 162.27h28.5v1.19h-28.5zM544.0 163.41h28.5v1.19h-28.5zM487.0 165.68h28.5v1.19h-28.5zM487.0 169.09h28.5v1.19h-28.5zM487.0 171.37h28.5v1.19h-28.5zM544.0 172.51h28.5v1.19h-28.5zM572.5 173.64h28.5v1.19h-28.5zM658.0 174.78h28.5v1.19h-28.5zM857.5 178.19h28.5v1.19h-28.5zM544.0 183.87h28.5v1.19h-28.5zM601.0 183.87h28.5v1.19h-28.5zM544.0 191.83h28.5v1.19h-28.5zM857.5 191.83h28.5v1.19h-28.5zM686.5 192.97h28.5v1.19h-28.5zM800.5 192.97h28.5v1.19h-28.5zM658.0 194.11h28.5v1.19h-28.5zM487.0 197.52h28.5v1.19h-28.5zM544.0 197.52h28.5v1.19h-28.5zM544.0 203.20h28.5v1.19h-28.5zM686.5 203.20h28.5v1.19h-28.5zM544.0 206.61h28.5v1.19h-28.5zM857.5 206.61h28.5v1.19h-28.5zM487.0 207.75h28.5v1.19h-28.5zM658.0 207.75h28.5v1.19h-28.5zM544.0 208.88h28.5v1.19h-28.5zM686.5 210.02h28.5v1.19h-28.5zM658.0 211.16h28.5v1.19h-28.5zM658.0 212.29h28.5v1.19h-28.5zM857.5 212.29h28.5v1.19h-28.5zM515.5 214.57h28.5v1.19h-28.5zM487.0 215.71h28.5v1.19h-28.5zM601.0 215.71h28.5v1.19h-28.5zM601.0 216.84h28.5v1.19h-28.5zM857.5 216.84h28.5v1.19h-28.5zM544.0 217.98h28.5v1.19h-28.5zM572.5 221.39h28.5v1.19h-28.5zM886.0 221.39h28.5v1.19h-28.5zM629.5 223.66h28.5v1.19h-28.5zM857.5 224.80h28.5v1.19h-28.5zM572.5 229.35h28.5v1.19h-28.5zM601.0 230.48h28.5v1.19h-28.5zM886.0 231.62h28.5v1.19h-28.5zM601.0 233.89h28.5v1.19h-28.5zM601.0 237.31h28.5v1.19h-28.5zM601.0 240.72h28.5v1.19h-28.5zM572.5 241.85h28.5v1.19h-28.5zM886.0 242.99h28.5v1.19h-28.5zM658.0 244.13h28.5v1.19h-28.5zM857.5 244.13h28.5v1.19h-28.5zM886.0 244.13h28.5v1.19h-28.5zM601.0 245.26h28.5v1.19h-28.5zM572.5 247.54h28.5v1.19h-28.5zM629.5 247.54h28.5v1.19h-28.5zM544.0 249.81h28.5v1.19h-28.5zM857.5 249.81h28.5v1.19h-28.5zM800.5 250.95h28.5v1.19h-28.5zM629.5 254.36h28.5v1.19h-28.5zM601.0 255.49h28.5v1.19h-28.5zM886.0 256.63h28.5v1.19h-28.5zM914.5 256.63h28.5v1.19h-28.5zM572.5 257.77h28.5v1.19h-28.5zM572.5 258.91h28.5v1.19h-28.5zM686.5 258.91h28.5v1.19h-28.5zM629.5 260.04h28.5v1.19h-28.5zM686.5 260.04h28.5v1.19h-28.5zM914.5 260.04h28.5v1.19h-28.5zM487.0 261.18h28.5v1.19h-28.5zM629.5 261.18h28.5v1.19h-28.5zM601.0 262.32h28.5v1.19h-28.5zM715.0 262.32h28.5v1.19h-28.5zM544.0 263.45h28.5v1.19h-28.5zM572.5 264.59h28.5v1.19h-28.5zM601.0 264.59h28.5v1.19h-28.5zM914.5 265.73h28.5v1.19h-28.5zM772.0 266.86h28.5v1.19h-28.5zM572.5 268.00h28.5v1.19h-28.5zM829.0 268.00h28.5v1.19h-28.5zM544.0 270.27h28.5v1.19h-28.5zM914.5 270.27h28.5v1.19h-28.5zM829.0 271.41h28.5v1.19h-28.5zM914.5 271.41h28.5v1.19h-28.5zM743.5 272.55h28.5v1.19h-28.5zM886.0 272.55h28.5v1.19h-28.5zM629.5 273.68h28.5v1.19h-28.5zM800.5 274.82h28.5v1.19h-28.5zM715.0 275.96h28.5v1.19h-28.5zM772.0 275.96h28.5v1.19h-28.5zM886.0 275.96h28.5v1.19h-28.5zM572.5 277.09h28.5v1.19h-28.5zM715.0 277.09h28.5v1.19h-28.5zM772.0 277.09h28.5v1.19h-28.5zM886.0 277.09h28.5v1.19h-28.5zM487.0 278.23h28.5v1.19h-28.5zM829.0 279.37h28.5v1.19h-28.5zM829.0 280.51h28.5v1.19h-28.5zM544.0 281.64h28.5v1.19h-28.5zM743.5 281.64h28.5v1.19h-28.5zM886.0 282.78h28.5v1.19h-28.5zM914.5 282.78h28.5v1.19h-28.5zM629.5 283.92h28.5v1.19h-28.5zM800.5 283.92h28.5v1.19h-28.5zM886.0 283.92h28.5v1.19h-28.5zM914.5 283.92h28.5v1.19h-28.5zM544.0 285.05h28.5v1.19h-28.5zM772.0 285.05h28.5v1.19h-28.5zM572.5 286.19h28.5v1.19h-28.5zM743.5 286.19h28.5v1.19h-28.5zM743.5 287.33h28.5v1.19h-28.5zM800.5 287.33h28.5v1.19h-28.5z" fill="#f6b8a3"/>
<path d="M629.5 95.20h28.5v1.19h-28.5zM800.5 95.20h28.5v1.19h-28.5zM515.5 96.34h28.5v1.19h-28.5zM886.0 97.47h28.5v1.19h-28.5zM601.0 98.61h28.5v1.19h-28.5zM601.0 99.75h28.5v1.19h-28.5zM800.5 99.75h28.5v1.19h-28.5zM515.5 100.88h28.5v1.19h-28.5zM800.5 102.02h28.5v1.19h-28.5zM857.5 102.02h28.5v1.19h-28.5zM743.5 104.29h28.5v1.19h-28.5zM572.5 105.43h28.5v1.19h-28.5zM601.0 105.43h28.5v1.19h-28.5zM629.5 105.43h28.5v1.19h-28.5zM743.5 105.43h28.5v1.19h-28.5zM544.0 106.57h28.5v1.19h-28.5zM715.0 106.57h28.5v1.19h-28.5zM544.0 107.71h28.5v1.19h-28.5zM544.0 108.84h28.5v1.19h-28.5zM658.0 108.84h28.5v1.19h-28.5zM886.0 108.84h28.5v1.19h-28.5zM658.0 109.98h28.5v1.19h-28.5zM743.5 111.12h28.5v1.19h-28.5zM800.5 111.12h28.5v1.19h-28.5zM487.0 112.25h28.5v1.19h-28.5zM601.0 113.39h28.5v1.19h-28.5zM800.5 113.39h28.5v1.19h-28.5zM886.0 113.39h28.5v1.19h-28.5zM658.0 115.66h28.5v1.19h-28.5zM857.5 117.94h28.5v1.19h-28.5zM515.5 119.07h28.5v1.19h-28.5zM743.5 119.07h28.5v1.19h-28.5zM658.0 120.21h28.5v1.19h-28.5zM857.5 120.21h28.5v1.19h-28.5zM658.0 121.35h28.5v1.19h-28.5zM715.0 121.35h28.5v1.19h-28.5zM914.5 121.35h28.5v1.19h-28.5zM515.5 122.48h28.5v1.19h-28.5zM658.0 122.48h28.5v1.19h-28.5zM743.5 123.62h28.5v1.19h-28.5zM572.5 125.89h28.5v1.19h-28.5zM658.0 125.89h28.5v1.19h-28.5zM629.5 130.44h28.5v1.19h-28.5zM515.5 131.58h28.5v1.19h-28.5zM658.0 131.58h28.5v1.19h-28.5zM601.0 134.99h28.5v1.19h-28.5zM544.0 136.13h28.5v1.19h-28.5zM487.0 137.26h28.5v1.19h-28.5zM515.5 138.40h28.5v1.19h-28.5zM544.0 138.40h28.5v1.19h-28.5zM544.0 145.22h28.5v1.19h-28.5zM686.5 146.36h28.5v1.19h-28.5zM686.5 147.49h28.5v1.19h-28.5zM601.0 150.91h28.5v1.19h-28.5zM487.0 155.45h28.5v1.19h-28.5zM515.5 155.45h28.5v1.19h-28.5zM658.0 155.45h28.5v1.19h-28.5zM601.0 156.59h28.5v1.19h-28.5zM658.0 156.59h28.5v1.19h-28.5zM601.0 157.73h28.5v1.19h-28.5zM572.5 158.86h28.5v1.19h-28.5zM658.0 160.00h28.5v1.19h-28.5zM572.5 161.14h28.5v1.19h-28.5zM601.0 161.14h28.5v1.19h-28.5zM487.0 163.41h28.5v1.19h-28.5zM487.0 166.82h28.5v1.19h-28.5zM629.5 166.82h28.5v1.19h-28.5zM658.0 166.82h28.5v1.19h-28.5zM572.5 167.96h28.5v1.19h-28.5zM658.0 167.96h28.5v1.19h-28.5zM572.5 170.23h28.5v1.19h-28.5zM886.0 172.51h28.5v1.19h-28.5zM601.0 174.78h28.5v1.19h-28.5zM544.0 178.19h28.5v1.19h-28.5zM544.0 179.33h28.5v1.19h-28.5zM544.0 182.74h28.5v1.19h-28.5zM601.0 182.74h28.5v1.19h-28.5zM601.0 185.01h28.5v1.19h-28.5zM487.0 187.28h28.5v1.19h-28.5zM658.0 188.42h28.5v1.19h-28.5zM487.0 192.97h28.5v1.19h-28.5zM601.0 194.11h28.5v1.19h-28.5zM800.5 194.11h28.5v1.19h-28.5zM515.5 197.52h28.5v1.19h-28.5zM572.5 197.52h28.5v1.19h-28.5zM658.0 197.52h28.5v1.19h-28.5zM601.0 200.93h28.5v1.19h-28.5zM487.0 202.06h28.5v1.19h-28.5zM601.0 202.06h28.5v1.19h-28.5zM658.0 202.06h28.5v1.19h-28.5zM487.0 203.20h28.5v1.19h-28.5zM601.0 203.20h28.5v1.19h-28.5zM686.5 204.34h28.5v1.19h-28.5zM487.0 205.47h28.5v1.19h-28.5zM487.0 206.61h28.5v1.19h-28.5zM658.0 206.61h28.5v1.19h-28.5zM487.0 208.88h28.5v1.19h-28.5zM544.0 211.16h28.5v1.19h-28.5zM572.5 215.71h28.5v1.19h-28.5zM544.0 216.84h28.5v1.19h-28.5zM601.0 217.98h28.5v1.19h-28.5zM829.0 220.25h28.5v1.19h-28.5zM829.0 221.39h28.5v1.19h-28.5zM914.5 221.39h28.5v1.19h-28.5zM601.0 222.53h28.5v1.19h-28.5zM857.5 222.53h28.5v1.19h-28.5zM601.0 228.21h28.5v1.19h-28.5zM629.5 229.35h28.5v1.19h-28.5zM572.5 230.48h28.5v1.19h-28.5zM886.0 232.76h28.5v1.19h-28.5zM886.0 233.89h28.5v1.19h-28.5zM914.5 235.03h28.5v1.19h-28.5zM601.0 236.17h28.5v1.19h-28.5zM914.5 242.99h28.5v1.19h-28.5zM715.0 244.13h28.5v1.19h-28.5zM743.5 244.13h28.5v1.19h-28.5zM829.0 244.13h28.5v1.19h-28.5zM686.5 245.26h28.5v1.19h-28.5zM629.5 246.40h28.5v1.19h-28.5zM686.5 246.40h28.5v1.19h-28.5zM743.5 249.81h28.5v1.19h-28.5zM601.0 250.95h28.5v1.19h-28.5zM658.0 250.95h28.5v1.19h-28.5zM629.5 252.08h28.5v1.19h-28.5zM658.0 252.08h28.5v1.19h-28.5zM857.5 252.08h28.5v1.19h-28.5zM658.0 253.22h28.5v1.19h-28.5zM857.5 253.22h28.5v1.19h-28.5zM686.5 255.49h28.5v1.19h-28.5zM601.0 258.91h28.5v1.19h-28.5zM914.5 258.91h28.5v1.19h-28.5zM715.0 261.18h28.5v1.19h-28.5zM544.0 262.32h28.5v1.19h-28.5zM857.5 262.32h28.5v1.19h-28.5zM914.5 262.32h28.5v1.19h-28.5zM743.5 263.45h28.5v1.19h-28.5zM829.0 264.59h28.5v1.19h-28.5zM629.5 265.73h28.5v1.19h-28.5zM800.5 266.86h28.5v1.19h-28.5zM829.0 266.86h28.5v1.19h-28.5zM829.0 269.14h28.5v1.19h-28.5zM487.0 272.55h28.5v1.19h-28.5zM515.5 273.68h28.5v1.19h-28.5zM572.5 274.82h28.5v1.19h-28.5zM715.0 274.82h28.5v1.19h-28.5zM629.5 277.09h28.5v1.19h-28.5zM629.5 278.23h28.5v1.19h-28.5zM743.5 278.23h28.5v1.19h-28.5zM886.0 278.23h28.5v1.19h-28.5zM601.0 279.37h28.5v1.19h-28.5zM686.5 281.64h28.5v1.19h-28.5zM857.5 282.78h28.5v1.19h-28.5zM715.0 283.92h28.5v1.19h-28.5zM743.5 285.05h28.5v1.19h-28.5zM857.5 285.05h28.5v1.19h-28.5zM515.5 286.19h28.5v1.19h-28.5zM800.5 286.19h28.5v1.19h-28.5zM487.0 287.33h28.5v1.19h-28.5zM572.5 287.33h28.5v1.19h-28.5zM629.5 287.33h28.5v1.19h-28.5z" fill="#f5a890"/>
<path d="M601.0 96.34h28.5v1.19h-28.5zM601.0 97.47h28.5v1.19h-28.5zM515.5 102.02h28.5v1.19h-28.5zM715.0 102.02h28.5v1.19h-28.5zM515.5 103.16h28.5v1.19h-28.5zM800.5 103.16h28.5v1.19h-28.5zM629.5 104.29h28.5v1.19h-28.5zM715.0 105.43h28.5v1.19h-28.5zM914.5 105.43h28.5v1.19h-28.5zM601.0 106.57h28.5v1.19h-28.5zM743.5 106.57h28.5v1.19h-28.5zM914.5 107.71h28.5v1.19h-28.5zM857.5 109.98h28.5v1.19h-28.5zM544.0 112.25h28.5v1.19h-28.5zM715.0 112.25h28.5v1.19h-28.5zM544.0 113.39h28.5v1.19h-28.5zM629.5 113.39h28.5v1.19h-28.5zM658.0 113.39h28.5v1.19h-28.5zM715.0 113.39h28.5v1.19h-28.5zM629.5 114.53h28.5v1.19h-28.5zM658.0 117.94h28.5v1.19h-28.5zM515.5 120.21h28.5v1.19h-28.5zM800.5 120.21h28.5v1.19h-28.5zM544.0 123.62h28.5v1.19h-28.5zM601.0 123.62h28.5v1.19h-28.5zM658.0 123.62h28.5v1.19h-28.5zM857.5 123.62h28.5v1.19h-28.5zM886.0 123.62h28.5v1.19h-28.5zM658.0 124.76h28.5v1.19h-28.5zM629.5 128.17h28.5v1.19h-28.5zM515.5 132.72h28.5v1.19h-28.5zM515.5 133.85h28.5v1.19h-28.5zM629.5 134.99h28.5v1.19h-28.5zM572.5 136.13h28.5v1.19h-28.5zM544.0 137.26h28.5v1.19h-28.5zM629.5 137.26h28.5v1.19h-28.5zM658.0 137.26h28.5v1.19h-28.5zM544.0 141.81h28.5v1.19h-28.5zM487.0 144.08h28.5v1.19h-28.5zM686.5 144.08h28.5v1.19h-28.5zM487.0 145.22h28.5v1.19h-28.5zM515.5 145.22h28.5v1.19h-28.5zM686.5 145.22h28.5v1.19h-28.5zM487.0 146.36h28.5v1.19h-28.5zM487.0 147.49h28.5v1.19h-28.5zM544.0 147.49h28.5v1.19h-28.5zM487.0 148.63h28.5v1.19h-28.5zM601.0 148.63h28.5v1.19h-28.5zM629.5 149.77h28.5v1.19h-28.5zM629.5 152.04h28.5v1.19h-28.5zM515.5 154.32h28.5v1.19h-28.5zM629.5 154.32h28.5v1.19h-28.5zM487.0 157.73h28.5v1.19h-28.5zM686.5 157.73h28.5v1.19h-28.5zM658.0 161.14h28.5v1.19h-28.5zM515.5 163.41h28.5v1.19h-28.5zM515.5 165.68h28.5v1.19h-28.5zM544.0 165.68h28.5v1.19h-28.5zM572.5 166.82h28.5v1.19h-28.5zM629.5 167.96h28.5v1.19h-28.5zM515.5 169.09h28.5v1.19h-28.5zM572.5 171.37h28.5v1.19h-28.5zM487.0 172.51h28.5v1.19h-28.5zM601.0 173.64h28.5v1.19h-28.5zM886.0 173.64h28.5v1.19h-28.5zM515.5 187.28h28.5v1.19h-28.5zM487.0 188.42h28.5v1.19h-28.5zM601.0 188.42h28.5v1.19h-28.5zM658.0 190.69h28.5v1.19h-28.5zM601.0 192.97h28.5v1.19h-28.5zM515.5 194.11h28.5v1.19h-28.5zM515.5 198.65h28.5v1.19h-28.5zM515.5 199.79h28.5v1.19h-28.5zM658.0 199.79h28.5v1.19h-28.5zM572.5 200.93h28.5v1.19h-28.5zM658.0 200.93h28.5v1.19h-28.5zM686.5 205.47h28.5v1.19h-28.5zM515.5 207.75h28.5v1.19h-28.5zM629.5 208.88h28.5v1.19h-28.5zM487.0 210.02h28.5v1.19h-28.5zM487.0 211.16h28.5v1.19h-28.5zM601.0 211.16h28.5v1.19h-28.5zM857.5 211.16h28.5v1.19h-28.5zM572.5 212.29h28.5v1.19h-28.5zM686.5 214.57h28.5v1.19h-28.5zM658.0 215.71h28.5v1.19h-28.5zM601.0 219.12h28.5v1.19h-28.5zM629.5 219.12h28.5v1.19h-28.5zM658.0 219.12h28.5v1.19h-28.5zM487.0 220.25h28.5v1.19h-28.5zM686.5 222.53h28.5v1.19h-28.5zM487.0 223.66h28.5v1.19h-28.5zM686.5 223.66h28.5v1.19h-28.5zM572.5 225.94h28.5v1.19h-28.5zM601.0 227.07h28.5v1.19h-28.5zM487.0 229.35h28.5v1.19h-28.5zM686.5 229.35h28.5v1.19h-28.5zM686.5 230.48h28.5v1.19h-28.5zM601.0 231.62h28.5v1.19h-28.5zM601.0 235.03h28.5v1.19h-28.5zM658.0 242.99h28.5v1.19h-28.5zM829.0 242.99h28.5v1.19h-28.5zM857.5 242.99h28.5v1.19h-28.5zM487.0 244.13h28.5v1.19h-28.5zM914.5 244.13h28.5v1.19h-28.5zM487.0 246.40h28.5v1.19h-28.5zM686.5 247.54h28.5v1.19h-28.5zM658.0 249.81h28.5v1.19h-28.5zM715.0 249.81h28.5v1.19h-28.5zM914.5 249.81h28.5v1.19h-28.5zM572.5 250.95h28.5v1.19h-28.5zM743.5 250.95h28.5v1.19h-28.5zM857.5 250.95h28.5v1.19h-28.5zM572.5 252.08h28.5v1.19h-28.5zM601.0 252.08h28.5v1.19h-28.5zM686.5 254.36h28.5v1.19h-28.5zM629.5 255.49h28.5v1.19h-28.5zM601.0 256.63h28.5v1.19h-28.5zM601.0 257.77h28.5v1.19h-28.5zM629.5 258.91h28.5v1.19h-28.5zM743.5 262.32h28.5v1.19h-28.5zM601.0 263.45h28.5v1.19h-28.5zM914.5 264.59h28.5v1.19h-28.5zM715.0 265.73h28.5v1.19h-28.5zM829.0 265.73h28.5v1.19h-28.5zM487.0 266.86h28.5v1.19h-28.5zM601.0 269.14h28.5v1.19h-28.5zM686.5 270.27h28.5v1.19h-28.5zM857.5 271.41h28.5v1.19h-28.5zM629.5 272.55h28.5v1.19h-28.5zM886.0 273.68h28.5v1.19h-28.5zM743.5 274.82h28.5v1.19h-28.5zM800.5 275.96h28.5v1.19h-28.5zM743.5 277.09h28.5v1.19h-28.5zM800.5 277.09h28.5v1.19h-28.5zM914.5 277.09h28.5v1.19h-28.5zM829.0 278.23h28.5v1.19h-28.5zM800.5 279.37h28.5v1.19h-28.5zM886.0 280.51h28.5v1.19h-28.5zM886.0 281.64h28.5v1.19h-28.5zM629.5 285.05h28.5v1.19h-28.5zM800.5 285.05h28.5v1.19h-28.5zM601.0 288.46h28.5v1.19h-28.5z" fill="#f3987c"/>
<path d="M743.5 95.20h28.5v1.19h-28.5zM743.5 96.34h28.5v1.19h-28.5zM743.5 97.47h28.5v1.19h-28.5zM487.0 98.61h28.5v1.19h-28.5zM886.0 98.61h28.5v1.19h-28.5zM743.5 99.75h28.5v1.19h-28.5zM572.5 100.88h28.5v1.19h-28.5zM601.0 100.88h28.5v1.19h-28.5zM686.5 100.88h28.5v1.19h-28.5zM601.0 103.16h28.5v1.19h-28.5zM886.0 103.16h28.5v1.19h-28.5zM914.5 106.57h28.5v1.19h-28.5zM515.5 107.71h28.5v1.19h-28.5zM572.5 107.71h28.5v1.19h-28.5zM686.5 107.71h28.5v1.19h-28.5zM515.5 109.98h28.5v1.19h-28.5zM601.0 109.98h28.5v1.19h-28.5zM886.0 109.98h28.5v1.19h-28.5zM572.5 111.12h28.5v1.19h-28.5zM601.0 111.12h28.5v1.19h-28.5zM829.0 111.12h28.5v1.19h-28.5zM515.5 112.25h28.5v1.19h-28.5zM515.5 113.39h28.5v1.19h-28.5zM829.0 113.39h28.5v1.19h-28.5zM658.0 114.53h28.5v1.19h-28.5zM629.5 115.66h28.5v1.19h-28.5zM686.5 116.80h28.5v1.19h-28.5zM658.0 119.07h28.5v1.19h-28.5zM487.0 120.21h28.5v1.19h-28.5zM743.5 120.21h28.5v1.19h-28.5zM515.5 121.35h28.5v1.19h-28.5zM772.0 121.35h28.5v1.19h-28.5zM857.5 121.35h28.5v1.19h-28.5zM629.5 122.48h28.5v1.19h-28.5zM772.0 122.48h28.5v1.19h-28.5zM886.0 122.48h28.5v1.19h-28.5zM629.5 123.62h28.5v1.19h-28.5zM544.0 124.76h28.5v1.19h-28.5zM686.5 130.44h28.5v1.19h-28.5zM572.5 134.99h28.5v1.19h-28.5zM658.0 134.99h28.5v1.19h-28.5zM629.5 136.13h28.5v1.19h-28.5zM743.5 136.13h28.5v1.19h-28.5zM572.5 140.67h28.5v1.19h-28.5zM572.5 141.81h28.5v1.19h-28.5zM629.5 141.81h28.5v1.19h-28.5zM544.0 142.95h28.5v1.19h-28.5zM686.5 142.95h28.5v1.19h-28.5zM544.0 144.08h28.5v1.19h-28.5zM572.5 146.36h28.5v1.19h-28.5zM515.5 147.49h28.5v1.19h-28.5zM544.0 148.63h28.5v1.19h-28.5zM629.5 150.91h28.5v1.19h-28.5zM601.0 155.45h28.5v1.19h-28.5zM515.5 156.59h28.5v1.19h-28.5zM515.5 157.73h28.5v1.19h-28.5zM487.0 160.00h28.5v1.19h-28.5zM629.5 160.00h28.5v1.19h-28.5zM601.0 163.41h28.5v1.19h-28.5zM658.0 163.41h28.5v1.19h-28.5zM515.5 164.55h28.5v1.19h-28.5zM544.0 164.55h28.5v1.19h-28.5zM601.0 165.68h28.5v1.19h-28.5zM601.0 169.09h28.5v1.19h-28.5zM658.0 169.09h28.5v1.19h-28.5zM487.0 170.23h28.5v1.19h-28.5zM515.5 170.23h28.5v1.19h-28.5zM658.0 170.23h28.5v1.19h-28.5zM515.5 172.51h28.5v1.19h-28.5zM572.5 172.51h28.5v1.19h-28.5zM601.0 172.51h28.5v1.19h-28.5zM914.5 172.51h28.5v1.19h-28.5zM658.0 173.64h28.5v1.19h-28.5zM601.0 175.92h28.5v1.19h-28.5zM658.0 175.92h28.5v1.19h-28.5zM572.5 182.74h28.5v1.19h-28.5zM686.5 183.87h28.5v1.19h-28.5zM572.5 187.28h28.5v1.19h-28.5zM515.5 192.97h28.5v1.19h-28.5zM572.5 194.11h28.5v1.19h-28.5zM487.0 196.38h28.5v1.19h-28.5zM544.0 196.38h28.5v1.19h-28.5zM658.0 196.38h28.5v1.19h-28.5zM572.5 198.65h28.5v1.19h-28.5zM572.5 199.79h28.5v1.19h-28.5zM601.0 199.79h28.5v1.19h-28.5zM572.5 202.06h28.5v1.19h-28.5zM487.0 204.34h28.5v1.19h-28.5zM572.5 208.88h28.5v1.19h-28.5zM601.0 213.43h28.5v1.19h-28.5zM686.5 213.43h28.5v1.19h-28.5zM515.5 215.71h28.5v1.19h-28.5zM658.0 216.84h28.5v1.19h-28.5zM572.5 217.98h28.5v1.19h-28.5zM658.0 217.98h28.5v1.19h-28.5zM601.0 220.25h28.5v1.19h-28.5zM686.5 220.25h28.5v1.19h-28.5zM857.5 220.25h28.5v1.19h-28.5zM487.0 221.39h28.5v1.19h-28.5zM629.5 222.53h28.5v1.19h-28.5zM686.5 228.21h28.5v1.19h-28.5zM629.5 230.48h28.5v1.19h-28.5zM686.5 231.62h28.5v1.19h-28.5zM658.0 233.89h28.5v1.19h-28.5zM658.0 236.17h28.5v1.19h-28.5zM487.0 247.54h28.5v1.19h-28.5zM629.5 249.81h28.5v1.19h-28.5zM629.5 250.95h28.5v1.19h-28.5zM686.5 256.63h28.5v1.19h-28.5zM686.5 257.77h28.5v1.19h-28.5zM515.5 261.18h28.5v1.19h-28.5zM914.5 263.45h28.5v1.19h-28.5zM743.5 264.59h28.5v1.19h-28.5zM487.0 268.00h28.5v1.19h-28.5zM715.0 268.00h28.5v1.19h-28.5zM743.5 269.14h28.5v1.19h-28.5zM857.5 269.14h28.5v1.19h-28.5zM857.5 270.27h28.5v1.19h-28.5zM601.0 271.41h28.5v1.19h-28.5zM515.5 272.55h28.5v1.19h-28.5zM686.5 275.96h28.5v1.19h-28.5zM743.5 275.96h28.5v1.19h-28.5zM829.0 277.09h28.5v1.19h-28.5zM515.5 278.23h28.5v1.19h-28.5zM800.5 278.23h28.5v1.19h-28.5zM487.0 279.37h28.5v1.19h-28.5zM886.0 279.37h28.5v1.19h-28.5zM601.0 280.51h28.5v1.19h-28.5zM857.5 280.51h28.5v1.19h-28.5zM743.5 282.78h28.5v1.19h-28.5zM743.5 283.92h28.5v1.19h-28.5zM857.5 283.92h28.5v1.19h-28.5zM487.0 285.05h28.5v1.19h-28.5zM572.5 285.05h28.5v1.19h-28.5zM829.0 285.05h28.5v1.19h-28.5zM629.5 286.19h28.5v1.19h-28.5zM515.5 287.33h28.5v1.19h-28.5zM743.5 288.46h28.5v1.19h-28.5z" fill="#f1886c"/>
<path d="M743.5 98.61h28.5v1.19h-28.5zM515.5 99.75h28.5v1.19h-28.5zM743.5 102.02h28.5v1.19h-28.5zM914.5 102.02h28.5v1.19h-28.5zM715.0 103.16h28.5v1.19h-28.5zM743.5 103.16h28.5v1.19h-28.5zM829.0 103.16h28.5v1.19h-28.5zM829.0 104.29h28.5v1.19h-28.5zM914.5 104.29h28.5v1.19h-28.5zM572.5 108.84h28.5v1.19h-28.5zM572.5 109.98h28.5v1.19h-28.5zM629.5 112.25h28.5v1.19h-28.5zM743.5 112.25h28.5v1.19h-28.5zM800.5 112.25h28.5v1.19h-28.5zM886.0 112.25h28.5v1.19h-28.5zM572.5 114.53h28.5v1.19h-28.5zM914.5 114.53h28.5v1.19h-28.5zM572.5 120.21h28.5v1.19h-28.5zM743.5 121.35h28.5v1.19h-28.5zM544.0 122.48h28.5v1.19h-28.5zM743.5 122.48h28.5v1.19h-28.5zM857.5 122.48h28.5v1.19h-28.5zM487.0 123.62h28.5v1.19h-28.5zM487.0 124.76h28.5v1.19h-28.5zM515.5 125.89h28.5v1.19h-28.5zM515.5 134.99h28.5v1.19h-28.5zM515.5 136.13h28.5v1.19h-28.5zM629.5 140.67h28.5v1.19h-28.5zM515.5 144.08h28.5v1.19h-28.5zM515.5 146.36h28.5v1.19h-28.5zM572.5 147.49h28.5v1.19h-28.5zM686.5 148.63h28.5v1.19h-28.5zM544.0 149.77h28.5v1.19h-28.5zM515.5 150.91h28.5v1.19h-28.5zM601.0 153.18h28.5v1.19h-28.5zM629.5 153.18h28.5v1.19h-28.5zM544.0 154.32h28.5v1.19h-28.5zM629.5 155.45h28.5v1.19h-28.5zM544.0 157.73h28.5v1.19h-28.5zM487.0 158.86h28.5v1.19h-28.5zM629.5 158.86h28.5v1.19h-28.5zM629.5 161.14h28.5v1.19h-28.5zM686.5 161.14h28.5v1.19h-28.5zM629.5 162.27h28.5v1.19h-28.5zM686.5 162.27h28.5v1.19h-28.5zM487.0 164.55h28.5v1.19h-28.5zM601.0 164.55h28.5v1.19h-28.5zM629.5 165.68h28.5v1.19h-28.5zM658.0 165.68h28.5v1.19h-28.5zM515.5 166.82h28.5v1.19h-28.5zM515.5 171.37h28.5v1.19h-28.5zM601.0 171.37h28.5v1.19h-28.5zM686.5 174.78h28.5v1.19h-28.5zM572.5 177.05h28.5v1.19h-28.5zM601.0 177.05h28.5v1.19h-28.5zM572.5 178.19h28.5v1.19h-28.5zM572.5 180.46h28.5v1.19h-28.5zM601.0 180.46h28.5v1.19h-28.5zM544.0 186.15h28.5v1.19h-28.5zM601.0 186.15h28.5v1.19h-28.5zM601.0 187.28h28.5v1.19h-28.5zM658.0 187.28h28.5v1.19h-28.5zM544.0 189.56h28.5v1.19h-28.5zM658.0 189.56h28.5v1.19h-28.5zM544.0 190.69h28.5v1.19h-28.5zM601.0 190.69h28.5v1.19h-28.5zM572.5 192.97h28.5v1.19h-28.5zM544.0 195.24h28.5v1.19h-28.5zM658.0 195.24h28.5v1.19h-28.5zM515.5 202.06h28.5v1.19h-28.5zM686.5 202.06h28.5v1.19h-28.5zM544.0 205.47h28.5v1.19h-28.5zM515.5 206.61h28.5v1.19h-28.5zM572.5 206.61h28.5v1.19h-28.5zM686.5 208.88h28.5v1.19h-28.5zM572.5 210.02h28.5v1.19h-28.5zM629.5 210.02h28.5v1.19h-28.5zM686.5 211.16h28.5v1.19h-28.5zM601.0 212.29h28.5v1.19h-28.5zM686.5 212.29h28.5v1.19h-28.5zM515.5 213.43h28.5v1.19h-28.5zM601.0 214.57h28.5v1.19h-28.5zM629.5 217.98h28.5v1.19h-28.5zM487.0 219.12h28.5v1.19h-28.5zM686.5 219.12h28.5v1.19h-28.5zM857.5 219.12h28.5v1.19h-28.5zM601.0 221.39h28.5v1.19h-28.5zM857.5 221.39h28.5v1.19h-28.5zM572.5 224.80h28.5v1.19h-28.5zM601.0 224.80h28.5v1.19h-28.5zM629.5 227.07h28.5v1.19h-28.5zM487.0 228.21h28.5v1.19h-28.5zM629.5 228.21h28.5v1.19h-28.5zM572.5 231.62h28.5v1.19h-28.5zM658.0 231.62h28.5v1.19h-28.5zM601.0 232.76h28.5v1.19h-28.5zM658.0 232.76h28.5v1.19h-28.5zM658.0 235.03h28.5v1.19h-28.5zM658.0 237.31h28.5v1.19h-28.5zM658.0 238.44h28.5v1.19h-28.5zM658.0 239.58h28.5v1.19h-28.5zM629.5 240.72h28.5v1.19h-28.5zM658.0 241.85h28.5v1.19h-28.5zM601.0 244.13h28.5v1.19h-28.5zM629.5 245.26h28.5v1.19h-28.5zM515.5 246.40h28.5v1.19h-28.5zM515.5 247.54h28.5v1.19h-28.5zM686.5 249.81h28.5v1.19h-28.5zM487.0 260.04h28.5v1.19h-28.5zM515.5 260.04h28.5v1.19h-28.5zM572.5 260.04h28.5v1.19h-28.5zM572.5 261.18h28.5v1.19h-28.5zM686.5 263.45h28.5v1.19h-28.5zM629.5 264.59h28.5v1.19h-28.5zM686.5 264.59h28.5v1.19h-28.5zM487.0 265.73h28.5v1.19h-28.5zM715.0 266.86h28.5v1.19h-28.5zM857.5 268.00h28.5v1.19h-28.5zM629.5 269.14h28.5v1.19h-28.5zM572.5 271.41h28.5v1.19h-28.5zM857.5 272.55h28.5v1.19h-28.5zM914.5 272.55h28.5v1.19h-28.5zM886.0 274.82h28.5v1.19h-28.5zM572.5 275.96h28.5v1.19h-28.5zM629.5 275.96h28.5v1.19h-28.5zM487.0 277.09h28.5v1.19h-28.5zM914.5 278.23h28.5v1.19h-28.5zM857.5 279.37h28.5v1.19h-28.5zM857.5 281.64h28.5v1.19h-28.5zM914.5 281.64h28.5v1.19h-28.5zM572.5 282.78h28.5v1.19h-28.5zM886.0 285.05h28.5v1.19h-28.5zM886.0 287.33h28.5v1.19h-28.5z" fill="#ee795d"/>
<path d="M914.5 95.20h28.5v1.19h-28.5zM715.0 96.34h28.5v1.19h-28.5zM515.5 97.47h28.5v1.19h-28.5zM515.5 98.61h28.5v1.19h-28.5zM629.5 98.61h28.5v1.19h-28.5zM914.5 98.61h28.5v1.19h-28.5zM629.5 99.75h28.5v1.19h-28.5zM914.5 99.75h28.5v1.19h-28.5zM572.5 102.02h28.5v1.19h-28.5zM601.0 102.02h28.5v1.19h-28.5zM572.5 106.57h28.5v1.19h-28.5zM601.0 107.71h28.5v1.19h-28.5zM487.0 108.84h28.5v1.19h-28.5zM601.0 108.84h28.5v1.19h-28.5zM914.5 108.84h28.5v1.19h-28.5zM629.5 111.12h28.5v1.19h-28.5zM686.5 111.12h28.5v1.19h-28.5zM886.0 111.12h28.5v1.19h-28.5zM686.5 112.25h28.5v1.19h-28.5zM829.0 112.25h28.5v1.19h-28.5zM572.5 113.39h28.5v1.19h-28.5zM686.5 115.66h28.5v1.19h-28.5zM686.5 117.94h28.5v1.19h-28.5zM572.5 119.07h28.5v1.19h-28.5zM572.5 121.35h28.5v1.19h-28.5zM686.5 121.35h28.5v1.19h-28.5zM914.5 123.62h28.5v1.19h-28.5zM572.5 124.76h28.5v1.19h-28.5zM686.5 127.03h28.5v1.19h-28.5zM629.5 129.31h28.5v1.19h-28.5zM515.5 137.26h28.5v1.19h-28.5zM572.5 139.54h28.5v1.19h-28.5zM686.5 139.54h28.5v1.19h-28.5zM686.5 140.67h28.5v1.19h-28.5zM572.5 142.95h28.5v1.19h-28.5zM629.5 148.63h28.5v1.19h-28.5zM515.5 149.77h28.5v1.19h-28.5zM686.5 150.91h28.5v1.19h-28.5zM686.5 152.04h28.5v1.19h-28.5zM686.5 153.18h28.5v1.19h-28.5zM572.5 156.59h28.5v1.19h-28.5zM515.5 158.86h28.5v1.19h-28.5zM686.5 158.86h28.5v1.19h-28.5zM515.5 160.00h28.5v1.19h-28.5zM572.5 163.41h28.5v1.19h-28.5zM686.5 166.82h28.5v1.19h-28.5zM686.5 167.96h28.5v1.19h-28.5zM487.0 173.64h28.5v1.19h-28.5zM686.5 175.92h28.5v1.19h-28.5zM487.0 178.19h28.5v1.19h-28.5zM572.5 181.60h28.5v1.19h-28.5zM658.0 182.74h28.5v1.19h-28.5zM629.5 183.87h28.5v1.19h-28.5zM658.0 183.87h28.5v1.19h-28.5zM544.0 185.01h28.5v1.19h-28.5zM487.0 186.15h28.5v1.19h-28.5zM515.5 188.42h28.5v1.19h-28.5zM572.5 188.42h28.5v1.19h-28.5zM686.5 188.42h28.5v1.19h-28.5zM487.0 189.56h28.5v1.19h-28.5zM487.0 191.83h28.5v1.19h-28.5zM601.0 191.83h28.5v1.19h-28.5zM686.5 191.83h28.5v1.19h-28.5zM686.5 194.11h28.5v1.19h-28.5zM487.0 195.24h28.5v1.19h-28.5zM601.0 197.52h28.5v1.19h-28.5zM658.0 198.65h28.5v1.19h-28.5zM601.0 204.34h28.5v1.19h-28.5zM515.5 208.88h28.5v1.19h-28.5zM572.5 211.16h28.5v1.19h-28.5zM487.0 212.29h28.5v1.19h-28.5zM515.5 221.39h28.5v1.19h-28.5zM686.5 221.39h28.5v1.19h-28.5zM487.0 222.53h28.5v1.19h-28.5zM515.5 222.53h28.5v1.19h-28.5zM515.5 223.66h28.5v1.19h-28.5zM487.0 224.80h28.5v1.19h-28.5zM601.0 225.94h28.5v1.19h-28.5zM487.0 230.48h28.5v1.19h-28.5zM914.5 231.62h28.5v1.19h-28.5zM572.5 236.17h28.5v1.19h-28.5zM572.5 237.31h28.5v1.19h-28.5zM658.0 240.72h28.5v1.19h-28.5zM601.0 241.85h28.5v1.19h-28.5zM601.0 242.99h28.5v1.19h-28.5zM686.5 242.99h28.5v1.19h-28.5zM686.5 244.13h28.5v1.19h-28.5zM487.0 248.67h28.5v1.19h-28.5zM686.5 250.95h28.5v1.19h-28.5zM487.0 254.36h28.5v1.19h-28.5zM487.0 255.49h28.5v1.19h-28.5zM743.5 255.49h28.5v1.19h-28.5zM857.5 255.49h28.5v1.19h-28.5zM743.5 256.63h28.5v1.19h-28.5zM857.5 256.63h28.5v1.19h-28.5zM743.5 257.77h28.5v1.19h-28.5zM857.5 257.77h28.5v1.19h-28.5zM914.5 257.77h28.5v1.19h-28.5zM743.5 258.91h28.5v1.19h-28.5zM857.5 258.91h28.5v1.19h-28.5zM743.5 260.04h28.5v1.19h-28.5zM857.5 260.04h28.5v1.19h-28.5zM743.5 261.18h28.5v1.19h-28.5zM857.5 261.18h28.5v1.19h-28.5zM487.0 262.32h28.5v1.19h-28.5zM629.5 262.32h28.5v1.19h-28.5zM629.5 263.45h28.5v1.19h-28.5zM857.5 263.45h28.5v1.19h-28.5zM487.0 264.59h28.5v1.19h-28.5zM572.5 269.14h28.5v1.19h-28.5zM914.5 273.68h28.5v1.19h-28.5zM601.0 274.82h28.5v1.19h-28.5zM914.5 274.82h28.5v1.19h-28.5zM914.5 275.96h28.5v1.19h-28.5zM572.5 279.37h28.5v1.19h-28.5zM914.5 280.51h28.5v1.19h-28.5zM572.5 281.64h28.5v1.19h-28.5zM572.5 283.92h28.5v1.19h-28.5zM487.0 288.46h28.5v1.19h-28.5z" fill="#ec6a4e"/>
<path d="M629.5 96.34h28.5v1.19h-28.5zM914.5 97.47h28.5v1.19h-28.5zM686.5 102.02h28.5v1.19h-28.5zM629.5 103.16h28.5v1.19h-28.5zM857.5 104.29h28.5v1.19h-28.5zM572.5 112.25h28.5v1.19h-28.5zM743.5 113.39h28.5v1.19h-28.5zM857.5 113.39h28.5v1.19h-28.5zM914.5 113.39h28.5v1.19h-28.5zM572.5 122.48h28.5v1.19h-28.5zM800.5 122.48h28.5v1.19h-28.5zM686.5 131.58h28.5v1.19h-28.5zM686.5 133.85h28.5v1.19h-28.5zM658.0 136.13h28.5v1.19h-28.5zM572.5 145.22h28.5v1.19h-28.5zM515.5 148.63h28.5v1.19h-28.5zM686.5 149.77h28.5v1.19h-28.5zM544.0 150.91h28.5v1.19h-28.5zM544.0 152.04h28.5v1.19h-28.5zM544.0 153.18h28.5v1.19h-28.5zM629.5 156.59h28.5v1.19h-28.5zM572.5 157.73h28.5v1.19h-28.5zM629.5 157.73h28.5v1.19h-28.5zM629.5 163.41h28.5v1.19h-28.5zM572.5 165.68h28.5v1.19h-28.5zM629.5 169.09h28.5v1.19h-28.5zM686.5 169.09h28.5v1.19h-28.5zM601.0 170.23h28.5v1.19h-28.5zM658.0 171.37h28.5v1.19h-28.5zM914.5 173.64h28.5v1.19h-28.5zM629.5 175.92h28.5v1.19h-28.5zM487.0 177.05h28.5v1.19h-28.5zM658.0 177.05h28.5v1.19h-28.5zM572.5 179.33h28.5v1.19h-28.5zM601.0 179.33h28.5v1.19h-28.5zM601.0 181.60h28.5v1.19h-28.5zM658.0 181.60h28.5v1.19h-28.5zM487.0 182.74h28.5v1.19h-28.5zM686.5 182.74h28.5v1.19h-28.5zM487.0 183.87h28.5v1.19h-28.5zM487.0 185.01h28.5v1.19h-28.5zM686.5 187.28h28.5v1.19h-28.5zM601.0 189.56h28.5v1.19h-28.5zM572.5 191.83h28.5v1.19h-28.5zM515.5 203.20h28.5v1.19h-28.5zM629.5 203.20h28.5v1.19h-28.5zM515.5 205.47h28.5v1.19h-28.5zM601.0 206.61h28.5v1.19h-28.5zM686.5 206.61h28.5v1.19h-28.5zM629.5 207.75h28.5v1.19h-28.5zM629.5 216.84h28.5v1.19h-28.5zM515.5 220.25h28.5v1.19h-28.5zM629.5 224.80h28.5v1.19h-28.5zM658.0 224.80h28.5v1.19h-28.5zM629.5 225.94h28.5v1.19h-28.5zM658.0 227.07h28.5v1.19h-28.5zM515.5 229.35h28.5v1.19h-28.5zM515.5 230.48h28.5v1.19h-28.5zM629.5 232.76h28.5v1.19h-28.5zM629.5 233.89h28.5v1.19h-28.5zM629.5 235.03h28.5v1.19h-28.5zM487.0 239.58h28.5v1.19h-28.5zM487.0 242.99h28.5v1.19h-28.5zM515.5 242.99h28.5v1.19h-28.5zM515.5 244.13h28.5v1.19h-28.5zM686.5 253.22h28.5v1.19h-28.5zM487.0 256.63h28.5v1.19h-28.5zM629.5 257.77h28.5v1.19h-28.5zM487.0 258.91h28.5v1.19h-28.5zM857.5 264.59h28.5v1.19h-28.5zM857.5 266.86h28.5v1.19h-28.5zM572.5 270.27h28.5v1.19h-28.5zM601.0 270.27h28.5v1.19h-28.5zM629.5 274.82h28.5v1.19h-28.5zM515.5 277.09h28.5v1.19h-28.5zM914.5 279.37h28.5v1.19h-28.5zM601.0 281.64h28.5v1.19h-28.5zM487.0 282.78h28.5v1.19h-28.5zM629.5 282.78h28.5v1.19h-28.5zM487.0 283.92h28.5v1.19h-28.5zM515.5 285.05h28.5v1.19h-28.5zM886.0 286.19h28.5v1.19h-28.5zM572.5 288.46h28.5v1.19h-28.5zM886.0 288.46h28.5v1.19h-28.5z" fill="#ea5a3e"/>
<path d="M914.5 96.34h28.5v1.19h-28.5zM715.0 97.47h28.5v1.19h-28.5zM715.0 98.61h28.5v1.19h-28.5zM715.0 99.75h28.5v1.19h-28.5zM857.5 103.16h28.5v1.19h-28.5zM914.5 103.16h28.5v1.19h-28.5zM515.5 108.84h28.5v1.19h-28.5zM686.5 108.84h28.5v1.19h-28.5zM686.5 119.07h28.5v1.19h-28.5zM686.5 122.48h28.5v1.19h-28.5zM572.5 123.62h28.5v1.19h-28.5zM515.5 124.76h28.5v1.19h-28.5zM572.5 137.26h28.5v1.19h-28.5zM572.5 138.40h28.5v1.19h-28.5zM572.5 155.45h28.5v1.19h-28.5zM686.5 156.59h28.5v1.19h-28.5zM686.5 170.23h28.5v1.19h-28.5zM515.5 173.64h28.5v1.19h-28.5zM487.0 174.78h28.5v1.19h-28.5zM629.5 182.74h28.5v1.19h-28.5zM572.5 183.87h28.5v1.19h-28.5zM658.0 185.01h28.5v1.19h-28.5zM629.5 188.42h28.5v1.19h-28.5zM487.0 190.69h28.5v1.19h-28.5zM686.5 190.69h28.5v1.19h-28.5zM515.5 195.24h28.5v1.19h-28.5zM601.0 198.65h28.5v1.19h-28.5zM686.5 200.93h28.5v1.19h-28.5zM544.0 204.34h28.5v1.19h-28.5zM601.0 205.47h28.5v1.19h-28.5zM686.5 207.75h28.5v1.19h-28.5zM515.5 211.16h28.5v1.19h-28.5zM629.5 211.16h28.5v1.19h-28.5zM629.5 212.29h28.5v1.19h-28.5zM629.5 215.71h28.5v1.19h-28.5zM686.5 215.71h28.5v1.19h-28.5zM487.0 216.84h28.5v1.19h-28.5zM857.5 217.98h28.5v1.19h-28.5zM629.5 220.25h28.5v1.19h-28.5zM515.5 228.21h28.5v1.19h-28.5zM686.5 232.76h28.5v1.19h-28.5zM914.5 233.89h28.5v1.19h-28.5zM487.0 238.44h28.5v1.19h-28.5zM629.5 241.85h28.5v1.19h-28.5zM629.5 244.13h28.5v1.19h-28.5zM572.5 248.67h28.5v1.19h-28.5zM686.5 248.67h28.5v1.19h-28.5zM572.5 249.81h28.5v1.19h-28.5zM487.0 250.95h28.5v1.19h-28.5zM515.5 255.49h28.5v1.19h-28.5zM629.5 256.63h28.5v1.19h-28.5zM487.0 263.45h28.5v1.19h-28.5zM572.5 263.45h28.5v1.19h-28.5zM515.5 265.73h28.5v1.19h-28.5zM743.5 265.73h28.5v1.19h-28.5zM857.5 265.73h28.5v1.19h-28.5zM487.0 271.41h28.5v1.19h-28.5zM487.0 274.82h28.5v1.19h-28.5zM572.5 280.51h28.5v1.19h-28.5zM487.0 281.64h28.5v1.19h-28.5zM629.5 288.46h28.5v1.19h-28.5z" fill="#e84e36"/>
<path d="M715.0 95.20h28.5v1.19h-28.5zM629.5 97.47h28.5v1.19h-28.5zM829.0 99.75h28.5v1.19h-28.5zM629.5 100.88h28.5v1.19h-28.5zM629.5 109.98h28.5v1.19h-28.5zM686.5 109.98h28.5v1.19h-28.5zM914.5 109.98h28.5v1.19h-28.5zM857.5 112.25h28.5v1.19h-28.5zM914.5 112.25h28.5v1.19h-28.5zM800.5 121.35h28.5v1.19h-28.5zM515.5 123.62h28.5v1.19h-28.5zM686.5 123.62h28.5v1.19h-28.5zM686.5 132.72h28.5v1.19h-28.5zM686.5 138.40h28.5v1.19h-28.5zM686.5 141.81h28.5v1.19h-28.5zM572.5 148.63h28.5v1.19h-28.5zM572.5 149.77h28.5v1.19h-28.5zM658.0 164.55h28.5v1.19h-28.5zM629.5 170.23h28.5v1.19h-28.5zM686.5 171.37h28.5v1.19h-28.5zM686.5 173.64h28.5v1.19h-28.5zM629.5 174.78h28.5v1.19h-28.5zM515.5 178.19h28.5v1.19h-28.5zM487.0 179.33h28.5v1.19h-28.5zM686.5 181.60h28.5v1.19h-28.5zM629.5 192.97h28.5v1.19h-28.5zM601.0 195.24h28.5v1.19h-28.5zM515.5 196.38h28.5v1.19h-28.5zM601.0 196.38h28.5v1.19h-28.5zM686.5 196.38h28.5v1.19h-28.5zM686.5 197.52h28.5v1.19h-28.5zM629.5 200.93h28.5v1.19h-28.5zM629.5 202.06h28.5v1.19h-28.5zM572.5 203.20h28.5v1.19h-28.5zM515.5 204.34h28.5v1.19h-28.5zM515.5 210.02h28.5v1.19h-28.5zM629.5 213.43h28.5v1.19h-28.5zM572.5 216.84h28.5v1.19h-28.5zM629.5 231.62h28.5v1.19h-28.5zM487.0 233.89h28.5v1.19h-28.5zM686.5 233.89h28.5v1.19h-28.5zM487.0 236.17h28.5v1.19h-28.5zM629.5 236.17h28.5v1.19h-28.5zM487.0 252.08h28.5v1.19h-28.5zM686.5 252.08h28.5v1.19h-28.5zM487.0 257.77h28.5v1.19h-28.5zM515.5 262.32h28.5v1.19h-28.5zM572.5 262.32h28.5v1.19h-28.5zM515.5 264.59h28.5v1.19h-28.5zM515.5 266.86h28.5v1.19h-28.5zM629.5 271.41h28.5v1.19h-28.5zM857.5 278.23h28.5v1.19h-28.5zM515.5 279.37h28.5v1.19h-28.5zM629.5 279.37h28.5v1.19h-28.5zM487.0 280.51h28.5v1.19h-28.5zM914.5 285.05h28.5v1.19h-28.5zM914.5 287.33h28.5v1.19h-28.5z" fill="#e6412d"/>
<path d="M829.0 98.61h28.5v1.19h-28.5zM629.5 106.57h28.5v1.19h-28.5zM629.5 108.84h28.5v1.19h-28.5zM857.5 111.12h28.5v1.19h-28.5zM914.5 111.12h28.5v1.19h-28.5zM686.5 113.39h28.5v1.19h-28.5zM686.5 114.53h28.5v1.19h-28.5zM686.5 120.21h28.5v1.19h-28.5zM914.5 122.48h28.5v1.19h-28.5zM686.5 124.76h28.5v1.19h-28.5zM686.5 125.89h28.5v1.19h-28.5zM686.5 154.32h28.5v1.19h-28.5zM572.5 164.55h28.5v1.19h-28.5zM629.5 164.55h28.5v1.19h-28.5zM686.5 165.68h28.5v1.19h-28.5zM629.5 171.37h28.5v1.19h-28.5zM601.0 178.19h28.5v1.19h-28.5zM487.0 180.46h28.5v1.19h-28.5zM487.0 181.60h28.5v1.19h-28.5zM629.5 181.60h28.5v1.19h-28.5zM515.5 183.87h28.5v1.19h-28.5zM515.5 185.01h28.5v1.19h-28.5zM629.5 185.01h28.5v1.19h-28.5zM515.5 186.15h28.5v1.19h-28.5zM572.5 186.15h28.5v1.19h-28.5zM629.5 186.15h28.5v1.19h-28.5zM629.5 187.28h28.5v1.19h-28.5zM515.5 191.83h28.5v1.19h-28.5zM572.5 196.38h28.5v1.19h-28.5zM686.5 198.65h28.5v1.19h-28.5zM686.5 199.79h28.5v1.19h-28.5zM629.5 204.34h28.5v1.19h-28.5zM515.5 212.29h28.5v1.19h-28.5zM629.5 214.57h28.5v1.19h-28.5zM487.0 217.98h28.5v1.19h-28.5zM686.5 217.98h28.5v1.19h-28.5zM658.0 225.94h28.5v1.19h-28.5zM686.5 227.07h28.5v1.19h-28.5zM914.5 232.76h28.5v1.19h-28.5zM686.5 235.03h28.5v1.19h-28.5zM686.5 236.17h28.5v1.19h-28.5zM487.0 237.31h28.5v1.19h-28.5zM686.5 237.31h28.5v1.19h-28.5zM686.5 238.44h28.5v1.19h-28.5zM686.5 240.72h28.5v1.19h-28.5zM487.0 241.85h28.5v1.19h-28.5zM686.5 241.85h28.5v1.19h-28.5zM515.5 254.36h28.5v1.19h-28.5zM515.5 256.63h28.5v1.19h-28.5zM515.5 263.45h28.5v1.19h-28.5zM515.5 268.00h28.5v1.19h-28.5zM743.5 268.00h28.5v1.19h-28.5zM857.5 277.09h28.5v1.19h-28.5zM515.5 288.46h28.5v1.19h-28.5z" fill="#e43424"/>
<path d="M829.0 95.20h28.5v1.19h-28.5zM829.0 96.34h28.5v1.19h-28.5zM829.0 97.47h28.5v1.19h-28.5zM629.5 102.02h28.5v1.19h-28.5zM629.5 107.71h28.5v1.19h-28.5zM686.5 134.99h28.5v1.19h-28.5zM686.5 136.13h28.5v1.19h-28.5zM686.5 137.26h28.5v1.19h-28.5zM572.5 144.08h28.5v1.19h-28.5zM572.5 150.91h28.5v1.19h-28.5zM572.5 152.04h28.5v1.19h-28.5zM572.5 153.18h28.5v1.19h-28.5zM572.5 154.32h28.5v1.19h-28.5zM686.5 155.45h28.5v1.19h-28.5zM686.5 160.00h28.5v1.19h-28.5zM686.5 163.41h28.5v1.19h-28.5zM686.5 164.55h28.5v1.19h-28.5zM629.5 172.51h28.5v1.19h-28.5zM629.5 173.64h28.5v1.19h-28.5zM515.5 174.78h28.5v1.19h-28.5zM487.0 175.92h28.5v1.19h-28.5zM515.5 175.92h28.5v1.19h-28.5zM515.5 177.05h28.5v1.19h-28.5zM629.5 177.05h28.5v1.19h-28.5zM686.5 177.05h28.5v1.19h-28.5zM629.5 178.19h28.5v1.19h-28.5zM658.0 178.19h28.5v1.19h-28.5zM686.5 178.19h28.5v1.19h-28.5zM515.5 179.33h28.5v1.19h-28.5zM629.5 179.33h28.5v1.19h-28.5zM658.0 179.33h28.5v1.19h-28.5zM686.5 179.33h28.5v1.19h-28.5zM515.5 180.46h28.5v1.19h-28.5zM629.5 180.46h28.5v1.19h-28.5zM658.0 180.46h28.5v1.19h-28.5zM686.5 180.46h28.5v1.19h-28.5zM515.5 181.60h28.5v1.19h-28.5zM515.5 182.74h28.5v1.19h-28.5zM572.5 185.01h28.5v1.19h-28.5zM686.5 185.01h28.5v1.19h-28.5zM658.0 186.15h28.5v1.19h-28.5zM686.5 186.15h28.5v1.19h-28.5zM515.5 189.56h28.5v1.19h-28.5zM572.5 189.56h28.5v1.19h-28.5zM629.5 189.56h28.5v1.19h-28.5zM686.5 189.56h28.5v1.19h-28.5zM515.5 190.69h28.5v1.19h-28.5zM572.5 190.69h28.5v1.19h-28.5zM629.5 190.69h28.5v1.19h-28.5zM629.5 191.83h28.5v1.19h-28.5zM629.5 194.11h28.5v1.19h-28.5zM572.5 195.24h28.5v1.19h-28.5zM629.5 195.24h28.5v1.19h-28.5zM686.5 195.24h28.5v1.19h-28.5zM629.5 196.38h28.5v1.19h-28.5zM629.5 197.52h28.5v1.19h-28.5zM629.5 198.65h28.5v1.19h-28.5zM629.5 199.79h28.5v1.19h-28.5zM572.5 204.34h28.5v1.19h-28.5zM572.5 205.47h28.5v1.19h-28.5zM629.5 205.47h28.5v1.19h-28.5zM629.5 206.61h28.5v1.19h-28.5zM515.5 216.84h28.5v1.19h-28.5zM686.5 216.84h28.5v1.19h-28.5zM515.5 217.98h28.5v1.19h-28.5zM515.5 219.12h28.5v1.19h-28.5zM629.5 221.39h28.5v1.19h-28.5zM515.5 224.80h28.5v1.19h-28.5zM686.5 224.80h28.5v1.19h-28.5zM686.5 225.94h28.5v1.19h-28.5zM487.0 231.62h28.5v1.19h-28.5zM515.5 231.62h28.5v1.19h-28.5zM487.0 232.76h28.5v1.19h-28.5zM515.5 232.76h28.5v1.19h-28.5zM515.5 233.89h28.5v1.19h-28.5zM487.0 235.03h28.5v1.19h-28.5zM515.5 235.03h28.5v1.19h-28.5zM515.5 236.17h28.5v1.19h-28.5zM515.5 237.31h28.5v1.19h-28.5zM515.5 238.44h28.5v1.19h-28.5zM515.5 239.58h28.5v1.19h-28.5zM686.5 239.58h28.5v1.19h-28.5zM487.0 240.72h28.5v1.19h-28.5zM515.5 240.72h28.5v1.19h-28.5zM515.5 241.85h28.5v1.19h-28.5zM629.5 242.99h28.5v1.19h-28.5zM515.5 248.67h28.5v1.19h-28.5zM487.0 249.81h28.5v1.19h-28.5zM515.5 249.81h28.5v1.19h-28.5zM515.5 250.95h28.5v1.19h-28.5zM515.5 252.08h28.5v1.19h-28.5zM487.0 253.22h28.5v1.19h-28.5zM515.5 253.22h28.5v1.19h-28.5zM515.5 257.77h28.5v1.19h-28.5zM515.5 258.91h28.5v1.19h-28.5zM743.5 266.86h28.5v1.19h-28.5zM487.0 269.14h28.5v1.19h-28.5zM515.5 269.14h28.5v1.19h-28.5zM487.0 270.27h28.5v1.19h-28.5zM515.5 270.27h28.5v1.19h-28.5zM629.5 270.27h28.5v1.19h-28.5zM515.5 271.41h28.5v1.19h-28.5zM515.5 274.82h28.5v1.19h-28.5zM487.0 275.96h28.5v1.19h-28.5zM515.5 275.96h28.5v1.19h-28.5zM515.5 280.51h28.5v1.19h-28.5zM629.5 280.51h28.5v1.19h-28.5zM515.5 281.64h28.5v1.19h-28.5zM629.5 281.64h28.5v1.19h-28.5zM515.5 282.78h28.5v1.19h-28.5zM515.5 283.92h28.5v1.19h-28.5zM914.5 286.19h28.5v1.19h-28.5zM914.5 288.46h28.5v1.19h-28.5z" fill="#e2281c"/>
</g>
<rect x="486.7" y="94.9" width="456.6" height="195" fill="none" stroke="#111" stroke-width="2.1"/>
<line x1="715.3" y1="95.2" x2="715.3" y2="289.6" stroke="#1a1a1a" stroke-width="1.3"/>
<line x1="501.25" y1="289.6" x2="501.25" y2="291.8" stroke="#1a1a1a" stroke-width="1"/>
<line x1="529.75" y1="289.6" x2="529.75" y2="291.8" stroke="#1a1a1a" stroke-width="1"/>
<line x1="558.25" y1="289.6" x2="558.25" y2="291.8" stroke="#1a1a1a" stroke-width="1"/>
<line x1="586.75" y1="289.6" x2="586.75" y2="291.8" stroke="#1a1a1a" stroke-width="1"/>
<line x1="615.25" y1="289.6" x2="615.25" y2="291.8" stroke="#1a1a1a" stroke-width="1"/>
<line x1="643.75" y1="289.6" x2="643.75" y2="291.8" stroke="#1a1a1a" stroke-width="1"/>
<line x1="672.25" y1="289.6" x2="672.25" y2="291.8" stroke="#1a1a1a" stroke-width="1"/>
<line x1="700.75" y1="289.6" x2="700.75" y2="291.8" stroke="#1a1a1a" stroke-width="1"/>
<line x1="729.25" y1="289.6" x2="729.25" y2="291.8" stroke="#1a1a1a" stroke-width="1"/>
<line x1="757.75" y1="289.6" x2="757.75" y2="291.8" stroke="#1a1a1a" stroke-width="1"/>
<line x1="786.25" y1="289.6" x2="786.25" y2="291.8" stroke="#1a1a1a" stroke-width="1"/>
<line x1="814.75" y1="289.6" x2="814.75" y2="291.8" stroke="#1a1a1a" stroke-width="1"/>
<line x1="843.25" y1="289.6" x2="843.25" y2="291.8" stroke="#1a1a1a" stroke-width="1"/>
<line x1="871.75" y1="289.6" x2="871.75" y2="291.8" stroke="#1a1a1a" stroke-width="1"/>
<line x1="900.25" y1="289.6" x2="900.25" y2="291.8" stroke="#1a1a1a" stroke-width="1"/>
<line x1="928.75" y1="289.6" x2="928.75" y2="291.8" stroke="#1a1a1a" stroke-width="1"/>
<defs><linearGradient id="cb" x1="0" x2="1" y1="0" y2="0"><stop offset="0" stop-color="#e2281c"/><stop offset="0.325" stop-color="#e2281c"/><stop offset="0.37" stop-color="#e8563f"/><stop offset="0.42" stop-color="#f2a088"/><stop offset="0.46" stop-color="#fadcd0"/><stop offset="0.5" stop-color="#ffffff"/><stop offset="0.535" stop-color="#e4dcee"/><stop offset="0.585" stop-color="#aa9ed2"/><stop offset="0.63" stop-color="#5f56a6"/><stop offset="0.675" stop-color="#27499a"/><stop offset="1" stop-color="#27499a"/></linearGradient></defs>
<rect x="486.7" y="294.9" width="456.6" height="13.3" fill="url(#cb)" stroke="#111" stroke-width="1.9"/>
<line x1="563.6" y1="308.5" x2="563.6" y2="314.8" stroke="#1a1a1a" stroke-width="1.6"/>
<text x="565.6" y="329.9" font-size="16.5" fill="#1a1a1a" text-anchor="middle">-2</text>
<line x1="715.6" y1="308.5" x2="715.6" y2="314.8" stroke="#1a1a1a" stroke-width="1.6"/>
<text x="715.9" y="329.9" font-size="16.5" fill="#1a1a1a" text-anchor="middle">0</text>
<line x1="867.6" y1="308.5" x2="867.6" y2="314.8" stroke="#1a1a1a" stroke-width="1.6"/>
<text x="867.9" y="329.9" font-size="16.5" fill="#1a1a1a" text-anchor="middle">2</text>
<path d="M950.5 97.4H955.9V98.5H950.5M950.5 96.3H957.2V98.0H955.9M950.5 100.8H956.0V101.9H950.5M950.5 99.7H956.6V101.4H956.0M957.2 97.1H973.4V100.5H956.6M950.5 103.1H954.8V104.2H950.5M954.8 103.6H956.0V105.3H950.5M950.5 106.5H956.5V107.6H950.5M956.0 104.5H958.3V107.0H956.5M950.5 108.7H956.2V109.8H950.5M950.5 112.1H954.7V113.2H950.5M954.7 112.7H956.4V114.4H950.5M950.5 111.0H957.8V113.5H956.4M950.5 116.6H955.0V117.8H950.5M950.5 115.5H956.8V117.2H955.0M957.8 112.2H959.5V116.4H956.8M956.2 109.3H961.4V114.3H959.5M958.3 105.7H979.5V111.8H961.4M973.4 98.8H987.9V108.8H979.5M950.5 118.9H955.9V120.0H950.5M950.5 121.2H955.4V122.3H950.5M955.9 119.5H957.3V121.7H955.4M950.5 124.6H956.1V125.7H950.5M956.1 125.1H956.5V126.8H950.5M950.5 123.4H958.4V126.0H956.5M950.5 128.0H953.3V129.1H950.5M950.5 131.3H952.3V132.5H950.5M950.5 130.2H953.0V131.9H952.3M953.3 128.5H953.6V131.1H953.0M953.6 129.8H954.9V133.6H950.5M954.9 131.7H956.6V134.7H950.5M956.6 133.2H958.5V135.9H950.5M950.5 138.1H955.9V139.3H950.5M950.5 137.0H957.2V138.7H955.9M958.5 134.5H960.3V137.9H957.2M958.4 124.7H962.2V136.2H960.3M950.5 141.5H956.0V142.7H950.5M950.5 140.4H958.1V142.1H956.0M950.5 146.1H953.7V147.2H950.5M950.5 144.9H955.1V146.6H953.7M950.5 143.8H956.5V145.8H955.1M956.5 144.8H957.8V148.3H950.5M958.1 141.2H961.1V146.6H957.8M962.2 130.4H967.5V143.9H961.1M957.3 120.6H977.8V137.2H967.5M950.5 150.6H955.5V151.7H950.5M955.5 151.1H955.9V152.8H950.5M950.5 149.4H958.2V152.0H955.9M950.5 154.0H955.4V155.1H950.5M950.5 156.2H954.7V157.4H950.5M955.4 154.5H955.8V156.8H954.7M950.5 158.5H957.0V159.6H950.5M955.8 155.7H957.9V159.1H957.0M957.9 157.4H959.2V160.8H950.5M950.5 161.9H956.6V163.0H950.5M959.2 159.1H960.1V162.5H956.6M958.2 150.7H964.1V160.8H960.1M950.5 166.4H955.8V167.6H950.5M950.5 165.3H957.5V167.0H955.8M950.5 170.9H954.8V172.1H950.5M950.5 169.8H955.4V171.5H954.8M950.5 168.7H956.1V170.7H955.4M950.5 173.2H955.1V174.3H950.5M956.1 169.7H957.1V173.8H955.1M957.5 166.1H960.2V171.7H957.1M950.5 164.2H962.3V168.9H960.2M950.5 175.5H956.4V176.6H950.5M956.4 176.0H957.7V177.7H950.5M950.5 178.9H956.4V180.0H950.5M957.7 176.9H959.5V179.4H956.4M950.5 181.1H956.2V182.3H950.5M959.5 178.2H961.0V181.7H956.2M962.3 166.5H965.9V179.9H961.0M964.1 155.7H976.0V173.2H965.9M950.5 183.4H954.4V184.5H950.5M950.5 185.7H953.8V186.8H950.5M953.8 186.2H954.9V187.9H950.5M954.4 184.0H956.1V187.1H954.9M950.5 191.3H953.5V192.4H950.5M953.5 191.9H953.7V193.6H950.5M950.5 190.2H954.9V192.7H953.7M950.5 189.1H956.4V191.5H954.9M956.1 185.5H958.1V190.3H956.4M958.1 187.9H961.1V194.7H950.5M950.5 195.8H952.6V197.0H950.5M952.6 196.4H952.9V198.1H950.5M952.9 197.3H953.9V199.2H950.5M953.9 198.2H954.7V200.4H950.5M954.7 199.3H955.9V201.5H950.5M955.9 200.4H958.3V202.6H950.5M950.5 203.8H955.9V204.9H950.5M958.3 201.5H959.7V204.3H955.9M950.5 207.2H955.8V208.3H950.5M950.5 206.0H956.7V207.7H955.8M959.7 202.9H962.3V206.9H956.7M950.5 210.6H955.8V211.7H950.5M955.8 211.1H957.2V212.8H950.5M950.5 213.9H956.4V215.1H950.5M950.5 218.5H951.9V219.6H950.5M951.9 219.0H952.5V220.7H950.5M950.5 217.3H952.7V219.9H952.5M952.7 218.6H953.1V221.9H950.5M950.5 216.2H954.2V220.2H953.1M950.5 223.0H954.2V224.1H950.5M954.2 218.2H955.0V223.6H954.2M956.4 214.5H957.0V220.9H955.0M957.2 212.0H959.7V217.7H957.0M950.5 209.4H962.7V214.8H959.7M962.7 212.1H963.4V225.3H950.5M962.3 204.9H967.4V218.7H963.4M961.1 191.3H977.8V211.8H967.4M976.0 164.5H981.3V201.6H977.8M977.8 128.9H984.6V183.0H981.3M950.5 227.5H954.3V228.7H950.5M950.5 226.4H955.9V228.1H954.3M950.5 229.8H956.2V230.9H950.5M955.9 227.2H957.6V230.4H956.2M950.5 232.1H955.8V233.2H950.5M957.6 228.8H958.2V232.6H955.8M950.5 235.4H955.0V236.6H950.5M950.5 234.3H957.0V236.0H955.0M950.5 237.7H956.4V238.8H950.5M957.0 235.2H959.0V238.3H956.4M958.2 230.7H961.1V236.7H959.0M950.5 240.0H956.8V241.1H950.5M961.1 233.7H963.8V240.5H956.8M950.5 243.4H956.0V244.5H950.5M950.5 242.2H957.9V243.9H956.0M950.5 246.8H955.7V247.9H950.5M950.5 245.6H956.8V247.3H955.7M950.5 249.0H955.4V250.2H950.5M955.4 249.6H956.6V251.3H950.5M956.8 246.5H958.2V250.4H956.6M958.2 248.5H959.1V252.4H950.5M957.9 243.1H961.1V250.4H959.1M963.8 237.1H974.7V246.8H961.1M950.5 255.8H954.9V256.9H950.5M950.5 254.7H956.1V256.4H954.9M950.5 253.6H958.1V255.5H956.1M950.5 259.2H954.9V260.3H950.5M950.5 263.7H953.8V264.9H950.5M950.5 262.6H954.7V264.3H953.8M950.5 261.5H955.6V263.5H954.7M954.9 259.8H956.3V262.5H955.6M950.5 266.0H955.7V267.1H950.5M956.3 261.1H956.8V266.6H955.7M950.5 258.1H959.3V263.8H956.8M950.5 269.4H956.5V270.5H950.5M950.5 268.3H957.4V270.0H956.5M959.3 261.0H961.4V269.1H957.4M958.1 254.5H964.4V265.0H961.4M950.5 271.7H955.7V272.8H950.5M950.5 273.9H955.6V275.1H950.5M955.7 272.2H956.4V274.5H955.6M950.5 277.3H955.6V278.4H950.5M950.5 276.2H956.2V277.9H955.6M956.2 277.0H956.9V279.6H950.5M956.4 273.4H957.7V278.3H956.9M957.7 275.8H960.6V280.7H950.5M964.4 259.8H967.4V278.3H960.6M950.5 281.8H955.4V283.0H950.5M950.5 284.1H955.5V285.2H950.5M955.4 282.4H956.4V284.7H955.5M956.4 283.5H958.9V286.4H950.5M950.5 287.5H956.4V288.6H950.5M958.9 285.0H960.0V288.1H956.4M967.4 269.0H976.9V286.5H960.0M974.7 241.9H980.8V277.8H976.9M984.6 156.0H988.2V259.9H980.8M987.9 103.8H994.5V207.9H988.2" fill="none" stroke="#111" stroke-width="1.3"/><rect x="950.2" y="95.2" width="3" height="194.5" fill="#1a1012"/>
</g>
<g id="panel-g">
<text x="12.4" y="362.9" font-size="28.7" fill="#000" font-weight="bold" textLength="20.65" lengthAdjust="spacingAndGlyphs">G</text>
<rect x="152.8" y="345.1" width="139.3" height="390.1" fill="#000"/>
<rect x="222.45" y="462.69" width="34.83" height="38.93" fill="#fff"/>
<rect x="257.28" y="501.62" width="34.83" height="38.93" fill="#fff"/>
<line x1="187.62" y1="347.4" x2="187.62" y2="733.7" stroke="#b4b4b4" stroke-width="1.5"/>
<line x1="222.45" y1="347.4" x2="222.45" y2="733.7" stroke="#b4b4b4" stroke-width="1.5"/>
<line x1="257.28" y1="347.4" x2="257.28" y2="733.7" stroke="#b4b4b4" stroke-width="1.5"/>
<line x1="154.3" y1="384.83" x2="290.6" y2="384.83" stroke="#b4b4b4" stroke-width="1.5"/>
<line x1="154.3" y1="423.76" x2="290.6" y2="423.76" stroke="#b4b4b4" stroke-width="1.5"/>
<line x1="154.3" y1="462.69" x2="290.6" y2="462.69" stroke="#b4b4b4" stroke-width="1.5"/>
<line x1="154.3" y1="501.62" x2="290.6" y2="501.62" stroke="#b4b4b4" stroke-width="1.5"/>
<line x1="154.3" y1="540.55" x2="290.6" y2="540.55" stroke="#b4b4b4" stroke-width="1.5"/>
<line x1="154.3" y1="579.48" x2="290.6" y2="579.48" stroke="#b4b4b4" stroke-width="1.5"/>
<line x1="154.3" y1="618.41" x2="290.6" y2="618.41" stroke="#b4b4b4" stroke-width="1.5"/>
<line x1="154.3" y1="657.34" x2="290.6" y2="657.34" stroke="#b4b4b4" stroke-width="1.5"/>
<line x1="154.3" y1="696.27" x2="290.6" y2="696.27" stroke="#b4b4b4" stroke-width="1.5"/>
<rect x="153.4" y="345.7" width="138.1" height="388.9" fill="none" stroke="#000" stroke-width="1.6"/>
<circle cx="170.41" cy="365.56" r="7.4" fill="#3a7dc6"/>
<circle cx="205.24" cy="365.56" r="7.7" fill="#3a7dc6"/>
<circle cx="240.06" cy="365.56" r="5.3" fill="#3a7dc6"/>
<circle cx="274.89" cy="365.56" r="8.9" fill="#3a7dc6"/>
<circle cx="170.41" cy="404.49" r="9.2" fill="#3a7dc6"/>
<circle cx="205.24" cy="404.49" r="7.7" fill="#3a7dc6"/>
<circle cx="240.06" cy="404.49" r="6.2" fill="#3a7dc6"/>
<circle cx="274.89" cy="404.49" r="11.1" fill="#3a7dc6"/>
<circle cx="170.41" cy="443.43" r="3.7" fill="#3a7dc6"/>
<circle cx="205.24" cy="443.43" r="5.9" fill="#3a7dc6"/>
<circle cx="240.06" cy="443.43" r="7.7" fill="#3a7dc6"/>
<circle cx="274.89" cy="443.43" r="8.6" fill="#3a7dc6"/>
<circle cx="170.41" cy="482.35" r="4.4" fill="#3a7dc6"/>
<circle cx="205.24" cy="482.35" r="3" fill="#3a7dc6"/>
<circle cx="240.06" cy="482.35" r="4.9" fill="#3a7dc6"/>
<circle cx="274.89" cy="482.35" r="8.1" fill="#3a7dc6"/>
<circle cx="170.41" cy="521.29" r="0.6" fill="#3a7dc6"/>
<circle cx="205.24" cy="521.29" r="1.2" fill="#3a7dc6"/>
<circle cx="240.06" cy="521.29" r="5.2" fill="#3a7dc6"/>
<circle cx="274.89" cy="521.29" r="5.6" fill="#3a7dc6"/>
<circle cx="170.41" cy="560.22" r="5" fill="#3a7dc6"/>
<circle cx="205.24" cy="560.22" r="2.5" fill="#3a7dc6"/>
<circle cx="240.06" cy="560.22" r="3.8" fill="#3a7dc6"/>
<circle cx="274.89" cy="560.22" r="6.3" fill="#3a7dc6"/>
<circle cx="170.41" cy="599.15" r="7.3" fill="#3a7dc6"/>
<circle cx="205.24" cy="599.15" r="9.1" fill="#3a7dc6"/>
<circle cx="240.06" cy="599.15" r="8.8" fill="#3a7dc6"/>
<circle cx="274.89" cy="599.15" r="10.7" fill="#3a7dc6"/>
<circle cx="170.41" cy="638.08" r="8.2" fill="#3a7dc6"/>
<circle cx="205.24" cy="638.08" r="7.3" fill="#3a7dc6"/>
<circle cx="240.06" cy="638.08" r="6.9" fill="#3a7dc6"/>
<circle cx="274.89" cy="638.08" r="8.8" fill="#3a7dc6"/>
<circle cx="170.41" cy="677.01" r="3.2" fill="#3a7dc6"/>
<circle cx="205.24" cy="677.01" r="6.6" fill="#3a7dc6"/>
<circle cx="240.06" cy="677.01" r="1.3" fill="#3a7dc6"/>
<circle cx="274.89" cy="677.01" r="6.9" fill="#3a7dc6"/>
<circle cx="170.41" cy="715.94" r="7.3" fill="#3a7dc6"/>
<circle cx="205.24" cy="715.94" r="2.5" fill="#3a7dc6"/>
<circle cx="240.06" cy="715.94" r="9.1" fill="#3a7dc6"/>
<circle cx="274.89" cy="715.94" r="9.1" fill="#3a7dc6"/>
<line x1="150.8" y1="365.37" x2="152.8" y2="365.37" stroke="#000" stroke-width="1"/>
<line x1="150.8" y1="404.29" x2="152.8" y2="404.29" stroke="#000" stroke-width="1"/>
<line x1="150.8" y1="443.23" x2="152.8" y2="443.23" stroke="#000" stroke-width="1"/>
<line x1="150.8" y1="482.15" x2="152.8" y2="482.15" stroke="#000" stroke-width="1"/>
<line x1="150.8" y1="521.09" x2="152.8" y2="521.09" stroke="#000" stroke-width="1"/>
<line x1="150.8" y1="560.01" x2="152.8" y2="560.01" stroke="#000" stroke-width="1"/>
<line x1="150.8" y1="598.95" x2="152.8" y2="598.95" stroke="#000" stroke-width="1"/>
<line x1="150.8" y1="637.88" x2="152.8" y2="637.88" stroke="#000" stroke-width="1"/>
<line x1="150.8" y1="676.81" x2="152.8" y2="676.81" stroke="#000" stroke-width="1"/>
<line x1="150.8" y1="715.74" x2="152.8" y2="715.74" stroke="#000" stroke-width="1"/>
<rect x="303.2" y="345.1" width="139.3" height="390.1" fill="#000"/>
<rect x="372.85" y="345.9" width="34.83" height="38.93" fill="#fff"/>
<rect x="407.68" y="345.9" width="34.83" height="38.93" fill="#fff"/>
<rect x="372.85" y="384.83" width="34.83" height="38.93" fill="#fff"/>
<rect x="372.85" y="501.62" width="34.83" height="38.93" fill="#fff"/>
<rect x="407.68" y="501.62" width="34.83" height="38.93" fill="#fff"/>
<rect x="372.85" y="540.55" width="34.83" height="38.93" fill="#fff"/>
<rect x="407.68" y="579.48" width="34.83" height="38.93" fill="#fff"/>
<rect x="303.2" y="618.41" width="34.83" height="38.93" fill="#fff"/>
<rect x="338.02" y="618.41" width="34.83" height="38.93" fill="#fff"/>
<rect x="407.68" y="618.41" width="34.83" height="38.93" fill="#fff"/>
<rect x="372.85" y="696.27" width="34.83" height="38.93" fill="#fff"/>
<rect x="407.68" y="696.27" width="34.83" height="38.93" fill="#fff"/>
<line x1="338.02" y1="347.4" x2="338.02" y2="733.7" stroke="#b4b4b4" stroke-width="1.5"/>
<line x1="372.85" y1="347.4" x2="372.85" y2="733.7" stroke="#b4b4b4" stroke-width="1.5"/>
<line x1="407.68" y1="347.4" x2="407.68" y2="733.7" stroke="#b4b4b4" stroke-width="1.5"/>
<line x1="304.7" y1="384.83" x2="441" y2="384.83" stroke="#b4b4b4" stroke-width="1.5"/>
<line x1="304.7" y1="423.76" x2="441" y2="423.76" stroke="#b4b4b4" stroke-width="1.5"/>
<line x1="304.7" y1="462.69" x2="441" y2="462.69" stroke="#b4b4b4" stroke-width="1.5"/>
<line x1="304.7" y1="501.62" x2="441" y2="501.62" stroke="#b4b4b4" stroke-width="1.5"/>
<line x1="304.7" y1="540.55" x2="441" y2="540.55" stroke="#b4b4b4" stroke-width="1.5"/>
<line x1="304.7" y1="579.48" x2="441" y2="579.48" stroke="#b4b4b4" stroke-width="1.5"/>
<line x1="304.7" y1="618.41" x2="441" y2="618.41" stroke="#b4b4b4" stroke-width="1.5"/>
<line x1="304.7" y1="657.34" x2="441" y2="657.34" stroke="#b4b4b4" stroke-width="1.5"/>
<line x1="304.7" y1="696.27" x2="441" y2="696.27" stroke="#b4b4b4" stroke-width="1.5"/>
<rect x="303.8" y="345.7" width="138.1" height="388.9" fill="none" stroke="#000" stroke-width="1.6"/>
<circle cx="320.81" cy="365.56" r="5.8" fill="#ee7f1c"/>
<circle cx="355.64" cy="365.56" r="6.6" fill="#ee7f1c"/>
<circle cx="390.46" cy="365.56" r="3.8" fill="#ee7f1c"/>
<circle cx="425.29" cy="365.56" r="2.3" fill="#3a7dc6"/>
<circle cx="320.81" cy="404.49" r="8.9" fill="#ee7f1c"/>
<circle cx="355.64" cy="404.49" r="7.6" fill="#ee7f1c"/>
<circle cx="390.46" cy="404.49" r="2" fill="#ee7f1c"/>
<circle cx="425.29" cy="404.49" r="4.7" fill="#ee7f1c"/>
<circle cx="320.81" cy="443.43" r="7.3" fill="#ee7f1c"/>
<circle cx="355.64" cy="443.43" r="7.6" fill="#ee7f1c"/>
<circle cx="390.46" cy="443.43" r="8.7" fill="#ee7f1c"/>
<circle cx="425.29" cy="443.43" r="4.1" fill="#ee7f1c"/>
<circle cx="320.81" cy="482.35" r="8.2" fill="#ee7f1c"/>
<circle cx="355.64" cy="482.35" r="7.9" fill="#ee7f1c"/>
<circle cx="390.46" cy="482.35" r="7.6" fill="#ee7f1c"/>
<circle cx="425.29" cy="482.35" r="10.8" fill="#ee7f1c"/>
<circle cx="320.81" cy="521.29" r="7.9" fill="#ee7f1c"/>
<circle cx="355.64" cy="521.29" r="7.6" fill="#ee7f1c"/>
<circle cx="390.46" cy="521.29" r="2.9" fill="#ee7f1c"/>
<circle cx="425.29" cy="521.29" r="4.4" fill="#ee7f1c"/>
<circle cx="320.81" cy="560.22" r="2.8" fill="#ee7f1c"/>
<circle cx="355.64" cy="560.22" r="1.9" fill="#ee7f1c"/>
<circle cx="390.46" cy="560.22" r="2.8" fill="#ee7f1c"/>
<circle cx="425.29" cy="560.22" r="3.8" fill="#ee7f1c"/>
<circle cx="320.81" cy="599.15" r="8.8" fill="#ee7f1c"/>
<circle cx="355.64" cy="599.15" r="2.8" fill="#ee7f1c"/>
<circle cx="390.46" cy="599.15" r="5.7" fill="#ee7f1c"/>
<circle cx="425.29" cy="599.15" r="4.1" fill="#ee7f1c"/>
<circle cx="320.81" cy="638.08" r="0.5" fill="#ee7f1c"/>
<circle cx="355.64" cy="638.08" r="0.5" fill="#3a7dc6"/>
<circle cx="390.46" cy="638.08" r="7.6" fill="#ee7f1c"/>
<circle cx="425.29" cy="638.08" r="5.7" fill="#3a7dc6"/>
<circle cx="320.81" cy="677.01" r="2.5" fill="#ee7f1c"/>
<circle cx="355.64" cy="677.01" r="5.4" fill="#ee7f1c"/>
<circle cx="390.46" cy="677.01" r="7.9" fill="#ee7f1c"/>
<circle cx="425.29" cy="677.01" r="7.3" fill="#ee7f1c"/>
<circle cx="320.81" cy="715.94" r="5" fill="#ee7f1c"/>
<circle cx="355.64" cy="715.94" r="4.4" fill="#ee7f1c"/>
<circle cx="390.46" cy="715.94" r="5" fill="#ee7f1c"/>
<circle cx="425.29" cy="715.94" r="1.9" fill="#ee7f1c"/>
<line x1="301.2" y1="365.37" x2="303.2" y2="365.37" stroke="#000" stroke-width="1"/>
<line x1="301.2" y1="404.29" x2="303.2" y2="404.29" stroke="#000" stroke-width="1"/>
<line x1="301.2" y1="443.23" x2="303.2" y2="443.23" stroke="#000" stroke-width="1"/>
<line x1="301.2" y1="482.15" x2="303.2" y2="482.15" stroke="#000" stroke-width="1"/>
<line x1="301.2" y1="521.09" x2="303.2" y2="521.09" stroke="#000" stroke-width="1"/>
<line x1="301.2" y1="560.01" x2="303.2" y2="560.01" stroke="#000" stroke-width="1"/>
<line x1="301.2" y1="598.95" x2="303.2" y2="598.95" stroke="#000" stroke-width="1"/>
<line x1="301.2" y1="637.88" x2="303.2" y2="637.88" stroke="#000" stroke-width="1"/>
<line x1="301.2" y1="676.81" x2="303.2" y2="676.81" stroke="#000" stroke-width="1"/>
<line x1="301.2" y1="715.74" x2="303.2" y2="715.74" stroke="#000" stroke-width="1"/>
<text x="142.7" y="373.57" font-size="20.3" fill="#1a1a1a" text-anchor="end" textLength="96.72" lengthAdjust="spacingAndGlyphs">circASAP1</text>
<text x="142.7" y="410.89" font-size="20.3" fill="#1a1a1a" text-anchor="end" textLength="125.95" lengthAdjust="spacingAndGlyphs">circCSNK1G3</text>
<text x="142.7" y="449.83" font-size="20.3" fill="#1a1a1a" text-anchor="end" textLength="83.2" lengthAdjust="spacingAndGlyphs">circEZH2</text>
<text x="142.7" y="488.75" font-size="20.3" fill="#1a1a1a" text-anchor="end" textLength="113.57" lengthAdjust="spacingAndGlyphs">circGOLPH3</text>
<text x="142.7" y="527.69" font-size="20.3" fill="#1a1a1a" text-anchor="end" textLength="93.35" lengthAdjust="spacingAndGlyphs">circKLHL8</text>
<text x="142.7" y="566.62" font-size="20.3" fill="#1a1a1a" text-anchor="end" textLength="78.71" lengthAdjust="spacingAndGlyphs">circPHIP</text>
<text x="142.7" y="605.55" font-size="20.3" fill="#1a1a1a" text-anchor="end" textLength="84.34" lengthAdjust="spacingAndGlyphs">circPSD3</text>
<text x="142.7" y="644.48" font-size="20.3" fill="#1a1a1a" text-anchor="end" textLength="123.7" lengthAdjust="spacingAndGlyphs">circRPS6KC1</text>
<text x="142.7" y="683.41" font-size="20.3" fill="#1a1a1a" text-anchor="end" textLength="95.2" lengthAdjust="spacingAndGlyphs">circSTAU2</text>
<text x="142.7" y="722.34" font-size="20.3" fill="#1a1a1a" text-anchor="end" textLength="97.84" lengthAdjust="spacingAndGlyphs">circUBAP2</text>
<text x="171.21" y="752.3" font-size="20.6" fill="#1a1a1a" text-anchor="middle">L</text>
<text x="206.04" y="752.3" font-size="20.6" fill="#1a1a1a" text-anchor="middle">V</text>
<text x="240.86" y="752.3" font-size="20.6" fill="#1a1a1a" text-anchor="middle">R</text>
<text x="275.69" y="752.3" font-size="20.6" fill="#1a1a1a" text-anchor="middle">P</text>
<text x="321.61" y="752.3" font-size="20.6" fill="#1a1a1a" text-anchor="middle">L</text>
<text x="356.44" y="752.3" font-size="20.6" fill="#1a1a1a" text-anchor="middle">V</text>
<text x="391.26" y="752.3" font-size="20.6" fill="#1a1a1a" text-anchor="middle">R</text>
<text x="426.09" y="752.3" font-size="20.6" fill="#1a1a1a" text-anchor="middle">P</text>
<line x1="153.2" y1="754.6" x2="292.9" y2="754.6" stroke="#1a1a1a" stroke-width="1.4"/>
<line x1="304.6" y1="754.6" x2="444.2" y2="754.6" stroke="#1a1a1a" stroke-width="1.4"/>
<text x="224.3" y="773.9" font-size="20.6" fill="#1a1a1a" text-anchor="middle" textLength="27.5" lengthAdjust="spacingAndGlyphs">KD</text>
<text x="374.9" y="773.9" font-size="20.6" fill="#1a1a1a" text-anchor="middle" textLength="28.5" lengthAdjust="spacingAndGlyphs">OE</text>
<text x="450.7" y="358.2" font-size="15.4" fill="#1a1a1a" textLength="88.4" lengthAdjust="spacingAndGlyphs">KD log<tspan font-size="10.5" dy="2.6">2</tspan><tspan dy="-2.6">(FC)</tspan></text>
<line x1="449.5" y1="362.3" x2="533.5" y2="362.3" stroke="#1a1a1a" stroke-width="1.2"/>
<circle cx="464.3" cy="377.5" r="12" fill="#3a7dc6"/>
<circle cx="464.3" cy="396.8" r="6.6" fill="#3a7dc6"/>
<circle cx="464.3" cy="428.1" r="6.6" fill="#ee7f1c"/>
<circle cx="464.3" cy="447.9" r="12" fill="#ee7f1c"/>
<text x="509.6" y="380.8" font-size="14.6" fill="#1a1a1a" text-anchor="end" textLength="13.76" lengthAdjust="spacingAndGlyphs">-2</text>
<text x="509.6" y="399.3" font-size="14.6" fill="#1a1a1a" text-anchor="end" textLength="13.76" lengthAdjust="spacingAndGlyphs">-1</text>
<text x="509.6" y="416" font-size="14.6" fill="#1a1a1a" text-anchor="end" textLength="8.61" lengthAdjust="spacingAndGlyphs">0</text>
<text x="509.6" y="434.7" font-size="14.6" fill="#1a1a1a" text-anchor="end" textLength="8.61" lengthAdjust="spacingAndGlyphs">1</text>
<text x="509.6" y="453.6" font-size="14.6" fill="#1a1a1a" text-anchor="end" textLength="8.61" lengthAdjust="spacingAndGlyphs">2</text>
<text x="450.7" y="481.2" font-size="15.4" fill="#1a1a1a" textLength="88.4" lengthAdjust="spacingAndGlyphs">OE log<tspan font-size="10.5" dy="2.6">2</tspan><tspan dy="-2.6">(FC)</tspan></text>
<line x1="449.5" y1="485.2" x2="533.5" y2="485.2" stroke="#1a1a1a" stroke-width="1.2"/>
<circle cx="465" cy="497.9" r="9.55" fill="#3a7dc6"/>
<circle cx="465" cy="513" r="5.1" fill="#3a7dc6"/>
<circle cx="465" cy="543.2" r="5.1" fill="#ee7f1c"/>
<circle cx="465" cy="558" r="9.55" fill="#ee7f1c"/>
<text x="509.6" y="500.4" font-size="14.6" fill="#1a1a1a" text-anchor="end" textLength="27.17" lengthAdjust="spacingAndGlyphs">-0.4</text>
<text x="509.6" y="515.2" font-size="14.6" fill="#1a1a1a" text-anchor="end" textLength="27.17" lengthAdjust="spacingAndGlyphs">-0.2</text>
<text x="509.6" y="530.5" font-size="14.6" fill="#1a1a1a" text-anchor="end" textLength="8.77" lengthAdjust="spacingAndGlyphs">0</text>
<text x="509.6" y="547" font-size="14.6" fill="#1a1a1a" text-anchor="end" textLength="21.92" lengthAdjust="spacingAndGlyphs">0.2</text>
<text x="509.6" y="563.5" font-size="14.6" fill="#1a1a1a" text-anchor="end" textLength="21.92" lengthAdjust="spacingAndGlyphs">0.4</text>
<text x="466.6" y="607.7" font-size="15.6" fill="#1a1a1a" textLength="54.4" lengthAdjust="spacingAndGlyphs">P-value</text>
<line x1="448.5" y1="614.6" x2="532.2" y2="614.6" stroke="#1a1a1a" stroke-width="1.2"/>
<rect x="465.8" y="631.1" width="20.3" height="38.4" fill="#fff" stroke="#000" stroke-width="1.6"/>
<rect x="465.8" y="631.1" width="20.3" height="19.2" fill="#000"/>
<text x="497.6" y="644.6" font-size="14.6" fill="#1a1a1a" textLength="27.2" lengthAdjust="spacingAndGlyphs">&lt;10</text>
<text x="527.3" y="636.1" font-size="10.3" fill="#1a1a1a" textLength="10.7" lengthAdjust="spacingAndGlyphs">-5</text>
<text x="497.9" y="667.3" font-size="14.6" fill="#1a1a1a" textLength="27.2" lengthAdjust="spacingAndGlyphs">&gt;10</text>
<text x="529.2" y="659.2" font-size="10.3" fill="#1a1a1a" textLength="10.7" lengthAdjust="spacingAndGlyphs">-5</text>
</g>
<g id="panel-h">
<text x="602.8" y="376.2" font-size="28.7" fill="#000" font-weight="bold" textLength="19.17" lengthAdjust="spacingAndGlyphs">H</text>
<text x="743.4" y="381.8" font-size="19.6" fill="#1a1a1a" textLength="141.3" lengthAdjust="spacingAndGlyphs">CRISPR screen</text>
<line x1="719.3" y1="395" x2="719.3" y2="706" stroke="#c2c2c2" stroke-width="2.3" stroke-dasharray="6.5 2.2"/>
<line x1="664.9" y1="394.6" x2="664.9" y2="706.5" stroke="#1a1a1a" stroke-width="1.2"/>
<line x1="659.4" y1="706" x2="964.8" y2="706" stroke="#1a1a1a" stroke-width="1.3"/>
<line x1="659.4" y1="706" x2="665" y2="706" stroke="#1a1a1a" stroke-width="1.3"/>
<text x="653.8" y="712.3" font-size="19" fill="#1a1a1a" text-anchor="end">0.0</text>
<line x1="659.4" y1="581.8" x2="665" y2="581.8" stroke="#1a1a1a" stroke-width="1.3"/>
<text x="653.8" y="588.1" font-size="19" fill="#1a1a1a" text-anchor="end">0.5</text>
<line x1="659.4" y1="457.6" x2="665" y2="457.6" stroke="#1a1a1a" stroke-width="1.3"/>
<text x="653.8" y="463.9" font-size="19" fill="#1a1a1a" text-anchor="end">1.0</text>
<line x1="664.5" y1="706" x2="664.5" y2="712" stroke="#1a1a1a" stroke-width="1.3"/>
<text x="665.3" y="732.2" font-size="19" fill="#1a1a1a" text-anchor="middle">0</text>
<line x1="706.55" y1="706" x2="706.55" y2="712" stroke="#1a1a1a" stroke-width="1.3"/>
<text x="707.35" y="732.2" font-size="19" fill="#1a1a1a" text-anchor="middle">1</text>
<line x1="748.6" y1="706" x2="748.6" y2="712" stroke="#1a1a1a" stroke-width="1.3"/>
<text x="749.4" y="732.2" font-size="19" fill="#1a1a1a" text-anchor="middle">2</text>
<line x1="790.65" y1="706" x2="790.65" y2="712" stroke="#1a1a1a" stroke-width="1.3"/>
<text x="791.45" y="732.2" font-size="19" fill="#1a1a1a" text-anchor="middle">3</text>
<line x1="832.7" y1="706" x2="832.7" y2="712" stroke="#1a1a1a" stroke-width="1.3"/>
<text x="833.5" y="732.2" font-size="19" fill="#1a1a1a" text-anchor="middle">4</text>
<line x1="874.75" y1="706" x2="874.75" y2="712" stroke="#1a1a1a" stroke-width="1.3"/>
<text x="875.55" y="732.2" font-size="19" fill="#1a1a1a" text-anchor="middle">5</text>
<line x1="916.8" y1="706" x2="916.8" y2="712" stroke="#1a1a1a" stroke-width="1.3"/>
<text x="917.6" y="732.2" font-size="19" fill="#1a1a1a" text-anchor="middle">6</text>
<line x1="958.85" y1="706" x2="958.85" y2="712" stroke="#1a1a1a" stroke-width="1.3"/>
<text x="959.65" y="732.2" font-size="19" fill="#1a1a1a" text-anchor="middle">7</text>
<text x="754.2" y="758.1" font-size="19" fill="#1a1a1a" textLength="130.6" lengthAdjust="spacingAndGlyphs">-log<tspan font-size="12" dy="1.5">10</tspan><tspan dy="-1.5">(P-value)</tspan></text>
<text transform="translate(615.3 644.6) rotate(-90)" font-size="20.9" fill="#1a1a1a" textLength="179" lengthAdjust="spacingAndGlyphs">Cumulative fraction</text>
<path d="M664.5 706.0C664.6 703.3 665.0 695.0 665.3 690.0C665.6 685.0 665.9 680.8 666.1 675.7C666.4 670.6 666.5 665.4 666.8 659.6C667.1 653.8 667.6 646.7 668.0 641.0C668.4 635.3 668.9 631.3 669.4 625.3C669.9 619.3 670.5 611.9 671.2 605.0C671.9 598.1 672.6 590.8 673.4 584.0C674.2 577.2 675.2 568.6 675.8 564.1C676.4 559.6 676.4 560.9 677.1 557.1C677.8 553.3 679.0 546.5 680.2 541.3C681.4 536.1 683.0 530.5 684.5 526.0C686.0 521.5 687.5 517.7 689.0 514.5C690.5 511.3 691.5 509.5 693.2 507.0C694.9 504.5 697.0 501.9 699.0 499.6C701.0 497.3 703.1 495.4 705.3 493.4C707.5 491.4 709.6 489.4 712.0 487.6C714.4 485.8 716.2 484.1 719.4 482.4C722.6 480.6 727.0 478.6 731.0 477.1C735.0 475.6 738.9 474.5 743.7 473.2C748.5 471.9 754.0 470.6 760.0 469.3C766.0 468.0 773.3 466.7 780.0 465.6C786.7 464.6 792.5 463.9 800.0 463.0C807.5 462.1 816.9 461.0 825.0 460.3C833.1 459.6 839.5 459.1 848.7 458.6C857.9 458.2 869.8 457.8 880.0 457.6C890.2 457.4 899.3 457.4 910.0 457.3C920.7 457.2 938.3 457.2 944.0 457.2" fill="none" stroke="#000" stroke-width="3" stroke-linecap="butt"/>
<line x1="693.2" y1="507" x2="725.4" y2="500" stroke="#231f20" stroke-width="2"/>
<line x1="693.2" y1="507" x2="725.4" y2="514.2" stroke="#231f20" stroke-width="2"/>
<circle cx="800" cy="463" r="3.3" fill="#e8262a"/>
<circle cx="693.2" cy="507" r="3.3" fill="#e8262a"/>
<circle cx="680.2" cy="541.3" r="3.3" fill="#e8262a"/>
<circle cx="677.1" cy="557.1" r="3.3" fill="#e8262a"/>
<circle cx="675.8" cy="564.1" r="3.3" fill="#e8262a"/>
<circle cx="669.4" cy="625.3" r="3.3" fill="#e8262a"/>
<circle cx="666.8" cy="659.6" r="3.3" fill="#e8262a"/>
<circle cx="666.1" cy="675.7" r="3.3" fill="#e8262a"/>
<circle cx="664.5" cy="705.8" r="3.3" fill="#e8262a"/>
<text x="790.3" y="451.4" font-size="19" fill="#1a1a1a" textLength="45.6" lengthAdjust="spacingAndGlyphs">PHIP</text>
<text x="727" y="503.2" font-size="19" fill="#1a1a1a" textLength="49.5" lengthAdjust="spacingAndGlyphs">EZH2</text>
<text x="724.5" y="526.2" font-size="19" fill="#1a1a1a" textLength="93" lengthAdjust="spacingAndGlyphs">CSNK1G3</text>
<text x="684.3" y="546.4" font-size="19" fill="#1a1a1a" textLength="81.2" lengthAdjust="spacingAndGlyphs">GOLPH3</text>
<text x="682.2" y="563.5" font-size="19" fill="#1a1a1a" textLength="90.9" lengthAdjust="spacingAndGlyphs">RPS6KC1</text>
<text x="680.2" y="582.8" font-size="19" fill="#1a1a1a" textLength="51.2" lengthAdjust="spacingAndGlyphs">PSD3</text>
<text x="673.2" y="632.2" font-size="19" fill="#1a1a1a" textLength="64.8" lengthAdjust="spacingAndGlyphs">UBAP2</text>
<text x="677.1" y="662.7" font-size="19" fill="#1a1a1a" textLength="60.2" lengthAdjust="spacingAndGlyphs">KLHL8</text>
<text x="672" y="683.9" font-size="19" fill="#1a1a1a" textLength="64" lengthAdjust="spacingAndGlyphs">STAU2</text>
<text x="670.6" y="702.6" font-size="19" fill="#1a1a1a" textLength="62" lengthAdjust="spacingAndGlyphs">ASAP1</text>
</g>
</svg>
</body>
</html>
